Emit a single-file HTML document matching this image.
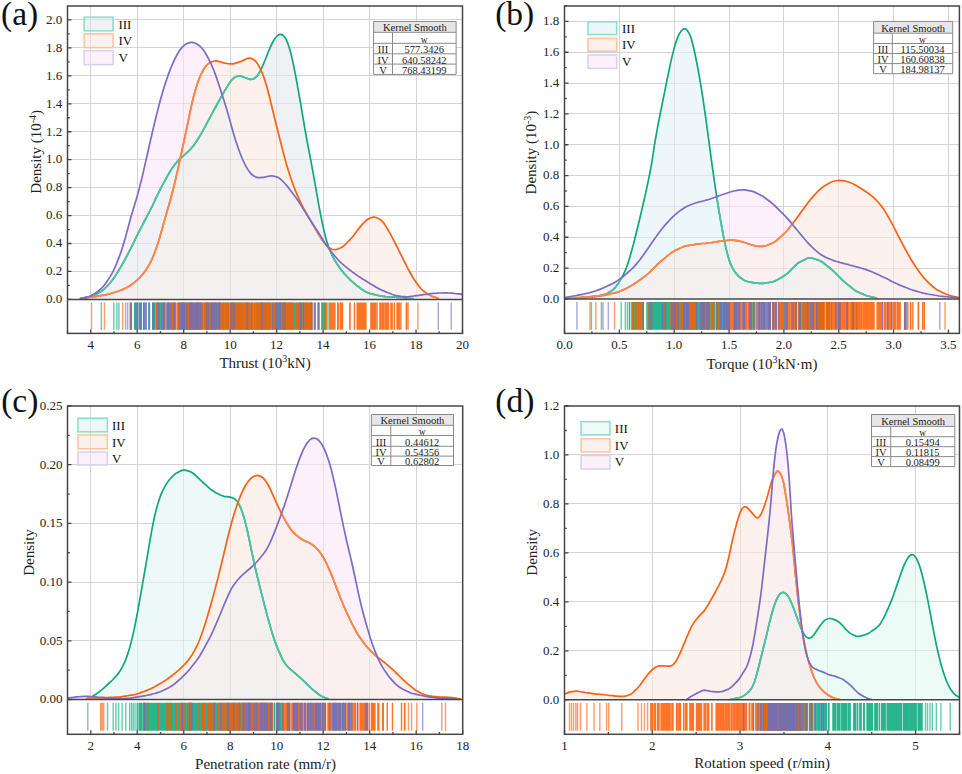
<!DOCTYPE html><html><head><meta charset="utf-8"><title>Kernel density plots</title>
<style>html,body{margin:0;padding:0;background:#fff;}svg{display:block;}</style></head><body>
<svg width="962" height="774" viewBox="0 0 962 774">
<rect width="962" height="774" fill="#fff"/>
<defs><clipPath id="clipa"><rect x="67.5" y="6" width="395" height="293.4"/></clipPath>
<path id="caIII" d="M79.8,298.6C80.3,298.5 81.8,298.1 82.8,298C83.8,297.8 84.8,297.6 85.8,297.4C86.8,297.3 87.8,297.1 88.8,296.8C89.8,296.5 90.8,296.3 91.8,295.9C92.8,295.6 93.8,295.2 94.8,294.8C95.8,294.4 96.8,294 97.8,293.5C98.8,292.9 99.8,292.3 100.8,291.6C101.8,290.9 102.8,290.1 103.8,289.3C104.8,288.4 105.8,287.5 106.8,286.5C107.8,285.5 108.8,284.4 109.8,283.3C110.8,282.1 111.8,280.8 112.8,279.5C113.8,278.1 114.8,276.7 115.8,275.1C116.8,273.6 117.8,272 118.8,270.3C119.8,268.7 120.8,266.9 121.8,265.2C122.8,263.4 123.8,261.6 124.8,259.8C125.8,257.9 126.8,256.1 127.8,254.1C128.8,252.2 129.8,250.2 130.8,248.3C131.8,246.3 132.8,244.3 133.8,242.3C134.8,240.3 135.8,238.3 136.8,236.2C137.8,234.2 138.8,232.2 139.8,230.2C140.8,228.2 141.8,226.2 142.8,224.3C143.8,222.3 144.8,220.4 145.8,218.5C146.8,216.6 147.8,214.8 148.8,212.9C149.8,211 150.8,209.1 151.8,207C152.8,205 153.8,202.8 154.8,200.6C155.8,198.5 156.8,196.3 157.8,194.3C158.8,192.2 159.8,190.2 160.8,188.3C161.8,186.3 162.8,184.4 163.8,182.6C164.8,180.7 165.8,178.9 166.8,177.2C167.8,175.4 168.8,173.6 169.8,172C170.8,170.3 171.8,168.7 172.8,167.3C173.8,165.8 174.8,164.5 175.8,163.3C176.8,162 177.8,160.9 178.8,159.9C179.8,158.9 180.8,158 181.8,157.1C182.8,156.2 183.8,155.4 184.8,154.6C185.8,153.7 186.8,152.9 187.8,151.9C188.8,151 189.8,150 190.8,148.9C191.8,147.7 192.8,146.5 193.8,145.2C194.8,143.8 195.8,142.4 196.8,140.8C197.8,139.3 198.8,137.7 199.8,136C200.8,134.3 201.8,132.6 202.8,130.8C203.8,129 204.8,127.2 205.8,125.3C206.8,123.5 207.8,121.6 208.8,119.7C209.8,117.9 210.8,116 211.8,114.1C212.8,112.2 213.8,110.3 214.8,108.5C215.8,106.6 216.8,104.8 217.8,103C218.8,101.2 219.8,99.4 220.8,97.6C221.8,95.9 222.8,94.1 223.8,92.3C224.8,90.6 225.8,88.8 226.8,87.2C227.8,85.5 228.8,83.8 229.8,82.4C230.8,81 231.8,79.8 232.8,78.8C233.8,77.9 234.8,77.2 235.8,76.7C236.8,76.3 237.8,76 238.8,76C239.8,75.9 240.8,76.2 241.8,76.4C242.8,76.7 243.8,77.1 244.8,77.5C245.8,77.8 246.8,78.3 247.8,78.7C248.8,79 249.8,79.4 250.8,79.4C251.8,79.4 252.8,79.2 253.8,78.7C254.8,78.2 255.8,77.4 256.8,76.2C257.8,75.1 258.8,73.6 259.8,71.8C260.8,70.1 261.8,67.9 262.8,65.6C263.8,63.3 264.8,60.8 265.8,58.3C266.8,55.8 267.8,53.1 268.8,50.7C269.8,48.4 270.8,46 271.8,44C272.8,42 273.8,40.2 274.8,38.8C275.8,37.3 276.8,36.1 277.8,35.4C278.8,34.6 279.8,34.2 280.8,34.3C281.8,34.4 282.8,34.9 283.8,36C284.8,37 285.8,38.6 286.8,40.8C287.8,43.1 288.8,46 289.8,49.4C290.8,52.9 291.8,57.1 292.8,61.6C293.8,66.2 294.8,71.4 295.8,76.6C296.8,81.9 297.8,87.4 298.8,93.1C299.8,98.7 300.8,104.6 301.8,110.4C302.8,116.3 303.8,122.6 304.8,128.3C305.8,134.1 306.8,139.6 307.8,145C308.8,150.3 309.8,155.1 310.8,160.4C311.8,165.6 312.8,171.1 313.8,176.7C314.8,182.2 315.8,188.2 316.8,193.8C317.8,199.4 318.8,205.1 319.8,210.3C320.8,215.6 321.8,220.7 322.8,225.3C323.8,229.9 324.8,234.3 325.8,238C326.8,241.7 327.8,244.8 328.8,247.5C329.8,250.3 330.8,252.6 331.8,254.7C332.8,256.8 333.8,258.6 334.8,260.3C335.8,262 336.8,263.5 337.8,265C338.8,266.5 339.8,268 340.8,269.3C341.8,270.7 342.8,271.9 343.8,273.1C344.8,274.2 345.8,275.2 346.8,276.3C347.8,277.3 348.8,278.3 349.8,279.3C350.8,280.3 351.8,281.3 352.8,282.2C353.8,283.1 354.8,284 355.8,284.8C356.8,285.6 357.8,286.3 358.8,287C359.8,287.8 360.8,288.5 361.8,289.2C362.8,289.9 363.8,290.6 364.8,291.2C365.8,291.7 366.8,292.3 367.8,292.7C368.8,293.1 369.8,293.4 370.8,293.7C371.8,294 372.8,294.2 373.8,294.4C374.8,294.7 375.8,294.9 376.8,295.2C377.8,295.4 378.8,295.6 379.8,295.8C380.8,296 381.8,296.2 382.8,296.3C383.8,296.4 384.8,296.5 385.8,296.6C386.8,296.6 387.8,296.7 388.8,296.8C389.8,296.8 390.8,296.9 391.8,296.9C392.8,297 393.8,297.1 394.8,297.1C395.8,297.2 396.8,297.2 397.8,297.3C398.8,297.4 399.8,297.4 400.8,297.5C401.8,297.6 402.8,297.7 403.8,297.8C404.8,297.9 405.8,298 406.8,298.1C407.8,298.2 408.8,298.3 409.8,298.4C410.8,298.5 412.3,298.6 412.8,298.6C413.3,298.7 413,298.8 413,298.8"/>
<path id="aaIII" d="M79.8,298.6C80.3,298.5 81.8,298.1 82.8,298C83.8,297.8 84.8,297.6 85.8,297.4C86.8,297.3 87.8,297.1 88.8,296.8C89.8,296.5 90.8,296.3 91.8,295.9C92.8,295.6 93.8,295.2 94.8,294.8C95.8,294.4 96.8,294 97.8,293.5C98.8,292.9 99.8,292.3 100.8,291.6C101.8,290.9 102.8,290.1 103.8,289.3C104.8,288.4 105.8,287.5 106.8,286.5C107.8,285.5 108.8,284.4 109.8,283.3C110.8,282.1 111.8,280.8 112.8,279.5C113.8,278.1 114.8,276.7 115.8,275.1C116.8,273.6 117.8,272 118.8,270.3C119.8,268.7 120.8,266.9 121.8,265.2C122.8,263.4 123.8,261.6 124.8,259.8C125.8,257.9 126.8,256.1 127.8,254.1C128.8,252.2 129.8,250.2 130.8,248.3C131.8,246.3 132.8,244.3 133.8,242.3C134.8,240.3 135.8,238.3 136.8,236.2C137.8,234.2 138.8,232.2 139.8,230.2C140.8,228.2 141.8,226.2 142.8,224.3C143.8,222.3 144.8,220.4 145.8,218.5C146.8,216.6 147.8,214.8 148.8,212.9C149.8,211 150.8,209.1 151.8,207C152.8,205 153.8,202.8 154.8,200.6C155.8,198.5 156.8,196.3 157.8,194.3C158.8,192.2 159.8,190.2 160.8,188.3C161.8,186.3 162.8,184.4 163.8,182.6C164.8,180.7 165.8,178.9 166.8,177.2C167.8,175.4 168.8,173.6 169.8,172C170.8,170.3 171.8,168.7 172.8,167.3C173.8,165.8 174.8,164.5 175.8,163.3C176.8,162 177.8,160.9 178.8,159.9C179.8,158.9 180.8,158 181.8,157.1C182.8,156.2 183.8,155.4 184.8,154.6C185.8,153.7 186.8,152.9 187.8,151.9C188.8,151 189.8,150 190.8,148.9C191.8,147.7 192.8,146.5 193.8,145.2C194.8,143.8 195.8,142.4 196.8,140.8C197.8,139.3 198.8,137.7 199.8,136C200.8,134.3 201.8,132.6 202.8,130.8C203.8,129 204.8,127.2 205.8,125.3C206.8,123.5 207.8,121.6 208.8,119.7C209.8,117.9 210.8,116 211.8,114.1C212.8,112.2 213.8,110.3 214.8,108.5C215.8,106.6 216.8,104.8 217.8,103C218.8,101.2 219.8,99.4 220.8,97.6C221.8,95.9 222.8,94.1 223.8,92.3C224.8,90.6 225.8,88.8 226.8,87.2C227.8,85.5 228.8,83.8 229.8,82.4C230.8,81 231.8,79.8 232.8,78.8C233.8,77.9 234.8,77.2 235.8,76.7C236.8,76.3 237.8,76 238.8,76C239.8,75.9 240.8,76.2 241.8,76.4C242.8,76.7 243.8,77.1 244.8,77.5C245.8,77.8 246.8,78.3 247.8,78.7C248.8,79 249.8,79.4 250.8,79.4C251.8,79.4 252.8,79.2 253.8,78.7C254.8,78.2 255.8,77.4 256.8,76.2C257.8,75.1 258.8,73.6 259.8,71.8C260.8,70.1 261.8,67.9 262.8,65.6C263.8,63.3 264.8,60.8 265.8,58.3C266.8,55.8 267.8,53.1 268.8,50.7C269.8,48.4 270.8,46 271.8,44C272.8,42 273.8,40.2 274.8,38.8C275.8,37.3 276.8,36.1 277.8,35.4C278.8,34.6 279.8,34.2 280.8,34.3C281.8,34.4 282.8,34.9 283.8,36C284.8,37 285.8,38.6 286.8,40.8C287.8,43.1 288.8,46 289.8,49.4C290.8,52.9 291.8,57.1 292.8,61.6C293.8,66.2 294.8,71.4 295.8,76.6C296.8,81.9 297.8,87.4 298.8,93.1C299.8,98.7 300.8,104.6 301.8,110.4C302.8,116.3 303.8,122.6 304.8,128.3C305.8,134.1 306.8,139.6 307.8,145C308.8,150.3 309.8,155.1 310.8,160.4C311.8,165.6 312.8,171.1 313.8,176.7C314.8,182.2 315.8,188.2 316.8,193.8C317.8,199.4 318.8,205.1 319.8,210.3C320.8,215.6 321.8,220.7 322.8,225.3C323.8,229.9 324.8,234.3 325.8,238C326.8,241.7 327.8,244.8 328.8,247.5C329.8,250.3 330.8,252.6 331.8,254.7C332.8,256.8 333.8,258.6 334.8,260.3C335.8,262 336.8,263.5 337.8,265C338.8,266.5 339.8,268 340.8,269.3C341.8,270.7 342.8,271.9 343.8,273.1C344.8,274.2 345.8,275.2 346.8,276.3C347.8,277.3 348.8,278.3 349.8,279.3C350.8,280.3 351.8,281.3 352.8,282.2C353.8,283.1 354.8,284 355.8,284.8C356.8,285.6 357.8,286.3 358.8,287C359.8,287.8 360.8,288.5 361.8,289.2C362.8,289.9 363.8,290.6 364.8,291.2C365.8,291.7 366.8,292.3 367.8,292.7C368.8,293.1 369.8,293.4 370.8,293.7C371.8,294 372.8,294.2 373.8,294.4C374.8,294.7 375.8,294.9 376.8,295.2C377.8,295.4 378.8,295.6 379.8,295.8C380.8,296 381.8,296.2 382.8,296.3C383.8,296.4 384.8,296.5 385.8,296.6C386.8,296.6 387.8,296.7 388.8,296.8C389.8,296.8 390.8,296.9 391.8,296.9C392.8,297 393.8,297.1 394.8,297.1C395.8,297.2 396.8,297.2 397.8,297.3C398.8,297.4 399.8,297.4 400.8,297.5C401.8,297.6 402.8,297.7 403.8,297.8C404.8,297.9 405.8,298 406.8,298.1C407.8,298.2 408.8,298.3 409.8,298.4C410.8,298.5 412.3,298.6 412.8,298.6C413.3,298.7 413,298.8 413,298.8L413,299.4L79.8,299.4Z"/>
<clipPath id="faIII"><use href="#aaIII"/></clipPath>
<path id="caIV" d="M79.8,298.5C80.3,298.4 81.8,298.2 82.8,298.1C83.8,298 84.8,297.9 85.8,297.8C86.8,297.6 87.8,297.5 88.8,297.4C89.8,297.2 90.8,297.1 91.8,297C92.8,296.8 93.8,296.7 94.8,296.6C95.8,296.4 96.8,296.3 97.8,296.1C98.8,296 99.8,295.9 100.8,295.7C101.8,295.6 102.8,295.4 103.8,295.2C104.8,295.1 105.8,294.9 106.8,294.6C107.8,294.4 108.8,294.1 109.8,293.8C110.8,293.5 111.8,293.2 112.8,292.9C113.8,292.6 114.8,292.3 115.8,292C116.8,291.7 117.8,291.3 118.8,291C119.8,290.6 120.8,290.2 121.8,289.8C122.8,289.4 123.8,288.9 124.8,288.5C125.8,288 126.8,287.6 127.8,287C128.8,286.5 129.8,285.9 130.8,285.2C131.8,284.5 132.8,283.7 133.8,282.9C134.8,282.2 135.8,281.3 136.8,280.4C137.8,279.5 138.8,278.5 139.8,277.5C140.8,276.4 141.8,275.3 142.8,274.1C143.8,272.9 144.8,271.6 145.8,270.2C146.8,268.7 147.8,267.2 148.8,265.4C149.8,263.7 150.8,261.8 151.8,259.6C152.8,257.4 153.8,255 154.8,252.3C155.8,249.7 156.8,246.9 157.8,243.8C158.8,240.7 159.8,237.3 160.8,233.8C161.8,230.3 162.8,226.5 163.8,222.9C164.8,219.3 165.8,215.7 166.8,212.2C167.8,208.7 168.8,205.4 169.8,201.9C170.8,198.3 171.8,194.7 172.8,190.8C173.8,186.9 174.8,182.7 175.8,178.5C176.8,174.2 177.8,169.6 178.8,165.1C179.8,160.5 180.8,155.9 181.8,151.2C182.8,146.6 183.8,141.9 184.8,137.2C185.8,132.5 186.8,127.8 187.8,123C188.8,118.2 189.8,113.1 190.8,108.6C191.8,104.1 192.8,99.6 193.8,95.8C194.8,91.9 195.8,88.5 196.8,85.4C197.8,82.3 198.8,79.6 199.8,77.2C200.8,74.8 201.8,72.7 202.8,70.9C203.8,69 204.8,67.5 205.8,66.3C206.8,65 207.8,64.1 208.8,63.4C209.8,62.6 210.8,62.1 211.8,61.7C212.8,61.3 213.8,61 214.8,61C215.8,60.9 216.8,61 217.8,61.2C218.8,61.4 219.8,61.8 220.8,62C221.8,62.3 222.8,62.6 223.8,62.9C224.8,63.1 225.8,63.3 226.8,63.5C227.8,63.7 228.8,63.9 229.8,63.9C230.8,64 231.8,63.9 232.8,63.8C233.8,63.7 234.8,63.4 235.8,63.1C236.8,62.8 237.8,62.5 238.8,62.1C239.8,61.8 240.8,61.4 241.8,60.9C242.8,60.5 243.8,60 244.8,59.6C245.8,59.1 246.8,58.6 247.8,58.4C248.8,58.2 249.8,58.1 250.8,58.3C251.8,58.5 252.8,59 253.8,59.8C254.8,60.5 255.8,61.5 256.8,62.8C257.8,64.1 258.8,65.8 259.8,67.7C260.8,69.6 261.8,71.8 262.8,74.4C263.8,77 264.8,80 265.8,83.3C266.8,86.6 267.8,90.3 268.8,94.2C269.8,98 270.8,102.3 271.8,106.5C272.8,110.6 273.8,114.9 274.8,118.9C275.8,123 276.8,127 277.8,131C278.8,135 279.8,138.9 280.8,142.8C281.8,146.8 282.8,150.8 283.8,154.6C284.8,158.4 285.8,162.1 286.8,165.5C287.8,168.9 288.8,172.1 289.8,175.1C290.8,178.2 291.8,181.1 292.8,183.8C293.8,186.6 294.8,189.1 295.8,191.6C296.8,194.1 297.8,196.4 298.8,198.6C299.8,200.8 300.8,202.9 301.8,204.9C302.8,206.9 303.8,208.6 304.8,210.4C305.8,212.2 306.8,214 307.8,215.7C308.8,217.5 309.8,219.2 310.8,220.9C311.8,222.7 312.8,224.4 313.8,226.2C314.8,227.9 315.8,229.7 316.8,231.4C317.8,233.1 318.8,234.8 319.8,236.4C320.8,237.9 321.8,239.4 322.8,240.8C323.8,242.2 324.8,243.5 325.8,244.7C326.8,245.8 327.8,246.8 328.8,247.5C329.8,248.3 330.8,248.8 331.8,249.2C332.8,249.5 333.8,249.6 334.8,249.6C335.8,249.6 336.8,249.3 337.8,249C338.8,248.7 339.8,248.3 340.8,247.8C341.8,247.2 342.8,246.6 343.8,245.8C344.8,245 345.8,244 346.8,243C347.8,242 348.8,241 349.8,239.9C350.8,238.8 351.8,237.7 352.8,236.5C353.8,235.3 354.8,233.9 355.8,232.6C356.8,231.3 357.8,229.9 358.8,228.6C359.8,227.3 360.8,226 361.8,224.9C362.8,223.7 363.8,222.7 364.8,221.8C365.8,220.8 366.8,220 367.8,219.3C368.8,218.6 369.8,218.1 370.8,217.7C371.8,217.3 372.8,217.1 373.8,217.1C374.8,217.1 375.8,217.3 376.8,217.7C377.8,218 378.8,218.5 379.8,219.2C380.8,219.9 381.8,220.7 382.8,221.9C383.8,223 384.8,224.6 385.8,226.1C386.8,227.7 387.8,229.5 388.8,231.2C389.8,233 390.8,234.8 391.8,236.7C392.8,238.6 393.8,240.5 394.8,242.5C395.8,244.4 396.8,246.4 397.8,248.4C398.8,250.4 399.8,252.4 400.8,254.4C401.8,256.4 402.8,258.4 403.8,260.4C404.8,262.4 405.8,264.4 406.8,266.3C407.8,268.3 408.8,270.2 409.8,272C410.8,273.9 411.8,275.6 412.8,277.2C413.8,278.8 414.8,280.4 415.8,281.8C416.8,283.3 417.8,284.8 418.8,286.1C419.8,287.4 420.8,288.5 421.8,289.5C422.8,290.5 423.8,291.2 424.8,291.9C425.8,292.7 426.8,293.4 427.8,294C428.8,294.6 429.8,295.2 430.8,295.7C431.8,296.2 432.8,296.6 433.8,296.9C434.8,297.2 436,297.4 436.8,297.7C437.6,298 438.5,298.5 438.8,298.6"/>
<path id="aaIV" d="M79.8,298.5C80.3,298.4 81.8,298.2 82.8,298.1C83.8,298 84.8,297.9 85.8,297.8C86.8,297.6 87.8,297.5 88.8,297.4C89.8,297.2 90.8,297.1 91.8,297C92.8,296.8 93.8,296.7 94.8,296.6C95.8,296.4 96.8,296.3 97.8,296.1C98.8,296 99.8,295.9 100.8,295.7C101.8,295.6 102.8,295.4 103.8,295.2C104.8,295.1 105.8,294.9 106.8,294.6C107.8,294.4 108.8,294.1 109.8,293.8C110.8,293.5 111.8,293.2 112.8,292.9C113.8,292.6 114.8,292.3 115.8,292C116.8,291.7 117.8,291.3 118.8,291C119.8,290.6 120.8,290.2 121.8,289.8C122.8,289.4 123.8,288.9 124.8,288.5C125.8,288 126.8,287.6 127.8,287C128.8,286.5 129.8,285.9 130.8,285.2C131.8,284.5 132.8,283.7 133.8,282.9C134.8,282.2 135.8,281.3 136.8,280.4C137.8,279.5 138.8,278.5 139.8,277.5C140.8,276.4 141.8,275.3 142.8,274.1C143.8,272.9 144.8,271.6 145.8,270.2C146.8,268.7 147.8,267.2 148.8,265.4C149.8,263.7 150.8,261.8 151.8,259.6C152.8,257.4 153.8,255 154.8,252.3C155.8,249.7 156.8,246.9 157.8,243.8C158.8,240.7 159.8,237.3 160.8,233.8C161.8,230.3 162.8,226.5 163.8,222.9C164.8,219.3 165.8,215.7 166.8,212.2C167.8,208.7 168.8,205.4 169.8,201.9C170.8,198.3 171.8,194.7 172.8,190.8C173.8,186.9 174.8,182.7 175.8,178.5C176.8,174.2 177.8,169.6 178.8,165.1C179.8,160.5 180.8,155.9 181.8,151.2C182.8,146.6 183.8,141.9 184.8,137.2C185.8,132.5 186.8,127.8 187.8,123C188.8,118.2 189.8,113.1 190.8,108.6C191.8,104.1 192.8,99.6 193.8,95.8C194.8,91.9 195.8,88.5 196.8,85.4C197.8,82.3 198.8,79.6 199.8,77.2C200.8,74.8 201.8,72.7 202.8,70.9C203.8,69 204.8,67.5 205.8,66.3C206.8,65 207.8,64.1 208.8,63.4C209.8,62.6 210.8,62.1 211.8,61.7C212.8,61.3 213.8,61 214.8,61C215.8,60.9 216.8,61 217.8,61.2C218.8,61.4 219.8,61.8 220.8,62C221.8,62.3 222.8,62.6 223.8,62.9C224.8,63.1 225.8,63.3 226.8,63.5C227.8,63.7 228.8,63.9 229.8,63.9C230.8,64 231.8,63.9 232.8,63.8C233.8,63.7 234.8,63.4 235.8,63.1C236.8,62.8 237.8,62.5 238.8,62.1C239.8,61.8 240.8,61.4 241.8,60.9C242.8,60.5 243.8,60 244.8,59.6C245.8,59.1 246.8,58.6 247.8,58.4C248.8,58.2 249.8,58.1 250.8,58.3C251.8,58.5 252.8,59 253.8,59.8C254.8,60.5 255.8,61.5 256.8,62.8C257.8,64.1 258.8,65.8 259.8,67.7C260.8,69.6 261.8,71.8 262.8,74.4C263.8,77 264.8,80 265.8,83.3C266.8,86.6 267.8,90.3 268.8,94.2C269.8,98 270.8,102.3 271.8,106.5C272.8,110.6 273.8,114.9 274.8,118.9C275.8,123 276.8,127 277.8,131C278.8,135 279.8,138.9 280.8,142.8C281.8,146.8 282.8,150.8 283.8,154.6C284.8,158.4 285.8,162.1 286.8,165.5C287.8,168.9 288.8,172.1 289.8,175.1C290.8,178.2 291.8,181.1 292.8,183.8C293.8,186.6 294.8,189.1 295.8,191.6C296.8,194.1 297.8,196.4 298.8,198.6C299.8,200.8 300.8,202.9 301.8,204.9C302.8,206.9 303.8,208.6 304.8,210.4C305.8,212.2 306.8,214 307.8,215.7C308.8,217.5 309.8,219.2 310.8,220.9C311.8,222.7 312.8,224.4 313.8,226.2C314.8,227.9 315.8,229.7 316.8,231.4C317.8,233.1 318.8,234.8 319.8,236.4C320.8,237.9 321.8,239.4 322.8,240.8C323.8,242.2 324.8,243.5 325.8,244.7C326.8,245.8 327.8,246.8 328.8,247.5C329.8,248.3 330.8,248.8 331.8,249.2C332.8,249.5 333.8,249.6 334.8,249.6C335.8,249.6 336.8,249.3 337.8,249C338.8,248.7 339.8,248.3 340.8,247.8C341.8,247.2 342.8,246.6 343.8,245.8C344.8,245 345.8,244 346.8,243C347.8,242 348.8,241 349.8,239.9C350.8,238.8 351.8,237.7 352.8,236.5C353.8,235.3 354.8,233.9 355.8,232.6C356.8,231.3 357.8,229.9 358.8,228.6C359.8,227.3 360.8,226 361.8,224.9C362.8,223.7 363.8,222.7 364.8,221.8C365.8,220.8 366.8,220 367.8,219.3C368.8,218.6 369.8,218.1 370.8,217.7C371.8,217.3 372.8,217.1 373.8,217.1C374.8,217.1 375.8,217.3 376.8,217.7C377.8,218 378.8,218.5 379.8,219.2C380.8,219.9 381.8,220.7 382.8,221.9C383.8,223 384.8,224.6 385.8,226.1C386.8,227.7 387.8,229.5 388.8,231.2C389.8,233 390.8,234.8 391.8,236.7C392.8,238.6 393.8,240.5 394.8,242.5C395.8,244.4 396.8,246.4 397.8,248.4C398.8,250.4 399.8,252.4 400.8,254.4C401.8,256.4 402.8,258.4 403.8,260.4C404.8,262.4 405.8,264.4 406.8,266.3C407.8,268.3 408.8,270.2 409.8,272C410.8,273.9 411.8,275.6 412.8,277.2C413.8,278.8 414.8,280.4 415.8,281.8C416.8,283.3 417.8,284.8 418.8,286.1C419.8,287.4 420.8,288.5 421.8,289.5C422.8,290.5 423.8,291.2 424.8,291.9C425.8,292.7 426.8,293.4 427.8,294C428.8,294.6 429.8,295.2 430.8,295.7C431.8,296.2 432.8,296.6 433.8,296.9C434.8,297.2 436,297.4 436.8,297.7C437.6,298 438.5,298.5 438.8,298.6L438.8,299.4L79.8,299.4Z"/>
<clipPath id="faIV"><use href="#aaIV"/></clipPath>
<path id="caV" d="M79.8,298.8C80.3,298.7 81.8,298.2 82.8,298C83.8,297.7 84.8,297.6 85.8,297.4C86.8,297.1 87.8,296.9 88.8,296.5C89.8,296.2 90.8,295.8 91.8,295.3C92.8,294.8 93.8,294.2 94.8,293.6C95.8,293 96.8,292.3 97.8,291.5C98.8,290.7 99.8,289.9 100.8,288.9C101.8,287.9 102.8,286.8 103.8,285.7C104.8,284.5 105.8,283.1 106.8,281.7C107.8,280.3 108.8,278.7 109.8,277.1C110.8,275.4 111.8,273.8 112.8,271.9C113.8,269.9 114.8,267.8 115.8,265.5C116.8,263.2 117.8,260.6 118.8,257.9C119.8,255.3 120.8,252.5 121.8,249.4C122.8,246.4 123.8,243.1 124.8,239.6C125.8,236.1 126.8,232.3 127.8,228.6C128.8,224.9 129.8,221 130.8,217.5C131.8,214 132.8,210.7 133.8,207.3C134.8,204 135.8,200.9 136.8,197.4C137.8,193.9 138.8,190.3 139.8,186.4C140.8,182.6 141.8,178.4 142.8,174.1C143.8,169.9 144.8,165.5 145.8,161.1C146.8,156.7 147.8,152.2 148.8,147.8C149.8,143.3 150.8,138.8 151.8,134.5C152.8,130.2 153.8,126.1 154.8,122C155.8,117.9 156.8,113.8 157.8,109.9C158.8,106 159.8,102.2 160.8,98.6C161.8,95 162.8,91.6 163.8,88.3C164.8,85 165.8,81.9 166.8,79C167.8,76 168.8,73.2 169.8,70.6C170.8,68 171.8,65.7 172.8,63.4C173.8,61.1 174.8,58.9 175.8,57C176.8,55 177.8,53.3 178.8,51.7C179.8,50.2 180.8,48.8 181.8,47.6C182.8,46.5 183.8,45.6 184.8,44.9C185.8,44.1 186.8,43.6 187.8,43.2C188.8,42.8 189.8,42.5 190.8,42.4C191.8,42.3 192.8,42.5 193.8,42.7C194.8,43 195.8,43.4 196.8,43.9C197.8,44.5 198.8,45.2 199.8,46.1C200.8,47 201.8,48.1 202.8,49.3C203.8,50.6 204.8,52.1 205.8,53.7C206.8,55.3 207.8,57.2 208.8,59.1C209.8,61.1 210.8,63.2 211.8,65.5C212.8,67.8 213.8,70.2 214.8,72.9C215.8,75.6 216.8,78.5 217.8,81.5C218.8,84.4 219.8,87.6 220.8,90.7C221.8,93.8 222.8,96.9 223.8,100C224.8,103.2 225.8,106.3 226.8,109.6C227.8,113 228.8,116.6 229.8,120.1C230.8,123.7 231.8,127.5 232.8,130.9C233.8,134.4 234.8,137.7 235.8,140.9C236.8,144 237.8,146.9 238.8,149.7C239.8,152.5 240.8,155.1 241.8,157.5C242.8,159.9 243.8,162.1 244.8,164.1C245.8,166.1 246.8,167.9 247.8,169.4C248.8,171 249.8,172.3 250.8,173.4C251.8,174.5 252.8,175.3 253.8,175.9C254.8,176.6 255.8,177.1 256.8,177.4C257.8,177.7 258.8,177.7 259.8,177.7C260.8,177.7 261.8,177.5 262.8,177.3C263.8,177.2 264.8,176.9 265.8,176.8C266.8,176.6 267.8,176.4 268.8,176.2C269.8,176.1 270.8,175.9 271.8,175.9C272.8,175.9 273.8,176 274.8,176.3C275.8,176.5 276.8,176.8 277.8,177.3C278.8,177.8 279.8,178.4 280.8,179.3C281.8,180.1 282.8,181.1 283.8,182.2C284.8,183.3 285.8,184.4 286.8,185.6C287.8,186.8 288.8,188.1 289.8,189.4C290.8,190.7 291.8,192 292.8,193.4C293.8,194.8 294.8,196.1 295.8,197.6C296.8,199 297.8,200.4 298.8,201.9C299.8,203.4 300.8,205 301.8,206.6C302.8,208.2 303.8,209.8 304.8,211.4C305.8,213 306.8,214.6 307.8,216.2C308.8,217.7 309.8,219.3 310.8,220.8C311.8,222.4 312.8,223.9 313.8,225.4C314.8,226.9 315.8,228.4 316.8,230C317.8,231.5 318.8,233.1 319.8,234.7C320.8,236.3 321.8,237.9 322.8,239.5C323.8,241.1 324.8,242.8 325.8,244.3C326.8,245.8 327.8,247.2 328.8,248.6C329.8,249.9 330.8,251.2 331.8,252.4C332.8,253.6 333.8,254.8 334.8,256C335.8,257.2 336.8,258.4 337.8,259.5C338.8,260.6 339.8,261.6 340.8,262.6C341.8,263.5 342.8,264.4 343.8,265.2C344.8,266.1 345.8,266.8 346.8,267.6C347.8,268.4 348.8,269.2 349.8,270C350.8,270.8 351.8,271.5 352.8,272.3C353.8,273 354.8,273.7 355.8,274.4C356.8,275 357.8,275.7 358.8,276.4C359.8,277 360.8,277.7 361.8,278.4C362.8,279 363.8,279.7 364.8,280.3C365.8,281 366.8,281.6 367.8,282.2C368.8,282.8 369.8,283.4 370.8,284C371.8,284.6 372.8,285.2 373.8,285.8C374.8,286.4 375.8,286.9 376.8,287.5C377.8,288.1 378.8,288.7 379.8,289.2C380.8,289.7 381.8,290.2 382.8,290.6C383.8,291.1 384.8,291.5 385.8,291.9C386.8,292.3 387.8,292.6 388.8,293C389.8,293.4 390.8,293.8 391.8,294.2C392.8,294.5 393.8,294.9 394.8,295.2C395.8,295.5 396.8,295.7 397.8,295.9C398.8,296.1 399.8,296.3 400.8,296.4C401.8,296.5 402.8,296.7 403.8,296.7C404.8,296.8 405.8,296.8 406.8,296.8C407.8,296.8 408.8,296.7 409.8,296.5C410.8,296.4 411.8,296.3 412.8,296.2C413.8,296 414.8,295.9 415.8,295.7C416.8,295.6 417.8,295.5 418.8,295.3C419.8,295.2 420.8,295.1 421.8,294.9C422.8,294.8 423.8,294.6 424.8,294.5C425.8,294.4 426.8,294.2 427.8,294.1C428.8,293.9 429.8,293.8 430.8,293.7C431.8,293.6 432.8,293.5 433.8,293.4C434.8,293.3 435.8,293.2 436.8,293.2C437.8,293.1 438.8,293 439.8,293C440.8,292.9 441.8,292.9 442.8,292.9C443.8,292.8 444.8,292.8 445.8,292.8C446.8,292.9 447.8,292.9 448.8,293C449.8,293 450.8,293.1 451.8,293.2C452.8,293.3 453.8,293.4 454.8,293.5C455.8,293.6 456.8,293.7 457.8,293.8C458.8,293.9 460,294 460.8,294.1C461.6,294.2 462.2,294.3 462.5,294.4"/>
<path id="aaV" d="M79.8,298.8C80.3,298.7 81.8,298.2 82.8,298C83.8,297.7 84.8,297.6 85.8,297.4C86.8,297.1 87.8,296.9 88.8,296.5C89.8,296.2 90.8,295.8 91.8,295.3C92.8,294.8 93.8,294.2 94.8,293.6C95.8,293 96.8,292.3 97.8,291.5C98.8,290.7 99.8,289.9 100.8,288.9C101.8,287.9 102.8,286.8 103.8,285.7C104.8,284.5 105.8,283.1 106.8,281.7C107.8,280.3 108.8,278.7 109.8,277.1C110.8,275.4 111.8,273.8 112.8,271.9C113.8,269.9 114.8,267.8 115.8,265.5C116.8,263.2 117.8,260.6 118.8,257.9C119.8,255.3 120.8,252.5 121.8,249.4C122.8,246.4 123.8,243.1 124.8,239.6C125.8,236.1 126.8,232.3 127.8,228.6C128.8,224.9 129.8,221 130.8,217.5C131.8,214 132.8,210.7 133.8,207.3C134.8,204 135.8,200.9 136.8,197.4C137.8,193.9 138.8,190.3 139.8,186.4C140.8,182.6 141.8,178.4 142.8,174.1C143.8,169.9 144.8,165.5 145.8,161.1C146.8,156.7 147.8,152.2 148.8,147.8C149.8,143.3 150.8,138.8 151.8,134.5C152.8,130.2 153.8,126.1 154.8,122C155.8,117.9 156.8,113.8 157.8,109.9C158.8,106 159.8,102.2 160.8,98.6C161.8,95 162.8,91.6 163.8,88.3C164.8,85 165.8,81.9 166.8,79C167.8,76 168.8,73.2 169.8,70.6C170.8,68 171.8,65.7 172.8,63.4C173.8,61.1 174.8,58.9 175.8,57C176.8,55 177.8,53.3 178.8,51.7C179.8,50.2 180.8,48.8 181.8,47.6C182.8,46.5 183.8,45.6 184.8,44.9C185.8,44.1 186.8,43.6 187.8,43.2C188.8,42.8 189.8,42.5 190.8,42.4C191.8,42.3 192.8,42.5 193.8,42.7C194.8,43 195.8,43.4 196.8,43.9C197.8,44.5 198.8,45.2 199.8,46.1C200.8,47 201.8,48.1 202.8,49.3C203.8,50.6 204.8,52.1 205.8,53.7C206.8,55.3 207.8,57.2 208.8,59.1C209.8,61.1 210.8,63.2 211.8,65.5C212.8,67.8 213.8,70.2 214.8,72.9C215.8,75.6 216.8,78.5 217.8,81.5C218.8,84.4 219.8,87.6 220.8,90.7C221.8,93.8 222.8,96.9 223.8,100C224.8,103.2 225.8,106.3 226.8,109.6C227.8,113 228.8,116.6 229.8,120.1C230.8,123.7 231.8,127.5 232.8,130.9C233.8,134.4 234.8,137.7 235.8,140.9C236.8,144 237.8,146.9 238.8,149.7C239.8,152.5 240.8,155.1 241.8,157.5C242.8,159.9 243.8,162.1 244.8,164.1C245.8,166.1 246.8,167.9 247.8,169.4C248.8,171 249.8,172.3 250.8,173.4C251.8,174.5 252.8,175.3 253.8,175.9C254.8,176.6 255.8,177.1 256.8,177.4C257.8,177.7 258.8,177.7 259.8,177.7C260.8,177.7 261.8,177.5 262.8,177.3C263.8,177.2 264.8,176.9 265.8,176.8C266.8,176.6 267.8,176.4 268.8,176.2C269.8,176.1 270.8,175.9 271.8,175.9C272.8,175.9 273.8,176 274.8,176.3C275.8,176.5 276.8,176.8 277.8,177.3C278.8,177.8 279.8,178.4 280.8,179.3C281.8,180.1 282.8,181.1 283.8,182.2C284.8,183.3 285.8,184.4 286.8,185.6C287.8,186.8 288.8,188.1 289.8,189.4C290.8,190.7 291.8,192 292.8,193.4C293.8,194.8 294.8,196.1 295.8,197.6C296.8,199 297.8,200.4 298.8,201.9C299.8,203.4 300.8,205 301.8,206.6C302.8,208.2 303.8,209.8 304.8,211.4C305.8,213 306.8,214.6 307.8,216.2C308.8,217.7 309.8,219.3 310.8,220.8C311.8,222.4 312.8,223.9 313.8,225.4C314.8,226.9 315.8,228.4 316.8,230C317.8,231.5 318.8,233.1 319.8,234.7C320.8,236.3 321.8,237.9 322.8,239.5C323.8,241.1 324.8,242.8 325.8,244.3C326.8,245.8 327.8,247.2 328.8,248.6C329.8,249.9 330.8,251.2 331.8,252.4C332.8,253.6 333.8,254.8 334.8,256C335.8,257.2 336.8,258.4 337.8,259.5C338.8,260.6 339.8,261.6 340.8,262.6C341.8,263.5 342.8,264.4 343.8,265.2C344.8,266.1 345.8,266.8 346.8,267.6C347.8,268.4 348.8,269.2 349.8,270C350.8,270.8 351.8,271.5 352.8,272.3C353.8,273 354.8,273.7 355.8,274.4C356.8,275 357.8,275.7 358.8,276.4C359.8,277 360.8,277.7 361.8,278.4C362.8,279 363.8,279.7 364.8,280.3C365.8,281 366.8,281.6 367.8,282.2C368.8,282.8 369.8,283.4 370.8,284C371.8,284.6 372.8,285.2 373.8,285.8C374.8,286.4 375.8,286.9 376.8,287.5C377.8,288.1 378.8,288.7 379.8,289.2C380.8,289.7 381.8,290.2 382.8,290.6C383.8,291.1 384.8,291.5 385.8,291.9C386.8,292.3 387.8,292.6 388.8,293C389.8,293.4 390.8,293.8 391.8,294.2C392.8,294.5 393.8,294.9 394.8,295.2C395.8,295.5 396.8,295.7 397.8,295.9C398.8,296.1 399.8,296.3 400.8,296.4C401.8,296.5 402.8,296.7 403.8,296.7C404.8,296.8 405.8,296.8 406.8,296.8C407.8,296.8 408.8,296.7 409.8,296.5C410.8,296.4 411.8,296.3 412.8,296.2C413.8,296 414.8,295.9 415.8,295.7C416.8,295.6 417.8,295.5 418.8,295.3C419.8,295.2 420.8,295.1 421.8,294.9C422.8,294.8 423.8,294.6 424.8,294.5C425.8,294.4 426.8,294.2 427.8,294.1C428.8,293.9 429.8,293.8 430.8,293.7C431.8,293.6 432.8,293.5 433.8,293.4C434.8,293.3 435.8,293.2 436.8,293.2C437.8,293.1 438.8,293 439.8,293C440.8,292.9 441.8,292.9 442.8,292.9C443.8,292.8 444.8,292.8 445.8,292.8C446.8,292.9 447.8,292.9 448.8,293C449.8,293 450.8,293.1 451.8,293.2C452.8,293.3 453.8,293.4 454.8,293.5C455.8,293.6 456.8,293.7 457.8,293.8C458.8,293.9 460,294 460.8,294.1C461.6,294.2 462.2,294.3 462.5,294.4L462.5,299.4L79.8,299.4Z"/>
<clipPath id="faV"><use href="#aaV"/></clipPath>
<clipPath id="faU"><use href="#aaIV"/><use href="#aaV"/></clipPath>
</defs>
<path d="M90.5,6V299.4M137.5,6V299.4M183.5,6V299.4M230.5,6V299.4M276.5,6V299.4M323.5,6V299.4M369.5,6V299.4M416.5,6V299.4M67.5,271.5H462.5M67.5,243.5H462.5M67.5,215.5H462.5M67.5,187.5H462.5M67.5,159.5H462.5M67.5,131.5H462.5M67.5,103.5H462.5M67.5,75.5H462.5M67.5,47.5H462.5M67.5,19.5H462.5" stroke="#d4d4d4" stroke-width="1" fill="none"/>
<g clip-path="url(#clipa)">
<use href="#aaV" fill="rgb(252,240,250)"/>
<use href="#aaIV" fill="rgb(252,241,236)"/>
<use href="#aaIII" fill="rgb(240,241,244)"/>
<use href="#aaIV" fill="rgb(251,240,239)" clip-path="url(#faV)"/>
<use href="#aaIII" fill="rgb(252,242,235)" clip-path="url(#faIV)"/>
<use href="#aaIII" fill="rgb(239,241,244)" clip-path="url(#faV)"/>
<g clip-path="url(#faV)"><use href="#aaIII" fill="rgb(244,240,239)" clip-path="url(#faIV)"/></g>
<path d="M90.5,6V299.4M137.5,6V299.4M183.5,6V299.4M230.5,6V299.4M276.5,6V299.4M323.5,6V299.4M369.5,6V299.4M416.5,6V299.4M67.5,271.5H462.5M67.5,243.5H462.5M67.5,215.5H462.5M67.5,187.5H462.5M67.5,159.5H462.5M67.5,131.5H462.5M67.5,103.5H462.5M67.5,75.5H462.5M67.5,47.5H462.5M67.5,19.5H462.5" stroke="#d4d4d4" stroke-width="1" fill="none" stroke-opacity="0.55"/>
<use href="#caIII" fill="none" stroke="#0ca87e" stroke-width="1.7" stroke-linejoin="round"/>
<use href="#caIII" fill="none" stroke="#4cc4a2" stroke-width="1.7" stroke-linejoin="round" clip-path="url(#faU)"/>
<use href="#caIV" fill="none" stroke="#ff6010" stroke-width="1.7" stroke-linejoin="round"/>
<use href="#caIV" fill="none" stroke="#ff864c" stroke-width="1.7" stroke-linejoin="round" clip-path="url(#faV)"/>
<use href="#caV" fill="none" stroke="#7b6cc8" stroke-width="1.7" stroke-linejoin="round"/>
</g>
<path d="M101.3,302.6V329.8M113.8,302.6V329.8M116.9,302.6V329.8M118.9,302.6V329.8" stroke="#00a878" stroke-width="1.4" stroke-opacity="0.6" fill="none"/>
<path d="M237.2,302.6V329.8M254.41,302.6V329.8M310.76,302.6V329.8M239.3,302.6V329.8M246.03,302.6V329.8M258.82,302.6V329.8M185.78,302.6V329.8M246.68,302.6V329.8M265.32,302.6V329.8M287.71,302.6V329.8M161.39,302.6V329.8M211.68,302.6V329.8M160.29,302.6V329.8M290.04,302.6V329.8M274.31,302.6V329.8M141.18,302.6V329.8M325.21,302.6V329.8M268.81,302.6V329.8M263.17,302.6V329.8M179.03,302.6V329.8M249.33,302.6V329.8M149.06,302.6V329.8M187.13,302.6V329.8M199.09,302.6V329.8M134.79,302.6V329.8M239.03,302.6V329.8M235.32,302.6V329.8M294.89,302.6V329.8M247.84,302.6V329.8M266.85,302.6V329.8M244.74,302.6V329.8M270.02,302.6V329.8M237.98,302.6V329.8M206.71,302.6V329.8M294.55,302.6V329.8M276.26,302.6V329.8M213.93,302.6V329.8M196.37,302.6V329.8M208.89,302.6V329.8M153.24,302.6V329.8M284.09,302.6V329.8M228.84,302.6V329.8M295.54,302.6V329.8M226.53,302.6V329.8M321.81,302.6V329.8M295.66,302.6V329.8M191.78,302.6V329.8M307.41,302.6V329.8M239.99,302.6V329.8M228.35,302.6V329.8M154.27,302.6V329.8M265.26,302.6V329.8M285.74,302.6V329.8M205,302.6V329.8M159.14,302.6V329.8M217.13,302.6V329.8M324.83,302.6V329.8M282.98,302.6V329.8M168.51,302.6V329.8M200.06,302.6V329.8M163.53,302.6V329.8M149.2,302.6V329.8M288.27,302.6V329.8M184.07,302.6V329.8M254.33,302.6V329.8M236.41,302.6V329.8M187.24,302.6V329.8M279.49,302.6V329.8M172.1,302.6V329.8M267.35,302.6V329.8M168.09,302.6V329.8M232.15,302.6V329.8M192.52,302.6V329.8M205.01,302.6V329.8M329.15,302.6V329.8M289.16,302.6V329.8M211.82,302.6V329.8M302.13,302.6V329.8M192.01,302.6V329.8M227.83,302.6V329.8M296.79,302.6V329.8M267.07,302.6V329.8M163.32,302.6V329.8M192.6,302.6V329.8M202.61,302.6V329.8M284.95,302.6V329.8M216.47,302.6V329.8M210.31,302.6V329.8M154.4,302.6V329.8M160.11,302.6V329.8M258.08,302.6V329.8M199.33,302.6V329.8M260.99,302.6V329.8M224.03,302.6V329.8M237.33,302.6V329.8M322.32,302.6V329.8M242.18,302.6V329.8M256.78,302.6V329.8M298.83,302.6V329.8M185.33,302.6V329.8M178.17,302.6V329.8M306.99,302.6V329.8M291.21,302.6V329.8M200.73,302.6V329.8M187.03,302.6V329.8M280.49,302.6V329.8M315.27,302.6V329.8M188.67,302.6V329.8M318.57,302.6V329.8M301.63,302.6V329.8M261.34,302.6V329.8M232.26,302.6V329.8M164.38,302.6V329.8M139.57,302.6V329.8M324.08,302.6V329.8M198.32,302.6V329.8M275.82,302.6V329.8M202.33,302.6V329.8M292.07,302.6V329.8M260.24,302.6V329.8M209.75,302.6V329.8M183.52,302.6V329.8M277.95,302.6V329.8M152.69,302.6V329.8M196.08,302.6V329.8M254.34,302.6V329.8M296.47,302.6V329.8M262.98,302.6V329.8M207.13,302.6V329.8M309.07,302.6V329.8M190.43,302.6V329.8M204.88,302.6V329.8M236.14,302.6V329.8M149.43,302.6V329.8M183.72,302.6V329.8M223.53,302.6V329.8M256.4,302.6V329.8M172.26,302.6V329.8M222.38,302.6V329.8M303.3,302.6V329.8M269.24,302.6V329.8M274.01,302.6V329.8M258.35,302.6V329.8M174.6,302.6V329.8M137.65,302.6V329.8M307.4,302.6V329.8M275.33,302.6V329.8M324.12,302.6V329.8M266.25,302.6V329.8M241.94,302.6V329.8M279.3,302.6V329.8M214.61,302.6V329.8M155.07,302.6V329.8M252.2,302.6V329.8M280.17,302.6V329.8M305.19,302.6V329.8M280.18,302.6V329.8M275.7,302.6V329.8M287.75,302.6V329.8M308.51,302.6V329.8M220.57,302.6V329.8M273.18,302.6V329.8M305.33,302.6V329.8M299.62,302.6V329.8M231.57,302.6V329.8M287.37,302.6V329.8M298.3,302.6V329.8M256.5,302.6V329.8M264.59,302.6V329.8M225.83,302.6V329.8M258.07,302.6V329.8M262.15,302.6V329.8M156.8,302.6V329.8M266.72,302.6V329.8M301.18,302.6V329.8M279,302.6V329.8M226.85,302.6V329.8M279.91,302.6V329.8M257.8,302.6V329.8M235.31,302.6V329.8M294.26,302.6V329.8M158.02,302.6V329.8M281.93,302.6V329.8M134.61,302.6V329.8M260.99,302.6V329.8M241.73,302.6V329.8M196.49,302.6V329.8M274.98,302.6V329.8M244.33,302.6V329.8M263.01,302.6V329.8M309.82,302.6V329.8M202.09,302.6V329.8M211.23,302.6V329.8M272.21,302.6V329.8M190.09,302.6V329.8M182.07,302.6V329.8M306.39,302.6V329.8M269.67,302.6V329.8M235.54,302.6V329.8M303.46,302.6V329.8M216.1,302.6V329.8M270.51,302.6V329.8M189.12,302.6V329.8M233.78,302.6V329.8M289.52,302.6V329.8M308.32,302.6V329.8M301.27,302.6V329.8M226.18,302.6V329.8M258.14,302.6V329.8M214.16,302.6V329.8M173.5,302.6V329.8M244.21,302.6V329.8M294.07,302.6V329.8M295.88,302.6V329.8M276.72,302.6V329.8M318.52,302.6V329.8M206.44,302.6V329.8M181.95,302.6V329.8M236.93,302.6V329.8M206.1,302.6V329.8M192.8,302.6V329.8M231.06,302.6V329.8M264.7,302.6V329.8M243.79,302.6V329.8M213.95,302.6V329.8M294.38,302.6V329.8M237.22,302.6V329.8M154.86,302.6V329.8M135.62,302.6V329.8M299.93,302.6V329.8M140.99,302.6V329.8M276.37,302.6V329.8M256.14,302.6V329.8M212.75,302.6V329.8M287.51,302.6V329.8M173.42,302.6V329.8M237.59,302.6V329.8M131.37,302.6V329.8M292.94,302.6V329.8M198.09,302.6V329.8M174.74,302.6V329.8M143.6,302.6V329.8M265.22,302.6V329.8M236.26,302.6V329.8M265.33,302.6V329.8M268.97,302.6V329.8M289.72,302.6V329.8M322,302.6V329.8M273.09,302.6V329.8M189.32,302.6V329.8M240.81,302.6V329.8M184.32,302.6V329.8M240.34,302.6V329.8M277.11,302.6V329.8M184.42,302.6V329.8M205.53,302.6V329.8M219.49,302.6V329.8M274.84,302.6V329.8M248.05,302.6V329.8M263,302.6V329.8M282.74,302.6V329.8M227.7,302.6V329.8M287.57,302.6V329.8" stroke="#00a878" stroke-width="1.4" stroke-opacity="0.85" fill="none"/>
<path d="M91.5,302.6V329.8M104.4,302.6V329.8M122.7,302.6V329.8M417.9,302.6V329.8" stroke="#ff5a00" stroke-width="1.4" stroke-opacity="0.6" fill="none"/>
<path d="M363.63,302.6V329.8M179.02,302.6V329.8M375.06,302.6V329.8M281.27,302.6V329.8M188.52,302.6V329.8M238.12,302.6V329.8M263.47,302.6V329.8M365.32,302.6V329.8M226.72,302.6V329.8M254.94,302.6V329.8M349.78,302.6V329.8M303.16,302.6V329.8M380.06,302.6V329.8M239.62,302.6V329.8M267.62,302.6V329.8M201.22,302.6V329.8M281.17,302.6V329.8M312.16,302.6V329.8M266.02,302.6V329.8M280.21,302.6V329.8M202.52,302.6V329.8M360.72,302.6V329.8M399.23,302.6V329.8M397.05,302.6V329.8M250.31,302.6V329.8M300.93,302.6V329.8M218.39,302.6V329.8M365.33,302.6V329.8M334.22,302.6V329.8M222.53,302.6V329.8M177.84,302.6V329.8M236.25,302.6V329.8M252.24,302.6V329.8M293.37,302.6V329.8M243.11,302.6V329.8M308.11,302.6V329.8M172.27,302.6V329.8M304.35,302.6V329.8M196.13,302.6V329.8M220.54,302.6V329.8M299.89,302.6V329.8M190.53,302.6V329.8M192,302.6V329.8M247.35,302.6V329.8M281.54,302.6V329.8M323.58,302.6V329.8M274.4,302.6V329.8M380.71,302.6V329.8M243.86,302.6V329.8M382.21,302.6V329.8M178.71,302.6V329.8M203.76,302.6V329.8M248.82,302.6V329.8M213.96,302.6V329.8M282.76,302.6V329.8M265.58,302.6V329.8M248.26,302.6V329.8M325.87,302.6V329.8M253.65,302.6V329.8M217.11,302.6V329.8M227.38,302.6V329.8M326.93,302.6V329.8M360.98,302.6V329.8M201.74,302.6V329.8M330.68,302.6V329.8M391.65,302.6V329.8M248.47,302.6V329.8M255.55,302.6V329.8M200.61,302.6V329.8M250.15,302.6V329.8M245.41,302.6V329.8M260.35,302.6V329.8M392.19,302.6V329.8M247.27,302.6V329.8M230.26,302.6V329.8M304.83,302.6V329.8M254.07,302.6V329.8M243.63,302.6V329.8M274.71,302.6V329.8M172.87,302.6V329.8M250.56,302.6V329.8M232.22,302.6V329.8M385.73,302.6V329.8M371.16,302.6V329.8M210.88,302.6V329.8M241.01,302.6V329.8M187.94,302.6V329.8M235.18,302.6V329.8M310.97,302.6V329.8M360.99,302.6V329.8M241.51,302.6V329.8M217.92,302.6V329.8M199.12,302.6V329.8M262.28,302.6V329.8M371.95,302.6V329.8M188.43,302.6V329.8M296.91,302.6V329.8M199.54,302.6V329.8M204.64,302.6V329.8M273.95,302.6V329.8M218.64,302.6V329.8M223.54,302.6V329.8M262.57,302.6V329.8M183.28,302.6V329.8M283.24,302.6V329.8M187.1,302.6V329.8M246.47,302.6V329.8M208.12,302.6V329.8M200.11,302.6V329.8M249.35,302.6V329.8M235.64,302.6V329.8M226.57,302.6V329.8M232.17,302.6V329.8M249.21,302.6V329.8M193.92,302.6V329.8M201.13,302.6V329.8M264.37,302.6V329.8M265.51,302.6V329.8M249.25,302.6V329.8M331.02,302.6V329.8M261.33,302.6V329.8M334.91,302.6V329.8M205.45,302.6V329.8M285.68,302.6V329.8M308.69,302.6V329.8M361.99,302.6V329.8M217.72,302.6V329.8M217.59,302.6V329.8M370.88,302.6V329.8M203.26,302.6V329.8M354.43,302.6V329.8M189.29,302.6V329.8M206.45,302.6V329.8M282.23,302.6V329.8M209.44,302.6V329.8M181.45,302.6V329.8M319.07,302.6V329.8M233.39,302.6V329.8M300.62,302.6V329.8M187.74,302.6V329.8M230.59,302.6V329.8M273.61,302.6V329.8M200.61,302.6V329.8M273.07,302.6V329.8M365.94,302.6V329.8M391.62,302.6V329.8M185.57,302.6V329.8M245.77,302.6V329.8M290.38,302.6V329.8M245.35,302.6V329.8M273.69,302.6V329.8M198.73,302.6V329.8M174.33,302.6V329.8M183.57,302.6V329.8M161.63,302.6V329.8M252.44,302.6V329.8M247.1,302.6V329.8M254.93,302.6V329.8M191.62,302.6V329.8M198.02,302.6V329.8M201.07,302.6V329.8M323.73,302.6V329.8M407.93,302.6V329.8M372.64,302.6V329.8M181.03,302.6V329.8M171.56,302.6V329.8M383.25,302.6V329.8M239.38,302.6V329.8M292.3,302.6V329.8M219.33,302.6V329.8M240.1,302.6V329.8M247.17,302.6V329.8M234.65,302.6V329.8M259.7,302.6V329.8M276.7,302.6V329.8M326.28,302.6V329.8M197.49,302.6V329.8M238.18,302.6V329.8M285.31,302.6V329.8M230.96,302.6V329.8M199.7,302.6V329.8M194.83,302.6V329.8M246.77,302.6V329.8M357.38,302.6V329.8M305.08,302.6V329.8M277.45,302.6V329.8M337.7,302.6V329.8M264.07,302.6V329.8M230.84,302.6V329.8M259.5,302.6V329.8M245.57,302.6V329.8M400.88,302.6V329.8M306.33,302.6V329.8M209.26,302.6V329.8M365.91,302.6V329.8M286.63,302.6V329.8M296.48,302.6V329.8M310.49,302.6V329.8M231.01,302.6V329.8M359.06,302.6V329.8M350.09,302.6V329.8M275.46,302.6V329.8M293.07,302.6V329.8M292.45,302.6V329.8M231.03,302.6V329.8M281.32,302.6V329.8M174.33,302.6V329.8M221.53,302.6V329.8M240.38,302.6V329.8M223.59,302.6V329.8M265.55,302.6V329.8M263.23,302.6V329.8M205.37,302.6V329.8M380.24,302.6V329.8M270.13,302.6V329.8M220.95,302.6V329.8M269.04,302.6V329.8M255.05,302.6V329.8M249.75,302.6V329.8M228.62,302.6V329.8M266.13,302.6V329.8M276.75,302.6V329.8M291.41,302.6V329.8M398.94,302.6V329.8M261.9,302.6V329.8M285.18,302.6V329.8M209.02,302.6V329.8M230.4,302.6V329.8M167.38,302.6V329.8M199.75,302.6V329.8M226.56,302.6V329.8M181.79,302.6V329.8M208.17,302.6V329.8M363.36,302.6V329.8M252.21,302.6V329.8M246.08,302.6V329.8M390.94,302.6V329.8M254.82,302.6V329.8M265.44,302.6V329.8M308.28,302.6V329.8M176.01,302.6V329.8M259.19,302.6V329.8M290.69,302.6V329.8M165.2,302.6V329.8M374.02,302.6V329.8M193.95,302.6V329.8M240.81,302.6V329.8M195.5,302.6V329.8M244.29,302.6V329.8M261.25,302.6V329.8M170.39,302.6V329.8M380.5,302.6V329.8M233.25,302.6V329.8M248.83,302.6V329.8M259.23,302.6V329.8M225.06,302.6V329.8M213.31,302.6V329.8M268.25,302.6V329.8M253.75,302.6V329.8M212.98,302.6V329.8M279.98,302.6V329.8M214.82,302.6V329.8M207.3,302.6V329.8M164.18,302.6V329.8M193.38,302.6V329.8M289.38,302.6V329.8M228.68,302.6V329.8M359.55,302.6V329.8M287.67,302.6V329.8M167.26,302.6V329.8M406.28,302.6V329.8M380.14,302.6V329.8M175.22,302.6V329.8M363.32,302.6V329.8M234.56,302.6V329.8M241.67,302.6V329.8M394.39,302.6V329.8M207.1,302.6V329.8M248.34,302.6V329.8M377.04,302.6V329.8M281.35,302.6V329.8M240.3,302.6V329.8M398.05,302.6V329.8M311.41,302.6V329.8M260.1,302.6V329.8M185.51,302.6V329.8M263.26,302.6V329.8M238.44,302.6V329.8M201.03,302.6V329.8M168,302.6V329.8M249.03,302.6V329.8M187.41,302.6V329.8M236.54,302.6V329.8M270.45,302.6V329.8M238.42,302.6V329.8M209.83,302.6V329.8M256.91,302.6V329.8M233.08,302.6V329.8M296.48,302.6V329.8M249.41,302.6V329.8M383.76,302.6V329.8M284.06,302.6V329.8M206.31,302.6V329.8M185.25,302.6V329.8M357.13,302.6V329.8M298.62,302.6V329.8M263.38,302.6V329.8M224.11,302.6V329.8M211.21,302.6V329.8M273.57,302.6V329.8M254.37,302.6V329.8M258.31,302.6V329.8M264.66,302.6V329.8M289.02,302.6V329.8M198.86,302.6V329.8M207.88,302.6V329.8M398.68,302.6V329.8M157.39,302.6V329.8M156.24,302.6V329.8M130.22,302.6V329.8M130.88,302.6V329.8M137.4,302.6V329.8M338.23,302.6V329.8M341.6,302.6V329.8M332.74,302.6V329.8M340.21,302.6V329.8M332.23,302.6V329.8M332.47,302.6V329.8M342.5,302.6V329.8M340.36,302.6V329.8M363.57,302.6V329.8M360.48,302.6V329.8M361.74,302.6V329.8M358.53,302.6V329.8M360.12,302.6V329.8M364.94,302.6V329.8M388.61,302.6V329.8M372.56,302.6V329.8M373.52,302.6V329.8M387.99,302.6V329.8M384.1,302.6V329.8M387.14,302.6V329.8M375.48,302.6V329.8M379.91,302.6V329.8M250.9,302.6V329.8M261.39,302.6V329.8M253.01,302.6V329.8M258.42,302.6V329.8M264.79,302.6V329.8M252.18,302.6V329.8M256.42,302.6V329.8M260.18,302.6V329.8M263.5,302.6V329.8M254.13,302.6V329.8" stroke="#ff5a00" stroke-width="1.4" stroke-opacity="0.85" fill="none"/>
<path d="M125.6,302.6V329.8M127.7,302.6V329.8M438.3,302.6V329.8M451.2,302.6V329.8" stroke="#6670c6" stroke-width="1.4" stroke-opacity="0.6" fill="none"/>
<path d="M191.3,302.6V329.8M149.12,302.6V329.8M144.67,302.6V329.8M145.82,302.6V329.8M218.81,302.6V329.8M207,302.6V329.8M181.84,302.6V329.8M144.04,302.6V329.8M169.68,302.6V329.8M145.49,302.6V329.8M182.51,302.6V329.8M179.65,302.6V329.8M158.25,302.6V329.8M189.77,302.6V329.8M190.92,302.6V329.8M153.42,302.6V329.8M219.62,302.6V329.8M200.53,302.6V329.8M182.64,302.6V329.8M184.38,302.6V329.8M195.36,302.6V329.8M174.81,302.6V329.8M190.29,302.6V329.8M190.81,302.6V329.8M190.51,302.6V329.8M194.82,302.6V329.8M193.75,302.6V329.8M166.89,302.6V329.8M218.74,302.6V329.8M215.13,302.6V329.8M218.58,302.6V329.8M163.97,302.6V329.8M179.45,302.6V329.8M211.41,302.6V329.8M215.67,302.6V329.8M219.33,302.6V329.8M140.69,302.6V329.8M216.08,302.6V329.8M146.07,302.6V329.8M145.48,302.6V329.8M146.23,302.6V329.8M231.09,302.6V329.8M158.42,302.6V329.8M174.4,302.6V329.8M170.75,302.6V329.8M212.28,302.6V329.8M194.66,302.6V329.8M187.1,302.6V329.8M208.25,302.6V329.8M214.64,302.6V329.8M196.83,302.6V329.8M212.62,302.6V329.8M198.31,302.6V329.8M198.16,302.6V329.8M158.83,302.6V329.8M192.14,302.6V329.8M162.51,302.6V329.8M168.34,302.6V329.8M198.76,302.6V329.8M180.91,302.6V329.8M183.14,302.6V329.8M152.9,302.6V329.8M136.13,302.6V329.8M137.54,302.6V329.8M130.97,302.6V329.8M234.06,302.6V329.8M247.14,302.6V329.8M251.27,302.6V329.8M262.01,302.6V329.8M233.2,302.6V329.8M272.06,302.6V329.8M277,302.6V329.8M279.13,302.6V329.8M280.3,302.6V329.8M311.62,302.6V329.8M303.66,302.6V329.8M279.56,302.6V329.8M277.02,302.6V329.8M283.27,302.6V329.8M276.21,302.6V329.8M314.24,302.6V329.8M285.26,302.6V329.8M300.64,302.6V329.8M318.11,302.6V329.8" stroke="#6670c6" stroke-width="1.4" stroke-opacity="0.85" fill="none"/>
<path d="M67.5,299.4H462.5" stroke="#464646" stroke-width="1.5"/>
<rect x="67.5" y="6" width="395" height="327.4" fill="none" stroke="#464646" stroke-width="1.5"/>
<path d="M90.74,333.4v-4M137.21,333.4v-4M183.68,333.4v-4M230.15,333.4v-4M276.62,333.4v-4M323.09,333.4v-4M369.56,333.4v-4M416.03,333.4v-4M462.5,333.4v-4M67.5,333.4v-2.2M113.97,333.4v-2.2M160.44,333.4v-2.2M206.91,333.4v-2.2M253.38,333.4v-2.2M299.85,333.4v-2.2M346.32,333.4v-2.2M392.79,333.4v-2.2M439.26,333.4v-2.2M67.5,299.4h4M67.5,271.46h4M67.5,243.51h4M67.5,215.57h4M67.5,187.63h4M67.5,159.69h4M67.5,131.74h4M67.5,103.8h4M67.5,75.86h4M67.5,47.91h4M67.5,19.97h4M67.5,285.43h2.2M67.5,257.49h2.2M67.5,229.54h2.2M67.5,201.6h2.2M67.5,173.66h2.2M67.5,145.71h2.2M67.5,117.77h2.2M67.5,89.83h2.2M67.5,61.89h2.2M67.5,33.94h2.2" stroke="#464646" stroke-width="1.3" fill="none"/>
<g font-family='"Liberation Serif", serif' font-size="13" fill="#222">
<text x="62.2" y="303.2" text-anchor="end">0.0</text>
<text x="62.2" y="275.26" text-anchor="end">0.2</text>
<text x="62.2" y="247.31" text-anchor="end">0.4</text>
<text x="62.2" y="219.37" text-anchor="end">0.6</text>
<text x="62.2" y="191.43" text-anchor="end">0.8</text>
<text x="62.2" y="163.49" text-anchor="end">1.0</text>
<text x="62.2" y="135.54" text-anchor="end">1.2</text>
<text x="62.2" y="107.6" text-anchor="end">1.4</text>
<text x="62.2" y="79.66" text-anchor="end">1.6</text>
<text x="62.2" y="51.71" text-anchor="end">1.8</text>
<text x="62.2" y="23.77" text-anchor="end">2.0</text>
<text x="90.74" y="349" text-anchor="middle">4</text>
<text x="137.21" y="349" text-anchor="middle">6</text>
<text x="183.68" y="349" text-anchor="middle">8</text>
<text x="230.15" y="349" text-anchor="middle">10</text>
<text x="276.62" y="349" text-anchor="middle">12</text>
<text x="323.09" y="349" text-anchor="middle">14</text>
<text x="369.56" y="349" text-anchor="middle">16</text>
<text x="416.03" y="349" text-anchor="middle">18</text>
<text x="462.5" y="349" text-anchor="middle">20</text>
</g>
<text x="265" y="367.8" text-anchor="middle" font-family='"Liberation Serif", serif' font-size="15" fill="#222">Thrust (10<tspan dy="-5.5" font-size="10">3</tspan><tspan dy="5.5">kN)</tspan></text>
<text transform="translate(41.2,151.8) rotate(-90)" text-anchor="middle" font-family='"Liberation Serif", serif' font-size="15" fill="#222">Density (10<tspan dy="-5.5" font-size="10">-4</tspan><tspan dy="5.5">)</tspan></text>
<text x="1" y="24.8" font-family='"Liberation Serif", serif' font-size="33.5" fill="#111">(a)</text>
<rect x="84.15" y="17.15" width="28.9" height="13.7" fill="rgb(225,227,233)" fill-opacity="0.5" stroke="#84e0c8" stroke-width="1.5"/>
<text x="118.4" y="28.6" font-family='"Liberation Serif", serif' font-size="13" fill="#111">III</text>
<rect x="84.15" y="33.85" width="28.9" height="13.8" fill="rgb(249,227,217)" fill-opacity="0.5" stroke="#ffc29c" stroke-width="1.5"/>
<text x="118.4" y="45.3" font-family='"Liberation Serif", serif' font-size="13" fill="#111">IV</text>
<rect x="84.15" y="50.65" width="28.9" height="14" fill="rgb(249,225,245)" fill-opacity="0.5" stroke="#d4d2f2" stroke-width="1.5"/>
<text x="118.4" y="61.6" font-family='"Liberation Serif", serif' font-size="13" fill="#111">V</text>
<rect x="373.6" y="21.5" width="82.5" height="52.9" fill="#fff"/>
<rect x="373.6" y="21.5" width="82.5" height="10.8" fill="#e6e6e6"/>
<path d="M373.6,21.5H456.1M373.6,32.3H456.1M373.6,43.3H456.1M373.6,53.8H456.1M373.6,64.1H456.1M373.6,74.4H456.1M373.6,21.5V74.4M456.1,21.5V74.4M392.5,32.3V74.4" stroke="#8a8a8a" stroke-width="1" fill="none"/>
<g font-family='"Liberation Serif", serif' font-size="10.5" fill="#1a1a1a" text-anchor="middle">
<text x="414.85" y="30.7">Kernel Smooth</text>
<text x="424.3" y="42.5" font-size="9.5">w</text>
<text x="383.05" y="53.3">III</text>
<text x="424.3" y="53.3">577.3426</text>
<text x="383.05" y="63.6">IV</text>
<text x="424.3" y="63.6">640.58242</text>
<text x="383.05" y="73.9">V</text>
<text x="424.3" y="73.9">768.43199</text>
</g>
<defs><clipPath id="clipb"><rect x="564.5" y="6" width="394.9" height="292.9"/></clipPath>
<path id="cbIII" d="M564.5,298.5C565,298.5 566.5,298.4 567.5,298.4C568.5,298.3 569.5,298.3 570.5,298.2C571.5,298.2 572.5,298.1 573.5,298.1C574.5,298 575.5,298 576.5,298C577.5,297.9 578.5,297.9 579.5,297.8C580.5,297.8 581.5,297.7 582.5,297.6C583.5,297.5 584.5,297.4 585.5,297.4C586.5,297.3 587.5,297.2 588.5,297.1C589.5,297 590.5,297 591.5,296.9C592.5,296.8 593.5,296.8 594.5,296.6C595.5,296.5 596.5,296.3 597.5,296.1C598.5,296 599.5,295.7 600.5,295.5C601.5,295.3 602.5,295.2 603.5,294.9C604.5,294.6 605.5,294.3 606.5,293.9C607.5,293.4 608.5,292.7 609.5,292.1C610.5,291.4 611.5,290.9 612.5,290.1C613.5,289.3 614.5,288.3 615.5,287.1C616.5,285.9 617.5,284.6 618.5,283.1C619.5,281.6 620.5,280 621.5,278.2C622.5,276.4 623.5,274.5 624.5,272.2C625.5,270 626.5,267.6 627.5,264.7C628.5,261.7 629.5,258.2 630.5,254.7C631.5,251.3 632.5,247.8 633.5,244C634.5,240.2 635.5,236.1 636.5,232C637.5,228 638.5,223.9 639.5,219.7C640.5,215.5 641.5,211.2 642.5,206.9C643.5,202.5 644.5,198.2 645.5,193.7C646.5,189.2 647.5,184.6 648.5,179.7C649.5,174.9 650.5,170.2 651.5,164.4C652.5,158.6 653.5,151 654.5,144.9C655.5,138.8 656.5,133 657.5,127.6C658.5,122.2 659.5,117.6 660.5,112.5C661.5,107.5 662.5,102.4 663.5,97.4C664.5,92.4 665.5,87.3 666.5,82.4C667.5,77.5 668.5,72.6 669.5,68C670.5,63.3 671.5,58.7 672.5,54.6C673.5,50.6 674.5,46.9 675.5,43.6C676.5,40.4 677.5,37.4 678.5,35.3C679.5,33.1 680.5,31.8 681.5,30.7C682.5,29.6 683.5,28.6 684.5,28.7C685.5,28.7 686.5,29.5 687.5,30.8C688.5,32.1 689.5,33.7 690.5,36.4C691.5,39.1 692.5,43 693.5,47.2C694.5,51.3 695.5,56.2 696.5,61.3C697.5,66.3 698.5,71.9 699.5,77.6C700.5,83.3 701.5,89.3 702.5,95.7C703.5,102.2 704.5,109 705.5,116.1C706.5,123.2 707.5,130.8 708.5,138.3C709.5,145.8 710.5,153.6 711.5,160.9C712.5,168.2 713.5,175.3 714.5,182.2C715.5,189 716.5,195.6 717.5,201.9C718.5,208.2 719.5,214.3 720.5,220C721.5,225.8 722.5,231.3 723.5,236.4C724.5,241.4 725.5,246.2 726.5,250.4C727.5,254.5 728.5,258.2 729.5,261.1C730.5,264 731.5,266 732.5,267.9C733.5,269.8 734.5,271.4 735.5,272.8C736.5,274.2 737.5,275.2 738.5,276.1C739.5,277.1 740.5,277.7 741.5,278.4C742.5,279.2 743.5,280 744.5,280.5C745.5,281 746.5,281.3 747.5,281.5C748.5,281.8 749.5,281.9 750.5,282.1C751.5,282.3 752.5,282.6 753.5,282.7C754.5,282.9 755.5,283 756.5,283.1C757.5,283.2 758.5,283.2 759.5,283.3C760.5,283.3 761.5,283.4 762.5,283.3C763.5,283.3 764.5,283.1 765.5,283C766.5,282.9 767.5,282.7 768.5,282.5C769.5,282.3 770.5,282.2 771.5,282C772.5,281.8 773.5,281.7 774.5,281.3C775.5,281 776.5,280.3 777.5,279.8C778.5,279.2 779.5,278.6 780.5,278C781.5,277.4 782.5,276.8 783.5,276.2C784.5,275.6 785.5,275 786.5,274.2C787.5,273.3 788.5,272.3 789.5,271.3C790.5,270.3 791.5,269.3 792.5,268.3C793.5,267.3 794.5,266.2 795.5,265.3C796.5,264.4 797.5,263.5 798.5,262.8C799.5,262.1 800.5,261.7 801.5,261.2C802.5,260.7 803.5,260.2 804.5,259.7C805.5,259.2 806.5,258.5 807.5,258.2C808.5,257.9 809.5,257.7 810.5,257.8C811.5,257.8 812.5,258.3 813.5,258.6C814.5,258.9 815.5,259.2 816.5,259.5C817.5,259.8 818.5,260 819.5,260.5C820.5,260.9 821.5,261.5 822.5,262.2C823.5,262.9 824.5,263.8 825.5,264.6C826.5,265.4 827.5,266.2 828.5,267C829.5,267.8 830.5,268.5 831.5,269.4C832.5,270.3 833.5,271.2 834.5,272.2C835.5,273.1 836.5,274.2 837.5,275.2C838.5,276.1 839.5,277.1 840.5,278.1C841.5,279.1 842.5,280.1 843.5,281C844.5,282 845.5,282.8 846.5,283.6C847.5,284.4 848.5,285.2 849.5,286C850.5,286.8 851.5,287.7 852.5,288.5C853.5,289.2 854.5,290.1 855.5,290.7C856.5,291.3 857.5,291.7 858.5,292.2C859.5,292.6 860.5,293.1 861.5,293.5C862.5,293.9 863.5,294.4 864.5,294.8C865.5,295.2 866.5,295.7 867.5,296C868.5,296.3 869.5,296.5 870.5,296.7C871.5,297 872.5,297.2 873.5,297.4C874.5,297.6 875.9,297.9 876.5,298C877.1,298.2 877.2,298.3 877.3,298.3"/>
<path id="abIII" d="M564.5,298.5C565,298.5 566.5,298.4 567.5,298.4C568.5,298.3 569.5,298.3 570.5,298.2C571.5,298.2 572.5,298.1 573.5,298.1C574.5,298 575.5,298 576.5,298C577.5,297.9 578.5,297.9 579.5,297.8C580.5,297.8 581.5,297.7 582.5,297.6C583.5,297.5 584.5,297.4 585.5,297.4C586.5,297.3 587.5,297.2 588.5,297.1C589.5,297 590.5,297 591.5,296.9C592.5,296.8 593.5,296.8 594.5,296.6C595.5,296.5 596.5,296.3 597.5,296.1C598.5,296 599.5,295.7 600.5,295.5C601.5,295.3 602.5,295.2 603.5,294.9C604.5,294.6 605.5,294.3 606.5,293.9C607.5,293.4 608.5,292.7 609.5,292.1C610.5,291.4 611.5,290.9 612.5,290.1C613.5,289.3 614.5,288.3 615.5,287.1C616.5,285.9 617.5,284.6 618.5,283.1C619.5,281.6 620.5,280 621.5,278.2C622.5,276.4 623.5,274.5 624.5,272.2C625.5,270 626.5,267.6 627.5,264.7C628.5,261.7 629.5,258.2 630.5,254.7C631.5,251.3 632.5,247.8 633.5,244C634.5,240.2 635.5,236.1 636.5,232C637.5,228 638.5,223.9 639.5,219.7C640.5,215.5 641.5,211.2 642.5,206.9C643.5,202.5 644.5,198.2 645.5,193.7C646.5,189.2 647.5,184.6 648.5,179.7C649.5,174.9 650.5,170.2 651.5,164.4C652.5,158.6 653.5,151 654.5,144.9C655.5,138.8 656.5,133 657.5,127.6C658.5,122.2 659.5,117.6 660.5,112.5C661.5,107.5 662.5,102.4 663.5,97.4C664.5,92.4 665.5,87.3 666.5,82.4C667.5,77.5 668.5,72.6 669.5,68C670.5,63.3 671.5,58.7 672.5,54.6C673.5,50.6 674.5,46.9 675.5,43.6C676.5,40.4 677.5,37.4 678.5,35.3C679.5,33.1 680.5,31.8 681.5,30.7C682.5,29.6 683.5,28.6 684.5,28.7C685.5,28.7 686.5,29.5 687.5,30.8C688.5,32.1 689.5,33.7 690.5,36.4C691.5,39.1 692.5,43 693.5,47.2C694.5,51.3 695.5,56.2 696.5,61.3C697.5,66.3 698.5,71.9 699.5,77.6C700.5,83.3 701.5,89.3 702.5,95.7C703.5,102.2 704.5,109 705.5,116.1C706.5,123.2 707.5,130.8 708.5,138.3C709.5,145.8 710.5,153.6 711.5,160.9C712.5,168.2 713.5,175.3 714.5,182.2C715.5,189 716.5,195.6 717.5,201.9C718.5,208.2 719.5,214.3 720.5,220C721.5,225.8 722.5,231.3 723.5,236.4C724.5,241.4 725.5,246.2 726.5,250.4C727.5,254.5 728.5,258.2 729.5,261.1C730.5,264 731.5,266 732.5,267.9C733.5,269.8 734.5,271.4 735.5,272.8C736.5,274.2 737.5,275.2 738.5,276.1C739.5,277.1 740.5,277.7 741.5,278.4C742.5,279.2 743.5,280 744.5,280.5C745.5,281 746.5,281.3 747.5,281.5C748.5,281.8 749.5,281.9 750.5,282.1C751.5,282.3 752.5,282.6 753.5,282.7C754.5,282.9 755.5,283 756.5,283.1C757.5,283.2 758.5,283.2 759.5,283.3C760.5,283.3 761.5,283.4 762.5,283.3C763.5,283.3 764.5,283.1 765.5,283C766.5,282.9 767.5,282.7 768.5,282.5C769.5,282.3 770.5,282.2 771.5,282C772.5,281.8 773.5,281.7 774.5,281.3C775.5,281 776.5,280.3 777.5,279.8C778.5,279.2 779.5,278.6 780.5,278C781.5,277.4 782.5,276.8 783.5,276.2C784.5,275.6 785.5,275 786.5,274.2C787.5,273.3 788.5,272.3 789.5,271.3C790.5,270.3 791.5,269.3 792.5,268.3C793.5,267.3 794.5,266.2 795.5,265.3C796.5,264.4 797.5,263.5 798.5,262.8C799.5,262.1 800.5,261.7 801.5,261.2C802.5,260.7 803.5,260.2 804.5,259.7C805.5,259.2 806.5,258.5 807.5,258.2C808.5,257.9 809.5,257.7 810.5,257.8C811.5,257.8 812.5,258.3 813.5,258.6C814.5,258.9 815.5,259.2 816.5,259.5C817.5,259.8 818.5,260 819.5,260.5C820.5,260.9 821.5,261.5 822.5,262.2C823.5,262.9 824.5,263.8 825.5,264.6C826.5,265.4 827.5,266.2 828.5,267C829.5,267.8 830.5,268.5 831.5,269.4C832.5,270.3 833.5,271.2 834.5,272.2C835.5,273.1 836.5,274.2 837.5,275.2C838.5,276.1 839.5,277.1 840.5,278.1C841.5,279.1 842.5,280.1 843.5,281C844.5,282 845.5,282.8 846.5,283.6C847.5,284.4 848.5,285.2 849.5,286C850.5,286.8 851.5,287.7 852.5,288.5C853.5,289.2 854.5,290.1 855.5,290.7C856.5,291.3 857.5,291.7 858.5,292.2C859.5,292.6 860.5,293.1 861.5,293.5C862.5,293.9 863.5,294.4 864.5,294.8C865.5,295.2 866.5,295.7 867.5,296C868.5,296.3 869.5,296.5 870.5,296.7C871.5,297 872.5,297.2 873.5,297.4C874.5,297.6 875.9,297.9 876.5,298C877.1,298.2 877.2,298.3 877.3,298.3L877.3,298.9L564.5,298.9Z"/>
<clipPath id="fbIII"><use href="#abIII"/></clipPath>
<path id="cbIV" d="M564.5,298.2C565,298.2 566.5,298.1 567.5,298C568.5,298 569.5,297.9 570.5,297.9C571.5,297.9 572.5,297.8 573.5,297.8C574.5,297.7 575.5,297.7 576.5,297.6C577.5,297.6 578.5,297.5 579.5,297.5C580.5,297.4 581.5,297.4 582.5,297.3C583.5,297.2 584.5,297.2 585.5,297.1C586.5,297 587.5,296.9 588.5,296.8C589.5,296.7 590.5,296.6 591.5,296.5C592.5,296.4 593.5,296.3 594.5,296.2C595.5,296.1 596.5,296 597.5,295.9C598.5,295.8 599.5,295.7 600.5,295.6C601.5,295.5 602.5,295.4 603.5,295.3C604.5,295.1 605.5,295 606.5,294.8C607.5,294.6 608.5,294.3 609.5,294.1C610.5,293.9 611.5,293.6 612.5,293.3C613.5,293.1 614.5,292.8 615.5,292.6C616.5,292.3 617.5,292 618.5,291.7C619.5,291.4 620.5,291 621.5,290.6C622.5,290.2 623.5,289.7 624.5,289.2C625.5,288.7 626.5,288.2 627.5,287.7C628.5,287.2 629.5,286.7 630.5,286.1C631.5,285.5 632.5,285 633.5,284.3C634.5,283.7 635.5,283 636.5,282.3C637.5,281.6 638.5,280.9 639.5,280.2C640.5,279.5 641.5,278.8 642.5,278C643.5,277.3 644.5,276.6 645.5,275.8C646.5,275 647.5,274.2 648.5,273.3C649.5,272.4 650.5,271.4 651.5,270.4C652.5,269.4 653.5,268.4 654.5,267.4C655.5,266.4 656.5,265.4 657.5,264.4C658.5,263.5 659.5,262.5 660.5,261.7C661.5,260.8 662.5,259.9 663.5,259.1C664.5,258.2 665.5,257.4 666.5,256.6C667.5,255.7 668.5,254.9 669.5,254.1C670.5,253.4 671.5,252.6 672.5,252C673.5,251.4 674.5,250.9 675.5,250.3C676.5,249.8 677.5,249.4 678.5,248.9C679.5,248.4 680.5,247.9 681.5,247.5C682.5,247.1 683.5,246.7 684.5,246.3C685.5,246 686.5,245.8 687.5,245.6C688.5,245.4 689.5,245.2 690.5,245.1C691.5,244.9 692.5,244.7 693.5,244.6C694.5,244.4 695.5,244.3 696.5,244.1C697.5,244 698.5,243.9 699.5,243.8C700.5,243.7 701.5,243.6 702.5,243.5C703.5,243.4 704.5,243.3 705.5,243.3C706.5,243.2 707.5,243.1 708.5,242.9C709.5,242.8 710.5,242.7 711.5,242.6C712.5,242.4 713.5,242.3 714.5,242.1C715.5,241.9 716.5,241.8 717.5,241.6C718.5,241.5 719.5,241.3 720.5,241.2C721.5,241 722.5,240.9 723.5,240.8C724.5,240.7 725.5,240.6 726.5,240.5C727.5,240.4 728.5,240.3 729.5,240.2C730.5,240.2 731.5,240.1 732.5,240.1C733.5,240.1 734.5,240.1 735.5,240.3C736.5,240.4 737.5,240.6 738.5,240.9C739.5,241.1 740.5,241.4 741.5,241.6C742.5,241.9 743.5,242.2 744.5,242.5C745.5,242.8 746.5,243.1 747.5,243.5C748.5,243.8 749.5,244.2 750.5,244.5C751.5,244.9 752.5,245.2 753.5,245.4C754.5,245.7 755.5,245.8 756.5,246C757.5,246.2 758.5,246.3 759.5,246.4C760.5,246.4 761.5,246.5 762.5,246.4C763.5,246.3 764.5,246.1 765.5,245.8C766.5,245.5 767.5,245.1 768.5,244.7C769.5,244.3 770.5,244 771.5,243.5C772.5,243 773.5,242.5 774.5,241.9C775.5,241.2 776.5,240.4 777.5,239.6C778.5,238.8 779.5,237.9 780.5,237C781.5,236.1 782.5,235.2 783.5,234.2C784.5,233.3 785.5,232.3 786.5,231.2C787.5,230 788.5,228.8 789.5,227.6C790.5,226.3 791.5,225 792.5,223.7C793.5,222.4 794.5,221.1 795.5,219.7C796.5,218.4 797.5,217.1 798.5,215.7C799.5,214.4 800.5,213 801.5,211.6C802.5,210.2 803.5,208.8 804.5,207.4C805.5,206 806.5,204.6 807.5,203.3C808.5,202 809.5,200.7 810.5,199.5C811.5,198.3 812.5,197.2 813.5,196.1C814.5,195 815.5,193.9 816.5,192.8C817.5,191.8 818.5,190.7 819.5,189.8C820.5,188.8 821.5,188 822.5,187.3C823.5,186.5 824.5,185.9 825.5,185.3C826.5,184.7 827.5,184.1 828.5,183.5C829.5,183 830.5,182.4 831.5,182C832.5,181.6 833.5,181.2 834.5,181C835.5,180.7 836.5,180.6 837.5,180.5C838.5,180.4 839.5,180.3 840.5,180.4C841.5,180.4 842.5,180.6 843.5,180.7C844.5,180.9 845.5,181.1 846.5,181.4C847.5,181.6 848.5,181.8 849.5,182.2C850.5,182.5 851.5,183 852.5,183.5C853.5,183.9 854.5,184.6 855.5,185.1C856.5,185.7 857.5,186.3 858.5,186.9C859.5,187.5 860.5,188.1 861.5,188.8C862.5,189.4 863.5,190.1 864.5,190.8C865.5,191.4 866.5,192.1 867.5,192.8C868.5,193.5 869.5,194.2 870.5,195C871.5,195.7 872.5,196.5 873.5,197.4C874.5,198.3 875.5,199.3 876.5,200.3C877.5,201.4 878.5,202.5 879.5,203.7C880.5,204.9 881.5,206.1 882.5,207.5C883.5,208.9 884.5,210.4 885.5,212.1C886.5,213.7 887.5,215.5 888.5,217.2C889.5,219 890.5,220.8 891.5,222.6C892.5,224.5 893.5,226.4 894.5,228.4C895.5,230.3 896.5,232.3 897.5,234.3C898.5,236.3 899.5,238.3 900.5,240.2C901.5,242.1 902.5,244 903.5,245.8C904.5,247.7 905.5,249.5 906.5,251.3C907.5,253.1 908.5,254.9 909.5,256.6C910.5,258.4 911.5,260.1 912.5,261.7C913.5,263.4 914.5,264.9 915.5,266.4C916.5,267.9 917.5,269.2 918.5,270.7C919.5,272.1 920.5,273.5 921.5,274.8C922.5,276.1 923.5,277.4 924.5,278.6C925.5,279.7 926.5,280.7 927.5,281.7C928.5,282.7 929.5,283.6 930.5,284.5C931.5,285.4 932.5,286.3 933.5,287.1C934.5,287.9 935.5,288.7 936.5,289.4C937.5,290 938.5,290.6 939.5,291.1C940.5,291.6 941.5,292 942.5,292.5C943.5,293 944.5,293.4 945.5,293.8C946.5,294.2 947.5,294.6 948.5,295C949.5,295.3 950.5,295.6 951.5,295.9C952.5,296.1 953.5,296.4 954.5,296.6C955.5,296.8 956.7,297 957.5,297.2C958.3,297.4 959.1,297.8 959.4,297.9"/>
<path id="abIV" d="M564.5,298.2C565,298.2 566.5,298.1 567.5,298C568.5,298 569.5,297.9 570.5,297.9C571.5,297.9 572.5,297.8 573.5,297.8C574.5,297.7 575.5,297.7 576.5,297.6C577.5,297.6 578.5,297.5 579.5,297.5C580.5,297.4 581.5,297.4 582.5,297.3C583.5,297.2 584.5,297.2 585.5,297.1C586.5,297 587.5,296.9 588.5,296.8C589.5,296.7 590.5,296.6 591.5,296.5C592.5,296.4 593.5,296.3 594.5,296.2C595.5,296.1 596.5,296 597.5,295.9C598.5,295.8 599.5,295.7 600.5,295.6C601.5,295.5 602.5,295.4 603.5,295.3C604.5,295.1 605.5,295 606.5,294.8C607.5,294.6 608.5,294.3 609.5,294.1C610.5,293.9 611.5,293.6 612.5,293.3C613.5,293.1 614.5,292.8 615.5,292.6C616.5,292.3 617.5,292 618.5,291.7C619.5,291.4 620.5,291 621.5,290.6C622.5,290.2 623.5,289.7 624.5,289.2C625.5,288.7 626.5,288.2 627.5,287.7C628.5,287.2 629.5,286.7 630.5,286.1C631.5,285.5 632.5,285 633.5,284.3C634.5,283.7 635.5,283 636.5,282.3C637.5,281.6 638.5,280.9 639.5,280.2C640.5,279.5 641.5,278.8 642.5,278C643.5,277.3 644.5,276.6 645.5,275.8C646.5,275 647.5,274.2 648.5,273.3C649.5,272.4 650.5,271.4 651.5,270.4C652.5,269.4 653.5,268.4 654.5,267.4C655.5,266.4 656.5,265.4 657.5,264.4C658.5,263.5 659.5,262.5 660.5,261.7C661.5,260.8 662.5,259.9 663.5,259.1C664.5,258.2 665.5,257.4 666.5,256.6C667.5,255.7 668.5,254.9 669.5,254.1C670.5,253.4 671.5,252.6 672.5,252C673.5,251.4 674.5,250.9 675.5,250.3C676.5,249.8 677.5,249.4 678.5,248.9C679.5,248.4 680.5,247.9 681.5,247.5C682.5,247.1 683.5,246.7 684.5,246.3C685.5,246 686.5,245.8 687.5,245.6C688.5,245.4 689.5,245.2 690.5,245.1C691.5,244.9 692.5,244.7 693.5,244.6C694.5,244.4 695.5,244.3 696.5,244.1C697.5,244 698.5,243.9 699.5,243.8C700.5,243.7 701.5,243.6 702.5,243.5C703.5,243.4 704.5,243.3 705.5,243.3C706.5,243.2 707.5,243.1 708.5,242.9C709.5,242.8 710.5,242.7 711.5,242.6C712.5,242.4 713.5,242.3 714.5,242.1C715.5,241.9 716.5,241.8 717.5,241.6C718.5,241.5 719.5,241.3 720.5,241.2C721.5,241 722.5,240.9 723.5,240.8C724.5,240.7 725.5,240.6 726.5,240.5C727.5,240.4 728.5,240.3 729.5,240.2C730.5,240.2 731.5,240.1 732.5,240.1C733.5,240.1 734.5,240.1 735.5,240.3C736.5,240.4 737.5,240.6 738.5,240.9C739.5,241.1 740.5,241.4 741.5,241.6C742.5,241.9 743.5,242.2 744.5,242.5C745.5,242.8 746.5,243.1 747.5,243.5C748.5,243.8 749.5,244.2 750.5,244.5C751.5,244.9 752.5,245.2 753.5,245.4C754.5,245.7 755.5,245.8 756.5,246C757.5,246.2 758.5,246.3 759.5,246.4C760.5,246.4 761.5,246.5 762.5,246.4C763.5,246.3 764.5,246.1 765.5,245.8C766.5,245.5 767.5,245.1 768.5,244.7C769.5,244.3 770.5,244 771.5,243.5C772.5,243 773.5,242.5 774.5,241.9C775.5,241.2 776.5,240.4 777.5,239.6C778.5,238.8 779.5,237.9 780.5,237C781.5,236.1 782.5,235.2 783.5,234.2C784.5,233.3 785.5,232.3 786.5,231.2C787.5,230 788.5,228.8 789.5,227.6C790.5,226.3 791.5,225 792.5,223.7C793.5,222.4 794.5,221.1 795.5,219.7C796.5,218.4 797.5,217.1 798.5,215.7C799.5,214.4 800.5,213 801.5,211.6C802.5,210.2 803.5,208.8 804.5,207.4C805.5,206 806.5,204.6 807.5,203.3C808.5,202 809.5,200.7 810.5,199.5C811.5,198.3 812.5,197.2 813.5,196.1C814.5,195 815.5,193.9 816.5,192.8C817.5,191.8 818.5,190.7 819.5,189.8C820.5,188.8 821.5,188 822.5,187.3C823.5,186.5 824.5,185.9 825.5,185.3C826.5,184.7 827.5,184.1 828.5,183.5C829.5,183 830.5,182.4 831.5,182C832.5,181.6 833.5,181.2 834.5,181C835.5,180.7 836.5,180.6 837.5,180.5C838.5,180.4 839.5,180.3 840.5,180.4C841.5,180.4 842.5,180.6 843.5,180.7C844.5,180.9 845.5,181.1 846.5,181.4C847.5,181.6 848.5,181.8 849.5,182.2C850.5,182.5 851.5,183 852.5,183.5C853.5,183.9 854.5,184.6 855.5,185.1C856.5,185.7 857.5,186.3 858.5,186.9C859.5,187.5 860.5,188.1 861.5,188.8C862.5,189.4 863.5,190.1 864.5,190.8C865.5,191.4 866.5,192.1 867.5,192.8C868.5,193.5 869.5,194.2 870.5,195C871.5,195.7 872.5,196.5 873.5,197.4C874.5,198.3 875.5,199.3 876.5,200.3C877.5,201.4 878.5,202.5 879.5,203.7C880.5,204.9 881.5,206.1 882.5,207.5C883.5,208.9 884.5,210.4 885.5,212.1C886.5,213.7 887.5,215.5 888.5,217.2C889.5,219 890.5,220.8 891.5,222.6C892.5,224.5 893.5,226.4 894.5,228.4C895.5,230.3 896.5,232.3 897.5,234.3C898.5,236.3 899.5,238.3 900.5,240.2C901.5,242.1 902.5,244 903.5,245.8C904.5,247.7 905.5,249.5 906.5,251.3C907.5,253.1 908.5,254.9 909.5,256.6C910.5,258.4 911.5,260.1 912.5,261.7C913.5,263.4 914.5,264.9 915.5,266.4C916.5,267.9 917.5,269.2 918.5,270.7C919.5,272.1 920.5,273.5 921.5,274.8C922.5,276.1 923.5,277.4 924.5,278.6C925.5,279.7 926.5,280.7 927.5,281.7C928.5,282.7 929.5,283.6 930.5,284.5C931.5,285.4 932.5,286.3 933.5,287.1C934.5,287.9 935.5,288.7 936.5,289.4C937.5,290 938.5,290.6 939.5,291.1C940.5,291.6 941.5,292 942.5,292.5C943.5,293 944.5,293.4 945.5,293.8C946.5,294.2 947.5,294.6 948.5,295C949.5,295.3 950.5,295.6 951.5,295.9C952.5,296.1 953.5,296.4 954.5,296.6C955.5,296.8 956.7,297 957.5,297.2C958.3,297.4 959.1,297.8 959.4,297.9L959.4,298.9L564.5,298.9Z"/>
<clipPath id="fbIV"><use href="#abIV"/></clipPath>
<path id="cbV" d="M564.5,297.6C565,297.5 566.5,297.2 567.5,297C568.5,296.8 569.5,296.7 570.5,296.5C571.5,296.4 572.5,296.2 573.5,296C574.5,295.8 575.5,295.7 576.5,295.5C577.5,295.3 578.5,295.1 579.5,294.9C580.5,294.7 581.5,294.5 582.5,294.3C583.5,294.1 584.5,293.9 585.5,293.7C586.5,293.5 587.5,293.3 588.5,293C589.5,292.7 590.5,292.4 591.5,292.1C592.5,291.8 593.5,291.5 594.5,291.2C595.5,290.9 596.5,290.5 597.5,290.2C598.5,289.8 599.5,289.5 600.5,289.1C601.5,288.7 602.5,288.3 603.5,287.9C604.5,287.5 605.5,287 606.5,286.5C607.5,286.1 608.5,285.6 609.5,285.1C610.5,284.7 611.5,284.2 612.5,283.6C613.5,283.1 614.5,282.5 615.5,281.9C616.5,281.3 617.5,280.6 618.5,279.9C619.5,279.2 620.5,278.5 621.5,277.7C622.5,277 623.5,276.2 624.5,275.4C625.5,274.6 626.5,273.8 627.5,272.9C628.5,272 629.5,271.1 630.5,270.2C631.5,269.2 632.5,268.3 633.5,267.3C634.5,266.2 635.5,265.1 636.5,263.9C637.5,262.7 638.5,261.4 639.5,260.2C640.5,258.9 641.5,257.6 642.5,256.2C643.5,254.9 644.5,253.5 645.5,252.1C646.5,250.7 647.5,249.3 648.5,247.8C649.5,246.3 650.5,244.8 651.5,243.3C652.5,241.8 653.5,240.3 654.5,238.9C655.5,237.5 656.5,236.1 657.5,234.8C658.5,233.4 659.5,232.1 660.5,230.8C661.5,229.5 662.5,228.2 663.5,227C664.5,225.7 665.5,224.5 666.5,223.4C667.5,222.3 668.5,221.3 669.5,220.2C670.5,219.2 671.5,218.2 672.5,217.2C673.5,216.2 674.5,215.3 675.5,214.4C676.5,213.5 677.5,212.7 678.5,211.9C679.5,211.2 680.5,210.5 681.5,209.8C682.5,209.1 683.5,208.4 684.5,207.7C685.5,207.1 686.5,206.5 687.5,206C688.5,205.5 689.5,205.2 690.5,204.8C691.5,204.4 692.5,204 693.5,203.7C694.5,203.3 695.5,203 696.5,202.7C697.5,202.4 698.5,202.1 699.5,201.8C700.5,201.6 701.5,201.3 702.5,201.1C703.5,200.8 704.5,200.6 705.5,200.3C706.5,200 707.5,199.8 708.5,199.5C709.5,199.2 710.5,198.9 711.5,198.5C712.5,198.2 713.5,197.8 714.5,197.5C715.5,197.1 716.5,196.7 717.5,196.4C718.5,196 719.5,195.6 720.5,195.3C721.5,194.9 722.5,194.6 723.5,194.2C724.5,193.9 725.5,193.5 726.5,193.2C727.5,192.9 728.5,192.5 729.5,192.2C730.5,191.9 731.5,191.6 732.5,191.3C733.5,191.1 734.5,190.9 735.5,190.7C736.5,190.5 737.5,190.4 738.5,190.2C739.5,190.1 740.5,189.9 741.5,189.9C742.5,189.8 743.5,189.8 744.5,189.9C745.5,190 746.5,190.1 747.5,190.3C748.5,190.4 749.5,190.6 750.5,190.8C751.5,191 752.5,191.3 753.5,191.6C754.5,192 755.5,192.4 756.5,192.9C757.5,193.4 758.5,193.9 759.5,194.4C760.5,194.9 761.5,195.5 762.5,196.1C763.5,196.7 764.5,197.5 765.5,198.2C766.5,198.9 767.5,199.7 768.5,200.5C769.5,201.3 770.5,202.1 771.5,202.9C772.5,203.8 773.5,204.6 774.5,205.5C775.5,206.4 776.5,207.3 777.5,208.3C778.5,209.3 779.5,210.3 780.5,211.3C781.5,212.2 782.5,213.2 783.5,214.3C784.5,215.3 785.5,216.3 786.5,217.4C787.5,218.6 788.5,219.7 789.5,220.9C790.5,222.1 791.5,223.3 792.5,224.5C793.5,225.7 794.5,226.9 795.5,228.1C796.5,229.3 797.5,230.6 798.5,231.8C799.5,233 800.5,234.2 801.5,235.4C802.5,236.6 803.5,237.8 804.5,239C805.5,240.1 806.5,241.3 807.5,242.4C808.5,243.6 809.5,244.6 810.5,245.6C811.5,246.6 812.5,247.5 813.5,248.4C814.5,249.4 815.5,250.3 816.5,251.1C817.5,252 818.5,252.9 819.5,253.6C820.5,254.4 821.5,255 822.5,255.6C823.5,256.2 824.5,256.7 825.5,257.2C826.5,257.6 827.5,258.1 828.5,258.5C829.5,259 830.5,259.4 831.5,259.8C832.5,260.2 833.5,260.5 834.5,260.9C835.5,261.2 836.5,261.4 837.5,261.7C838.5,262 839.5,262.3 840.5,262.6C841.5,262.8 842.5,263.1 843.5,263.4C844.5,263.6 845.5,263.9 846.5,264.2C847.5,264.4 848.5,264.7 849.5,265C850.5,265.2 851.5,265.5 852.5,265.7C853.5,266 854.5,266.3 855.5,266.6C856.5,266.8 857.5,267.1 858.5,267.4C859.5,267.7 860.5,268 861.5,268.3C862.5,268.6 863.5,268.8 864.5,269.1C865.5,269.4 866.5,269.7 867.5,270.1C868.5,270.4 869.5,270.8 870.5,271.2C871.5,271.6 872.5,272 873.5,272.5C874.5,272.9 875.5,273.4 876.5,273.9C877.5,274.3 878.5,274.8 879.5,275.2C880.5,275.7 881.5,276.2 882.5,276.7C883.5,277.1 884.5,277.6 885.5,278.1C886.5,278.6 887.5,279.1 888.5,279.6C889.5,280.1 890.5,280.7 891.5,281.2C892.5,281.7 893.5,282.2 894.5,282.7C895.5,283.1 896.5,283.6 897.5,284.1C898.5,284.5 899.5,284.9 900.5,285.4C901.5,285.8 902.5,286.2 903.5,286.6C904.5,287 905.5,287.4 906.5,287.8C907.5,288.2 908.5,288.6 909.5,289C910.5,289.4 911.5,289.7 912.5,290C913.5,290.4 914.5,290.6 915.5,290.9C916.5,291.2 917.5,291.5 918.5,291.8C919.5,292.1 920.5,292.3 921.5,292.6C922.5,292.9 923.5,293.1 924.5,293.4C925.5,293.6 926.5,293.8 927.5,294C928.5,294.2 929.5,294.3 930.5,294.5C931.5,294.7 932.5,294.9 933.5,295C934.5,295.2 935.5,295.4 936.5,295.5C937.5,295.7 938.5,295.8 939.5,296C940.5,296.1 941.5,296.2 942.5,296.3C943.5,296.4 944.5,296.5 945.5,296.6C946.5,296.7 947.5,296.8 948.5,296.9C949.5,297 950.5,297 951.5,297.1C952.5,297.2 953.5,297.3 954.5,297.4C955.5,297.5 956.7,297.6 957.5,297.6C958.3,297.7 959.1,297.9 959.4,297.9"/>
<path id="abV" d="M564.5,297.6C565,297.5 566.5,297.2 567.5,297C568.5,296.8 569.5,296.7 570.5,296.5C571.5,296.4 572.5,296.2 573.5,296C574.5,295.8 575.5,295.7 576.5,295.5C577.5,295.3 578.5,295.1 579.5,294.9C580.5,294.7 581.5,294.5 582.5,294.3C583.5,294.1 584.5,293.9 585.5,293.7C586.5,293.5 587.5,293.3 588.5,293C589.5,292.7 590.5,292.4 591.5,292.1C592.5,291.8 593.5,291.5 594.5,291.2C595.5,290.9 596.5,290.5 597.5,290.2C598.5,289.8 599.5,289.5 600.5,289.1C601.5,288.7 602.5,288.3 603.5,287.9C604.5,287.5 605.5,287 606.5,286.5C607.5,286.1 608.5,285.6 609.5,285.1C610.5,284.7 611.5,284.2 612.5,283.6C613.5,283.1 614.5,282.5 615.5,281.9C616.5,281.3 617.5,280.6 618.5,279.9C619.5,279.2 620.5,278.5 621.5,277.7C622.5,277 623.5,276.2 624.5,275.4C625.5,274.6 626.5,273.8 627.5,272.9C628.5,272 629.5,271.1 630.5,270.2C631.5,269.2 632.5,268.3 633.5,267.3C634.5,266.2 635.5,265.1 636.5,263.9C637.5,262.7 638.5,261.4 639.5,260.2C640.5,258.9 641.5,257.6 642.5,256.2C643.5,254.9 644.5,253.5 645.5,252.1C646.5,250.7 647.5,249.3 648.5,247.8C649.5,246.3 650.5,244.8 651.5,243.3C652.5,241.8 653.5,240.3 654.5,238.9C655.5,237.5 656.5,236.1 657.5,234.8C658.5,233.4 659.5,232.1 660.5,230.8C661.5,229.5 662.5,228.2 663.5,227C664.5,225.7 665.5,224.5 666.5,223.4C667.5,222.3 668.5,221.3 669.5,220.2C670.5,219.2 671.5,218.2 672.5,217.2C673.5,216.2 674.5,215.3 675.5,214.4C676.5,213.5 677.5,212.7 678.5,211.9C679.5,211.2 680.5,210.5 681.5,209.8C682.5,209.1 683.5,208.4 684.5,207.7C685.5,207.1 686.5,206.5 687.5,206C688.5,205.5 689.5,205.2 690.5,204.8C691.5,204.4 692.5,204 693.5,203.7C694.5,203.3 695.5,203 696.5,202.7C697.5,202.4 698.5,202.1 699.5,201.8C700.5,201.6 701.5,201.3 702.5,201.1C703.5,200.8 704.5,200.6 705.5,200.3C706.5,200 707.5,199.8 708.5,199.5C709.5,199.2 710.5,198.9 711.5,198.5C712.5,198.2 713.5,197.8 714.5,197.5C715.5,197.1 716.5,196.7 717.5,196.4C718.5,196 719.5,195.6 720.5,195.3C721.5,194.9 722.5,194.6 723.5,194.2C724.5,193.9 725.5,193.5 726.5,193.2C727.5,192.9 728.5,192.5 729.5,192.2C730.5,191.9 731.5,191.6 732.5,191.3C733.5,191.1 734.5,190.9 735.5,190.7C736.5,190.5 737.5,190.4 738.5,190.2C739.5,190.1 740.5,189.9 741.5,189.9C742.5,189.8 743.5,189.8 744.5,189.9C745.5,190 746.5,190.1 747.5,190.3C748.5,190.4 749.5,190.6 750.5,190.8C751.5,191 752.5,191.3 753.5,191.6C754.5,192 755.5,192.4 756.5,192.9C757.5,193.4 758.5,193.9 759.5,194.4C760.5,194.9 761.5,195.5 762.5,196.1C763.5,196.7 764.5,197.5 765.5,198.2C766.5,198.9 767.5,199.7 768.5,200.5C769.5,201.3 770.5,202.1 771.5,202.9C772.5,203.8 773.5,204.6 774.5,205.5C775.5,206.4 776.5,207.3 777.5,208.3C778.5,209.3 779.5,210.3 780.5,211.3C781.5,212.2 782.5,213.2 783.5,214.3C784.5,215.3 785.5,216.3 786.5,217.4C787.5,218.6 788.5,219.7 789.5,220.9C790.5,222.1 791.5,223.3 792.5,224.5C793.5,225.7 794.5,226.9 795.5,228.1C796.5,229.3 797.5,230.6 798.5,231.8C799.5,233 800.5,234.2 801.5,235.4C802.5,236.6 803.5,237.8 804.5,239C805.5,240.1 806.5,241.3 807.5,242.4C808.5,243.6 809.5,244.6 810.5,245.6C811.5,246.6 812.5,247.5 813.5,248.4C814.5,249.4 815.5,250.3 816.5,251.1C817.5,252 818.5,252.9 819.5,253.6C820.5,254.4 821.5,255 822.5,255.6C823.5,256.2 824.5,256.7 825.5,257.2C826.5,257.6 827.5,258.1 828.5,258.5C829.5,259 830.5,259.4 831.5,259.8C832.5,260.2 833.5,260.5 834.5,260.9C835.5,261.2 836.5,261.4 837.5,261.7C838.5,262 839.5,262.3 840.5,262.6C841.5,262.8 842.5,263.1 843.5,263.4C844.5,263.6 845.5,263.9 846.5,264.2C847.5,264.4 848.5,264.7 849.5,265C850.5,265.2 851.5,265.5 852.5,265.7C853.5,266 854.5,266.3 855.5,266.6C856.5,266.8 857.5,267.1 858.5,267.4C859.5,267.7 860.5,268 861.5,268.3C862.5,268.6 863.5,268.8 864.5,269.1C865.5,269.4 866.5,269.7 867.5,270.1C868.5,270.4 869.5,270.8 870.5,271.2C871.5,271.6 872.5,272 873.5,272.5C874.5,272.9 875.5,273.4 876.5,273.9C877.5,274.3 878.5,274.8 879.5,275.2C880.5,275.7 881.5,276.2 882.5,276.7C883.5,277.1 884.5,277.6 885.5,278.1C886.5,278.6 887.5,279.1 888.5,279.6C889.5,280.1 890.5,280.7 891.5,281.2C892.5,281.7 893.5,282.2 894.5,282.7C895.5,283.1 896.5,283.6 897.5,284.1C898.5,284.5 899.5,284.9 900.5,285.4C901.5,285.8 902.5,286.2 903.5,286.6C904.5,287 905.5,287.4 906.5,287.8C907.5,288.2 908.5,288.6 909.5,289C910.5,289.4 911.5,289.7 912.5,290C913.5,290.4 914.5,290.6 915.5,290.9C916.5,291.2 917.5,291.5 918.5,291.8C919.5,292.1 920.5,292.3 921.5,292.6C922.5,292.9 923.5,293.1 924.5,293.4C925.5,293.6 926.5,293.8 927.5,294C928.5,294.2 929.5,294.3 930.5,294.5C931.5,294.7 932.5,294.9 933.5,295C934.5,295.2 935.5,295.4 936.5,295.5C937.5,295.7 938.5,295.8 939.5,296C940.5,296.1 941.5,296.2 942.5,296.3C943.5,296.4 944.5,296.5 945.5,296.6C946.5,296.7 947.5,296.8 948.5,296.9C949.5,297 950.5,297 951.5,297.1C952.5,297.2 953.5,297.3 954.5,297.4C955.5,297.5 956.7,297.6 957.5,297.6C958.3,297.7 959.1,297.9 959.4,297.9L959.4,298.9L564.5,298.9Z"/>
<clipPath id="fbV"><use href="#abV"/></clipPath>
<clipPath id="fbU"><use href="#abIV"/><use href="#abV"/></clipPath>
</defs>
<path d="M619.5,6V298.9M674.5,6V298.9M729.5,6V298.9M783.5,6V298.9M838.5,6V298.9M893.5,6V298.9M948.5,6V298.9M564.5,268.5H959.4M564.5,237.5H959.4M564.5,206.5H959.4M564.5,175.5H959.4M564.5,144.5H959.4M564.5,113.5H959.4M564.5,83.5H959.4M564.5,52.5H959.4M564.5,21.5H959.4" stroke="#d4d4d4" stroke-width="1" fill="none"/>
<g clip-path="url(#clipb)">
<use href="#abV" fill="rgb(252,240,250)"/>
<use href="#abIV" fill="rgb(252,241,236)"/>
<use href="#abIII" fill="rgb(237,247,250)"/>
<use href="#abIV" fill="rgb(251,240,239)" clip-path="url(#fbV)"/>
<use href="#abIII" fill="rgb(252,242,235)" clip-path="url(#fbIV)"/>
<use href="#abIII" fill="rgb(236,247,250)" clip-path="url(#fbV)"/>
<g clip-path="url(#fbV)"><use href="#abIII" fill="rgb(244,240,239)" clip-path="url(#fbIV)"/></g>
<path d="M619.5,6V298.9M674.5,6V298.9M729.5,6V298.9M783.5,6V298.9M838.5,6V298.9M893.5,6V298.9M948.5,6V298.9M564.5,268.5H959.4M564.5,237.5H959.4M564.5,206.5H959.4M564.5,175.5H959.4M564.5,144.5H959.4M564.5,113.5H959.4M564.5,83.5H959.4M564.5,52.5H959.4M564.5,21.5H959.4" stroke="#d4d4d4" stroke-width="1" fill="none" stroke-opacity="0.55"/>
<use href="#cbIII" fill="none" stroke="#0ca87e" stroke-width="1.7" stroke-linejoin="round"/>
<use href="#cbIII" fill="none" stroke="#4cc4a2" stroke-width="1.7" stroke-linejoin="round" clip-path="url(#fbU)"/>
<use href="#cbIV" fill="none" stroke="#ff6010" stroke-width="1.7" stroke-linejoin="round"/>
<use href="#cbIV" fill="none" stroke="#ff864c" stroke-width="1.7" stroke-linejoin="round" clip-path="url(#fbV)"/>
<use href="#cbV" fill="none" stroke="#7b6cc8" stroke-width="1.7" stroke-linejoin="round"/>
</g>
<path d="M591.4,302.1V329.8M601.4,302.1V329.8M621.2,302.1V329.8M625.3,302.1V329.8M627.4,302.1V329.8" stroke="#00a878" stroke-width="1.4" stroke-opacity="0.6" fill="none"/>
<path d="M821.79,302.1V329.8M654.96,302.1V329.8M629.49,302.1V329.8M660.14,302.1V329.8M652.26,302.1V329.8M698.82,302.1V329.8M674.93,302.1V329.8M781.89,302.1V329.8M665.02,302.1V329.8M822.48,302.1V329.8M672.81,302.1V329.8M694.52,302.1V329.8M808.5,302.1V329.8M701.99,302.1V329.8M804.35,302.1V329.8M704.31,302.1V329.8M638.33,302.1V329.8M773.27,302.1V329.8M693.58,302.1V329.8M672.08,302.1V329.8M660.78,302.1V329.8M736.58,302.1V329.8M693.05,302.1V329.8M811.39,302.1V329.8M712.6,302.1V329.8M823.43,302.1V329.8M691.74,302.1V329.8M703.3,302.1V329.8M695.45,302.1V329.8M667.53,302.1V329.8M820.98,302.1V329.8M672.23,302.1V329.8M713.75,302.1V329.8M819.88,302.1V329.8M698.77,302.1V329.8M655.2,302.1V329.8M723.65,302.1V329.8M700.29,302.1V329.8M660.22,302.1V329.8M638.52,302.1V329.8M689.09,302.1V329.8M633.21,302.1V329.8M804.98,302.1V329.8M687.16,302.1V329.8M687.99,302.1V329.8M679.88,302.1V329.8M699.69,302.1V329.8M800.43,302.1V329.8M671.8,302.1V329.8M677.14,302.1V329.8M693.03,302.1V329.8M670.95,302.1V329.8M694.08,302.1V329.8M689.95,302.1V329.8M681.7,302.1V329.8M700.83,302.1V329.8M688.82,302.1V329.8M646.98,302.1V329.8M856.86,302.1V329.8M675.73,302.1V329.8M681.57,302.1V329.8M679.37,302.1V329.8M807.22,302.1V329.8M818.58,302.1V329.8M687.59,302.1V329.8M679.21,302.1V329.8M648.47,302.1V329.8M787.05,302.1V329.8M658.7,302.1V329.8M690.22,302.1V329.8M675.21,302.1V329.8M673.53,302.1V329.8M675.85,302.1V329.8M660.9,302.1V329.8M634.89,302.1V329.8M689.36,302.1V329.8M716.41,302.1V329.8M698.43,302.1V329.8M661.99,302.1V329.8M702.82,302.1V329.8M639.3,302.1V329.8M679.98,302.1V329.8M724.63,302.1V329.8M802.87,302.1V329.8M683.73,302.1V329.8M734.06,302.1V329.8M686.57,302.1V329.8M688.49,302.1V329.8M693.18,302.1V329.8M847.18,302.1V329.8M708.39,302.1V329.8M684.66,302.1V329.8M706.42,302.1V329.8M698.1,302.1V329.8M675.58,302.1V329.8M714.27,302.1V329.8M721.98,302.1V329.8M695.12,302.1V329.8M813.75,302.1V329.8M686.68,302.1V329.8M697.34,302.1V329.8M674.52,302.1V329.8M658.7,302.1V329.8M702.66,302.1V329.8M681.77,302.1V329.8M668.48,302.1V329.8M636.44,302.1V329.8M826.91,302.1V329.8M675.46,302.1V329.8M651.89,302.1V329.8M663.5,302.1V329.8M667.21,302.1V329.8M754.12,302.1V329.8M659.74,302.1V329.8M669.14,302.1V329.8M648.6,302.1V329.8M684.43,302.1V329.8M662.63,302.1V329.8M674.81,302.1V329.8M707.32,302.1V329.8M804.97,302.1V329.8M727.03,302.1V329.8M635.32,302.1V329.8M677.45,302.1V329.8M735.87,302.1V329.8M633.48,302.1V329.8M662.16,302.1V329.8M685.93,302.1V329.8M677.81,302.1V329.8M709.23,302.1V329.8M705.4,302.1V329.8M684.02,302.1V329.8M666.66,302.1V329.8M664.92,302.1V329.8M668.24,302.1V329.8M642.43,302.1V329.8M700.13,302.1V329.8M657.11,302.1V329.8M781.75,302.1V329.8M698.33,302.1V329.8M640.48,302.1V329.8M686.59,302.1V329.8M694.73,302.1V329.8M636.56,302.1V329.8M685.69,302.1V329.8M632.27,302.1V329.8M711.44,302.1V329.8M697.11,302.1V329.8M840.57,302.1V329.8M733.95,302.1V329.8M665.17,302.1V329.8M689.3,302.1V329.8M654.89,302.1V329.8M674.66,302.1V329.8M751.23,302.1V329.8M721.4,302.1V329.8M677.62,302.1V329.8M697.83,302.1V329.8M659.16,302.1V329.8M717.77,302.1V329.8M785.03,302.1V329.8M690.58,302.1V329.8M676.23,302.1V329.8M735.53,302.1V329.8M687.65,302.1V329.8M660.59,302.1V329.8M669.26,302.1V329.8M657.27,302.1V329.8M729.21,302.1V329.8M687.43,302.1V329.8M703.13,302.1V329.8M721.3,302.1V329.8M831.18,302.1V329.8M660.82,302.1V329.8M679.6,302.1V329.8M764.45,302.1V329.8M710.78,302.1V329.8M678.14,302.1V329.8M699.21,302.1V329.8M661.3,302.1V329.8M657.58,302.1V329.8M638.91,302.1V329.8M677.6,302.1V329.8M665.43,302.1V329.8M688.02,302.1V329.8M828.38,302.1V329.8M656.52,302.1V329.8M691.07,302.1V329.8M752.2,302.1V329.8M694.3,302.1V329.8M688.74,302.1V329.8M711.66,302.1V329.8M816.72,302.1V329.8M702.11,302.1V329.8M718.65,302.1V329.8M723.65,302.1V329.8M648.81,302.1V329.8M642.73,302.1V329.8M659.49,302.1V329.8M687.04,302.1V329.8M811.56,302.1V329.8M796.42,302.1V329.8M680.07,302.1V329.8M696.29,302.1V329.8M707.91,302.1V329.8M673.86,302.1V329.8M829.01,302.1V329.8M813.28,302.1V329.8M706.39,302.1V329.8M791.44,302.1V329.8M717.39,302.1V329.8M698.89,302.1V329.8M672.96,302.1V329.8M669.58,302.1V329.8M665.67,302.1V329.8M640.62,302.1V329.8M805.38,302.1V329.8M671.04,302.1V329.8M629.62,302.1V329.8M672.53,302.1V329.8M649.57,302.1V329.8M682.57,302.1V329.8M673.85,302.1V329.8M659.16,302.1V329.8M684.94,302.1V329.8M680.29,302.1V329.8M675.6,302.1V329.8M720.23,302.1V329.8M671.75,302.1V329.8M689.8,302.1V329.8M769.15,302.1V329.8M822.25,302.1V329.8M677.22,302.1V329.8M636.02,302.1V329.8M817.7,302.1V329.8M687.75,302.1V329.8M663.63,302.1V329.8M653.34,302.1V329.8M665.72,302.1V329.8M672.06,302.1V329.8M654.75,302.1V329.8M638.49,302.1V329.8M852.15,302.1V329.8M722.12,302.1V329.8M651.17,302.1V329.8M685.24,302.1V329.8M717.51,302.1V329.8M687.02,302.1V329.8M643.29,302.1V329.8M674.45,302.1V329.8M677.68,302.1V329.8M799.36,302.1V329.8M693.05,302.1V329.8M683.61,302.1V329.8M697,302.1V329.8" stroke="#00a878" stroke-width="1.4" stroke-opacity="0.85" fill="none"/>
<path d="M590,302.1V329.8M595.8,302.1V329.8M614.5,302.1V329.8M945,302.1V329.8" stroke="#ff5a00" stroke-width="1.4" stroke-opacity="0.6" fill="none"/>
<path d="M846.79,302.1V329.8M868.88,302.1V329.8M844.12,302.1V329.8M778.59,302.1V329.8M750.52,302.1V329.8M676.16,302.1V329.8M703.83,302.1V329.8M803.93,302.1V329.8M863.24,302.1V329.8M726.19,302.1V329.8M808.08,302.1V329.8M838.15,302.1V329.8M837.05,302.1V329.8M893.92,302.1V329.8M829.4,302.1V329.8M757.1,302.1V329.8M733.87,302.1V329.8M847.27,302.1V329.8M897.57,302.1V329.8M770.19,302.1V329.8M790.12,302.1V329.8M824.4,302.1V329.8M711.25,302.1V329.8M792.28,302.1V329.8M893.09,302.1V329.8M824.27,302.1V329.8M871.82,302.1V329.8M741.75,302.1V329.8M881.24,302.1V329.8M864.05,302.1V329.8M729.08,302.1V329.8M819.45,302.1V329.8M846.05,302.1V329.8M827.22,302.1V329.8M832.31,302.1V329.8M734.13,302.1V329.8M823.82,302.1V329.8M776.42,302.1V329.8M866.95,302.1V329.8M782.48,302.1V329.8M918.59,302.1V329.8M828.57,302.1V329.8M729.88,302.1V329.8M794.89,302.1V329.8M694.04,302.1V329.8M855.59,302.1V329.8M832.82,302.1V329.8M758.94,302.1V329.8M863.01,302.1V329.8M693.57,302.1V329.8M845.8,302.1V329.8M851.63,302.1V329.8M731.74,302.1V329.8M694.85,302.1V329.8M782.42,302.1V329.8M840.39,302.1V329.8M741.41,302.1V329.8M801.22,302.1V329.8M869.02,302.1V329.8M705.02,302.1V329.8M900.18,302.1V329.8M815.32,302.1V329.8M706.02,302.1V329.8M683.4,302.1V329.8M781.87,302.1V329.8M808.93,302.1V329.8M711.52,302.1V329.8M677.02,302.1V329.8M813.95,302.1V329.8M738.98,302.1V329.8M801.9,302.1V329.8M803.37,302.1V329.8M848.72,302.1V329.8M828.05,302.1V329.8M730.07,302.1V329.8M712.96,302.1V329.8M879.09,302.1V329.8M692.2,302.1V329.8M670.98,302.1V329.8M872.46,302.1V329.8M821.47,302.1V329.8M894.83,302.1V329.8M836.5,302.1V329.8M769.48,302.1V329.8M798.61,302.1V329.8M854.87,302.1V329.8M731.08,302.1V329.8M867.92,302.1V329.8M792.72,302.1V329.8M772.52,302.1V329.8M824.97,302.1V329.8M700.9,302.1V329.8M889.85,302.1V329.8M895.54,302.1V329.8M815.92,302.1V329.8M889.64,302.1V329.8M847.44,302.1V329.8M820.94,302.1V329.8M705.13,302.1V329.8M904.65,302.1V329.8M893.65,302.1V329.8M803.65,302.1V329.8M786.26,302.1V329.8M672.61,302.1V329.8M835.28,302.1V329.8M878.29,302.1V329.8M787.46,302.1V329.8M751.57,302.1V329.8M834.2,302.1V329.8M866.07,302.1V329.8M709.36,302.1V329.8M749.17,302.1V329.8M839.25,302.1V329.8M870.59,302.1V329.8M761.87,302.1V329.8M873.62,302.1V329.8M804.29,302.1V329.8M707.85,302.1V329.8M688.47,302.1V329.8M741.2,302.1V329.8M859.42,302.1V329.8M866.2,302.1V329.8M837.35,302.1V329.8M758.61,302.1V329.8M842.97,302.1V329.8M854.9,302.1V329.8M780.75,302.1V329.8M675.96,302.1V329.8M807.35,302.1V329.8M727.88,302.1V329.8M716.17,302.1V329.8M787.96,302.1V329.8M673.07,302.1V329.8M887.97,302.1V329.8M748.58,302.1V329.8M888.09,302.1V329.8M855.77,302.1V329.8M888.3,302.1V329.8M869.16,302.1V329.8M818.59,302.1V329.8M884.72,302.1V329.8M809.33,302.1V329.8M702.13,302.1V329.8M759.93,302.1V329.8M878.95,302.1V329.8M873.09,302.1V329.8M690.24,302.1V329.8M774.77,302.1V329.8M687.81,302.1V329.8M730.11,302.1V329.8M775.57,302.1V329.8M794.56,302.1V329.8M702.12,302.1V329.8M841.87,302.1V329.8M734.84,302.1V329.8M886.07,302.1V329.8M809.97,302.1V329.8M798.4,302.1V329.8M860.93,302.1V329.8M772.99,302.1V329.8M739.96,302.1V329.8M691.98,302.1V329.8M753.84,302.1V329.8M732.24,302.1V329.8M855.38,302.1V329.8M776.56,302.1V329.8M850.38,302.1V329.8M746.67,302.1V329.8M670.96,302.1V329.8M757.73,302.1V329.8M788.57,302.1V329.8M891.07,302.1V329.8M719.95,302.1V329.8M724.28,302.1V329.8M704.35,302.1V329.8M738.7,302.1V329.8M907.83,302.1V329.8M897.28,302.1V329.8M729.82,302.1V329.8M811,302.1V329.8M829.29,302.1V329.8M687.84,302.1V329.8M795.51,302.1V329.8M861.45,302.1V329.8M852.44,302.1V329.8M846.57,302.1V329.8M864.77,302.1V329.8M811.07,302.1V329.8M806.29,302.1V329.8M817.3,302.1V329.8M697.1,302.1V329.8M816.41,302.1V329.8M733.93,302.1V329.8M763.99,302.1V329.8M705.27,302.1V329.8M664.09,302.1V329.8M821.48,302.1V329.8M732.84,302.1V329.8M824.13,302.1V329.8M814.41,302.1V329.8M731.7,302.1V329.8M693.68,302.1V329.8M831.28,302.1V329.8M845.13,302.1V329.8M847.51,302.1V329.8M815.21,302.1V329.8M828.48,302.1V329.8M758.31,302.1V329.8M867.46,302.1V329.8M783.9,302.1V329.8M684.93,302.1V329.8M796.22,302.1V329.8M874,302.1V329.8M682.64,302.1V329.8M687.91,302.1V329.8M813.37,302.1V329.8M882.07,302.1V329.8M787.92,302.1V329.8M736.88,302.1V329.8M861.32,302.1V329.8M681.14,302.1V329.8M754.09,302.1V329.8M831.69,302.1V329.8M877.14,302.1V329.8M879.6,302.1V329.8M765.83,302.1V329.8M743.32,302.1V329.8M779.43,302.1V329.8M691.59,302.1V329.8M745.61,302.1V329.8M861.07,302.1V329.8M918.22,302.1V329.8M744.73,302.1V329.8M672.08,302.1V329.8M856.14,302.1V329.8M910.59,302.1V329.8M866.23,302.1V329.8M794.09,302.1V329.8M856.97,302.1V329.8M859.96,302.1V329.8M856.96,302.1V329.8M812.28,302.1V329.8M863.7,302.1V329.8M732.41,302.1V329.8M798.67,302.1V329.8M679.08,302.1V329.8M783.1,302.1V329.8M870.69,302.1V329.8M810.95,302.1V329.8M818.37,302.1V329.8M863.37,302.1V329.8M678.3,302.1V329.8M776.12,302.1V329.8M810.37,302.1V329.8M812.49,302.1V329.8M846.55,302.1V329.8M898.91,302.1V329.8M867.63,302.1V329.8M822.3,302.1V329.8M846.4,302.1V329.8M821.02,302.1V329.8M924.3,302.1V329.8M831.37,302.1V329.8M830.94,302.1V329.8M789.51,302.1V329.8M795.81,302.1V329.8M860.6,302.1V329.8M782.54,302.1V329.8M889.43,302.1V329.8M854.06,302.1V329.8M905.59,302.1V329.8M850.35,302.1V329.8M826.71,302.1V329.8M780.58,302.1V329.8M842.54,302.1V329.8M858.29,302.1V329.8M853.24,302.1V329.8M859.7,302.1V329.8M846.43,302.1V329.8M748.23,302.1V329.8M787.37,302.1V329.8M881.21,302.1V329.8M792.03,302.1V329.8M806.92,302.1V329.8M713.6,302.1V329.8M723.77,302.1V329.8M725.49,302.1V329.8M818.06,302.1V329.8M679.04,302.1V329.8M677.88,302.1V329.8M855.08,302.1V329.8M912.87,302.1V329.8M858.05,302.1V329.8M816.6,302.1V329.8M694.96,302.1V329.8M864.3,302.1V329.8M694.58,302.1V329.8M673.95,302.1V329.8M815.94,302.1V329.8M879.88,302.1V329.8M759.97,302.1V329.8M880.09,302.1V329.8M768.26,302.1V329.8M910.73,302.1V329.8M856,302.1V329.8M880.42,302.1V329.8M922.65,302.1V329.8M870.61,302.1V329.8M718.86,302.1V329.8M816.8,302.1V329.8M637.72,302.1V329.8M640.56,302.1V329.8M632.67,302.1V329.8M638.23,302.1V329.8M633.55,302.1V329.8M631.95,302.1V329.8M636.19,302.1V329.8M641.86,302.1V329.8M637.86,302.1V329.8M651.38,302.1V329.8M649.06,302.1V329.8M651.46,302.1V329.8" stroke="#ff5a00" stroke-width="1.4" stroke-opacity="0.85" fill="none"/>
<path d="M576.9,302.1V329.8M603,302.1V329.8M608.3,302.1V329.8M939.8,302.1V329.8" stroke="#6670c6" stroke-width="1.4" stroke-opacity="0.6" fill="none"/>
<path d="M720.83,302.1V329.8M696.41,302.1V329.8M704.14,302.1V329.8M687.42,302.1V329.8M700.83,302.1V329.8M770.35,302.1V329.8M761.19,302.1V329.8M761.45,302.1V329.8M853.56,302.1V329.8M768.89,302.1V329.8M665.52,302.1V329.8M721.69,302.1V329.8M743.19,302.1V329.8M785.89,302.1V329.8M744.24,302.1V329.8M734.71,302.1V329.8M766.81,302.1V329.8M795.61,302.1V329.8M729.36,302.1V329.8M684.65,302.1V329.8M739.49,302.1V329.8M786.72,302.1V329.8M742.97,302.1V329.8M756.03,302.1V329.8M749.47,302.1V329.8M688.32,302.1V329.8M703.02,302.1V329.8M838.68,302.1V329.8M724.55,302.1V329.8M906.05,302.1V329.8M807.42,302.1V329.8M753.71,302.1V329.8M728.28,302.1V329.8M749.89,302.1V329.8M812.92,302.1V329.8M708.65,302.1V329.8M671.92,302.1V329.8M839.67,302.1V329.8M762.27,302.1V329.8M716.9,302.1V329.8M720.99,302.1V329.8M750.76,302.1V329.8M795.84,302.1V329.8M738.7,302.1V329.8M775.19,302.1V329.8M784.09,302.1V329.8M708,302.1V329.8M763.54,302.1V329.8M887.57,302.1V329.8M779.01,302.1V329.8M678.03,302.1V329.8M768.25,302.1V329.8M764.82,302.1V329.8M793.05,302.1V329.8M776.15,302.1V329.8M847.11,302.1V329.8M891.71,302.1V329.8M683.74,302.1V329.8M735.34,302.1V329.8M904.85,302.1V329.8M725.83,302.1V329.8M759.57,302.1V329.8M726.34,302.1V329.8M675.47,302.1V329.8M739.36,302.1V329.8M686.63,302.1V329.8M737.18,302.1V329.8M778.92,302.1V329.8M701.81,302.1V329.8M729.48,302.1V329.8M762.44,302.1V329.8M744.53,302.1V329.8M800.01,302.1V329.8M835.92,302.1V329.8M882.82,302.1V329.8M674.01,302.1V329.8M735.87,302.1V329.8M775.41,302.1V329.8M720.29,302.1V329.8M816.66,302.1V329.8M736.02,302.1V329.8M799.24,302.1V329.8M758.96,302.1V329.8M723.48,302.1V329.8M810.32,302.1V329.8M773.22,302.1V329.8M707.1,302.1V329.8M727.38,302.1V329.8M643.34,302.1V329.8M662.52,302.1V329.8M650.59,302.1V329.8" stroke="#6670c6" stroke-width="1.4" stroke-opacity="0.85" fill="none"/>
<path d="M564.5,298.9H959.4" stroke="#464646" stroke-width="1.5"/>
<rect x="564.5" y="6" width="394.9" height="327.4" fill="none" stroke="#464646" stroke-width="1.5"/>
<path d="M564.5,333.4v-4M619.35,333.4v-4M674.19,333.4v-4M729.04,333.4v-4M783.89,333.4v-4M838.74,333.4v-4M893.58,333.4v-4M948.43,333.4v-4M591.92,333.4v-2.2M646.77,333.4v-2.2M701.62,333.4v-2.2M756.47,333.4v-2.2M811.31,333.4v-2.2M866.16,333.4v-2.2M921.01,333.4v-2.2M564.5,298.9h4M564.5,268.07h4M564.5,237.24h4M564.5,206.41h4M564.5,175.57h4M564.5,144.74h4M564.5,113.91h4M564.5,83.08h4M564.5,52.25h4M564.5,21.42h4M564.5,283.48h2.2M564.5,252.65h2.2M564.5,221.82h2.2M564.5,190.99h2.2M564.5,160.16h2.2M564.5,129.33h2.2M564.5,98.49h2.2M564.5,67.66h2.2M564.5,36.83h2.2M564.5,6h2.2" stroke="#464646" stroke-width="1.3" fill="none"/>
<g font-family='"Liberation Serif", serif' font-size="13" fill="#222">
<text x="559.2" y="302.7" text-anchor="end">0.0</text>
<text x="559.2" y="271.87" text-anchor="end">0.2</text>
<text x="559.2" y="241.04" text-anchor="end">0.4</text>
<text x="559.2" y="210.21" text-anchor="end">0.6</text>
<text x="559.2" y="179.37" text-anchor="end">0.8</text>
<text x="559.2" y="148.54" text-anchor="end">1.0</text>
<text x="559.2" y="117.71" text-anchor="end">1.2</text>
<text x="559.2" y="86.88" text-anchor="end">1.4</text>
<text x="559.2" y="56.05" text-anchor="end">1.6</text>
<text x="559.2" y="25.22" text-anchor="end">1.8</text>
<text x="564.5" y="349" text-anchor="middle">0.0</text>
<text x="619.35" y="349" text-anchor="middle">0.5</text>
<text x="674.19" y="349" text-anchor="middle">1.0</text>
<text x="729.04" y="349" text-anchor="middle">1.5</text>
<text x="783.89" y="349" text-anchor="middle">2.0</text>
<text x="838.74" y="349" text-anchor="middle">2.5</text>
<text x="893.58" y="349" text-anchor="middle">3.0</text>
<text x="948.43" y="349" text-anchor="middle">3.5</text>
</g>
<text x="762" y="368.8" text-anchor="middle" font-family='"Liberation Serif", serif' font-size="15" fill="#222">Torque (10<tspan dy="-5.5" font-size="10">3</tspan><tspan dy="5.5">kN·m)</tspan></text>
<text transform="translate(536.3,152.5) rotate(-90)" text-anchor="middle" font-family='"Liberation Serif", serif' font-size="15" fill="#222">Density (10<tspan dy="-5.5" font-size="10">-3</tspan><tspan dy="5.5">)</tspan></text>
<text x="495.2" y="24.7" font-family='"Liberation Serif", serif' font-size="33.5" fill="#111">(b)</text>
<rect x="588.05" y="21.85" width="28.6" height="12.7" fill="rgb(219,239,245)" fill-opacity="0.5" stroke="#84e0c8" stroke-width="1.5"/>
<text x="622" y="32.7" font-family='"Liberation Serif", serif' font-size="13" fill="#111">III</text>
<rect x="588.05" y="38.35" width="28.6" height="12.9" fill="rgb(249,227,217)" fill-opacity="0.5" stroke="#ffc29c" stroke-width="1.5"/>
<text x="622" y="49.4" font-family='"Liberation Serif", serif' font-size="13" fill="#111">IV</text>
<rect x="588.05" y="55.05" width="28.6" height="13.3" fill="rgb(249,225,245)" fill-opacity="0.5" stroke="#d4d2f2" stroke-width="1.5"/>
<text x="622" y="66" font-family='"Liberation Serif", serif' font-size="13" fill="#111">V</text>
<rect x="873.6" y="21.4" width="79.1" height="52.3" fill="#fff"/>
<rect x="873.6" y="21.4" width="79.1" height="11.8" fill="#e6e6e6"/>
<path d="M873.6,21.4H952.7M873.6,33.2H952.7M873.6,43.5H952.7M873.6,53.5H952.7M873.6,63.6H952.7M873.6,73.7H952.7M873.6,21.4V73.7M952.7,21.4V73.7M892.3,33.2V73.7" stroke="#8a8a8a" stroke-width="1" fill="none"/>
<g font-family='"Liberation Serif", serif' font-size="10.5" fill="#1a1a1a" text-anchor="middle">
<text x="913.15" y="31.6">Kernel Smooth</text>
<text x="922.5" y="42.7" font-size="9.5">w</text>
<text x="882.95" y="53">III</text>
<text x="922.5" y="53">115.50034</text>
<text x="882.95" y="63.1">IV</text>
<text x="922.5" y="63.1">160.60838</text>
<text x="882.95" y="73.2">V</text>
<text x="922.5" y="73.2">184.98137</text>
</g>
<defs><clipPath id="clipc"><rect x="67.5" y="406" width="395.2" height="293.5"/></clipPath>
<path id="ccIII" d="M86,699.3C86.5,699.1 88,698.4 89,697.9C90,697.5 91,697.2 92,696.7C93,696.1 94,695.5 95,694.8C96,694.1 97,693.4 98,692.6C99,691.9 100,691.1 101,690.3C102,689.5 103,688.6 104,687.8C105,686.9 106,686 107,685.1C108,684.2 109,683.3 110,682.4C111,681.5 112,680.5 113,679.5C114,678.5 115,677.5 116,676.3C117,675.2 118,674 119,672.5C120,671.1 121,669.6 122,667.7C123,665.8 124,663.8 125,661.4C126,659 127,656.2 128,653.2C129,650.1 130,646.8 131,642.9C132,639.1 133,634.8 134,630.1C135,625.5 136,620.3 137,615C138,609.8 139,604.1 140,598.5C141,592.8 142,586.9 143,581.2C144,575.4 145,569.6 146,563.8C147,558 148,552.1 149,546.3C150,540.6 151,534.5 152,529.2C153,524 154,519 155,514.6C156,510.3 157,506.5 158,503.2C159,499.8 160,497.1 161,494.6C162,492.1 163,490.1 164,488.2C165,486.2 166,484.6 167,483.1C168,481.5 169,480.2 170,479C171,477.8 172,476.7 173,475.8C174,474.8 175,474.1 176,473.4C177,472.7 178,472.2 179,471.7C180,471.2 181,470.7 182,470.4C183,470.2 184,470.1 185,470.2C186,470.3 187,470.6 188,470.9C189,471.3 190,471.6 191,472.1C192,472.6 193,473.3 194,474C195,474.8 196,475.8 197,476.7C198,477.7 199,478.7 200,479.7C201,480.6 202,481.6 203,482.5C204,483.4 205,484.3 206,485.2C207,486.1 208,487 209,487.9C210,488.7 211,489.5 212,490.3C213,491 214,491.6 215,492.2C216,492.8 217,493.3 218,493.8C219,494.4 220,494.9 221,495.3C222,495.7 223,496 224,496.3C225,496.5 226,496.6 227,496.7C228,496.8 229,496.9 230,497.1C231,497.3 232,497.5 233,497.9C234,498.4 235,498.9 236,500C237,501 238,502.4 239,504.3C240,506.1 241,508.5 242,511.3C243,514.1 244,517.4 245,521.1C246,524.9 247,529.2 248,533.7C249,538.2 250,543.3 251,548.1C252,552.8 253,557.8 254,562.3C255,566.9 256,571.1 257,575.3C258,579.4 259,583.4 260,587.4C261,591.4 262,595.4 263,599.3C264,603.2 265,607.2 266,611C267,614.8 268,618.6 269,622.1C270,625.7 271,629.1 272,632.4C273,635.6 274,638.7 275,641.6C276,644.4 277,646.9 278,649.3C279,651.7 280,654 281,656.1C282,658.2 283,660.3 284,661.9C285,663.6 286,664.8 287,666C288,667.1 289,667.9 290,668.8C291,669.7 292,670.6 293,671.4C294,672.3 295,673.2 296,674C297,674.9 298,675.8 299,676.7C300,677.6 301,678.5 302,679.4C303,680.3 304,681.3 305,682.2C306,683.2 307,684.2 308,685.2C309,686.2 310,687.2 311,688.1C312,689 313,689.9 314,690.7C315,691.5 316,692.3 317,693C318,693.8 319,694.5 320,695.2C321,695.8 322,696.4 323,696.9C324,697.3 325,697.6 326,698C327,698.4 328.4,699 328.9,699.2"/>
<path id="acIII" d="M86,699.3C86.5,699.1 88,698.4 89,697.9C90,697.5 91,697.2 92,696.7C93,696.1 94,695.5 95,694.8C96,694.1 97,693.4 98,692.6C99,691.9 100,691.1 101,690.3C102,689.5 103,688.6 104,687.8C105,686.9 106,686 107,685.1C108,684.2 109,683.3 110,682.4C111,681.5 112,680.5 113,679.5C114,678.5 115,677.5 116,676.3C117,675.2 118,674 119,672.5C120,671.1 121,669.6 122,667.7C123,665.8 124,663.8 125,661.4C126,659 127,656.2 128,653.2C129,650.1 130,646.8 131,642.9C132,639.1 133,634.8 134,630.1C135,625.5 136,620.3 137,615C138,609.8 139,604.1 140,598.5C141,592.8 142,586.9 143,581.2C144,575.4 145,569.6 146,563.8C147,558 148,552.1 149,546.3C150,540.6 151,534.5 152,529.2C153,524 154,519 155,514.6C156,510.3 157,506.5 158,503.2C159,499.8 160,497.1 161,494.6C162,492.1 163,490.1 164,488.2C165,486.2 166,484.6 167,483.1C168,481.5 169,480.2 170,479C171,477.8 172,476.7 173,475.8C174,474.8 175,474.1 176,473.4C177,472.7 178,472.2 179,471.7C180,471.2 181,470.7 182,470.4C183,470.2 184,470.1 185,470.2C186,470.3 187,470.6 188,470.9C189,471.3 190,471.6 191,472.1C192,472.6 193,473.3 194,474C195,474.8 196,475.8 197,476.7C198,477.7 199,478.7 200,479.7C201,480.6 202,481.6 203,482.5C204,483.4 205,484.3 206,485.2C207,486.1 208,487 209,487.9C210,488.7 211,489.5 212,490.3C213,491 214,491.6 215,492.2C216,492.8 217,493.3 218,493.8C219,494.4 220,494.9 221,495.3C222,495.7 223,496 224,496.3C225,496.5 226,496.6 227,496.7C228,496.8 229,496.9 230,497.1C231,497.3 232,497.5 233,497.9C234,498.4 235,498.9 236,500C237,501 238,502.4 239,504.3C240,506.1 241,508.5 242,511.3C243,514.1 244,517.4 245,521.1C246,524.9 247,529.2 248,533.7C249,538.2 250,543.3 251,548.1C252,552.8 253,557.8 254,562.3C255,566.9 256,571.1 257,575.3C258,579.4 259,583.4 260,587.4C261,591.4 262,595.4 263,599.3C264,603.2 265,607.2 266,611C267,614.8 268,618.6 269,622.1C270,625.7 271,629.1 272,632.4C273,635.6 274,638.7 275,641.6C276,644.4 277,646.9 278,649.3C279,651.7 280,654 281,656.1C282,658.2 283,660.3 284,661.9C285,663.6 286,664.8 287,666C288,667.1 289,667.9 290,668.8C291,669.7 292,670.6 293,671.4C294,672.3 295,673.2 296,674C297,674.9 298,675.8 299,676.7C300,677.6 301,678.5 302,679.4C303,680.3 304,681.3 305,682.2C306,683.2 307,684.2 308,685.2C309,686.2 310,687.2 311,688.1C312,689 313,689.9 314,690.7C315,691.5 316,692.3 317,693C318,693.8 319,694.5 320,695.2C321,695.8 322,696.4 323,696.9C324,697.3 325,697.6 326,698C327,698.4 328.4,699 328.9,699.2L328.9,699.5L86,699.5Z"/>
<clipPath id="fcIII"><use href="#acIII"/></clipPath>
<path id="ccIV" d="M86.2,698.6C86.7,698.6 88.2,698.5 89.2,698.4C90.2,698.3 91.2,698.3 92.2,698.2C93.2,698.2 94.2,698.1 95.2,698C96.2,698 97.2,697.9 98.2,697.9C99.2,697.8 100.2,697.8 101.2,697.7C102.2,697.7 103.2,697.7 104.2,697.6C105.2,697.6 106.2,697.6 107.2,697.5C108.2,697.5 109.2,697.5 110.2,697.4C111.2,697.4 112.2,697.4 113.2,697.3C114.2,697.3 115.2,697.3 116.2,697.2C117.2,697.2 118.2,697.1 119.2,697.1C120.2,697 121.2,696.9 122.2,696.7C123.2,696.6 124.2,696.4 125.2,696.2C126.2,696 127.2,695.8 128.2,695.7C129.2,695.5 130.2,695.3 131.2,695.1C132.2,694.9 133.2,694.8 134.2,694.6C135.2,694.3 136.2,694.1 137.2,693.8C138.2,693.6 139.2,693.2 140.2,692.9C141.2,692.5 142.2,692.1 143.2,691.7C144.2,691.4 145.2,691 146.2,690.6C147.2,690.2 148.2,689.8 149.2,689.4C150.2,689 151.2,688.5 152.2,688.1C153.2,687.6 154.2,687 155.2,686.5C156.2,685.9 157.2,685.3 158.2,684.7C159.2,684.2 160.2,683.6 161.2,683C162.2,682.4 163.2,681.8 164.2,681.1C165.2,680.5 166.2,679.8 167.2,679.1C168.2,678.4 169.2,677.6 170.2,676.9C171.2,676.1 172.2,675.4 173.2,674.6C174.2,673.9 175.2,673.1 176.2,672.3C177.2,671.5 178.2,670.6 179.2,669.7C180.2,668.8 181.2,667.8 182.2,666.8C183.2,665.8 184.2,664.8 185.2,663.7C186.2,662.6 187.2,661.6 188.2,660.3C189.2,659 190.2,657.5 191.2,656C192.2,654.5 193.2,652.9 194.2,651.1C195.2,649.4 196.2,647.5 197.2,645.4C198.2,643.2 199.2,640.8 200.2,638.2C201.2,635.6 202.2,632.8 203.2,629.8C204.2,626.8 205.2,623.7 206.2,620.4C207.2,617.2 208.2,613.8 209.2,610.3C210.2,606.9 211.2,603.3 212.2,599.7C213.2,596.1 214.2,592.4 215.2,588.6C216.2,584.9 217.2,581 218.2,577.1C219.2,573.1 220.2,569.1 221.2,565C222.2,560.8 223.2,556.5 224.2,552.2C225.2,548 226.2,543.6 227.2,539.5C228.2,535.5 229.2,531.6 230.2,527.8C231.2,524.1 232.2,520.6 233.2,517.2C234.2,513.8 235.2,510.5 236.2,507.4C237.2,504.4 238.2,501.6 239.2,499C240.2,496.4 241.2,494.1 242.2,491.9C243.2,489.7 244.2,487.8 245.2,486C246.2,484.3 247.2,482.7 248.2,481.4C249.2,480.1 250.2,479 251.2,478.1C252.2,477.2 253.2,476.6 254.2,476.2C255.2,475.7 256.2,475.4 257.2,475.4C258.2,475.4 259.2,475.7 260.2,476.1C261.2,476.5 262.2,477.2 263.2,478.1C264.2,479 265.2,480.3 266.2,481.8C267.2,483.2 268.2,485.1 269.2,487C270.2,488.9 271.2,491.1 272.2,493.3C273.2,495.4 274.2,497.8 275.2,500C276.2,502.2 277.2,504.5 278.2,506.6C279.2,508.7 280.2,510.8 281.2,512.8C282.2,514.8 283.2,516.7 284.2,518.6C285.2,520.4 286.2,522.2 287.2,523.8C288.2,525.5 289.2,527.1 290.2,528.5C291.2,529.9 292.2,531.1 293.2,532.2C294.2,533.3 295.2,534.2 296.2,535.1C297.2,535.9 298.2,536.8 299.2,537.5C300.2,538.3 301.2,538.9 302.2,539.5C303.2,540 304.2,540.4 305.2,540.9C306.2,541.4 307.2,541.8 308.2,542.3C309.2,542.8 310.2,543.3 311.2,544C312.2,544.7 313.2,545.4 314.2,546.2C315.2,547.1 316.2,548 317.2,549.1C318.2,550.1 319.2,551.3 320.2,552.7C321.2,554 322.2,555.5 323.2,557.2C324.2,558.8 325.2,560.7 326.2,562.7C327.2,564.7 328.2,567 329.2,569.3C330.2,571.6 331.2,574.1 332.2,576.6C333.2,579.1 334.2,581.7 335.2,584.3C336.2,586.9 337.2,589.6 338.2,592.1C339.2,594.7 340.2,597.2 341.2,599.7C342.2,602.1 343.2,604.5 344.2,606.8C345.2,609.1 346.2,611.4 347.2,613.6C348.2,615.8 349.2,617.9 350.2,620C351.2,622 352.2,624.1 353.2,626C354.2,628 355.2,629.9 356.2,631.7C357.2,633.4 358.2,635 359.2,636.5C360.2,638 361.2,639.4 362.2,640.7C363.2,642.1 364.2,643.5 365.2,644.7C366.2,645.9 367.2,647.1 368.2,648.2C369.2,649.3 370.2,650.3 371.2,651.3C372.2,652.3 373.2,653.3 374.2,654.3C375.2,655.2 376.2,656.1 377.2,656.9C378.2,657.7 379.2,658.5 380.2,659.2C381.2,660 382.2,660.7 383.2,661.5C384.2,662.3 385.2,663.1 386.2,663.9C387.2,664.8 388.2,665.6 389.2,666.5C390.2,667.4 391.2,668.3 392.2,669.2C393.2,670.1 394.2,671 395.2,672C396.2,672.9 397.2,673.9 398.2,674.9C399.2,675.8 400.2,676.8 401.2,677.8C402.2,678.8 403.2,679.7 404.2,680.6C405.2,681.6 406.2,682.5 407.2,683.3C408.2,684.2 409.2,685.1 410.2,685.9C411.2,686.8 412.2,687.6 413.2,688.3C414.2,689.1 415.2,689.7 416.2,690.4C417.2,691.1 418.2,691.7 419.2,692.3C420.2,692.8 421.2,693.4 422.2,693.8C423.2,694.2 424.2,694.5 425.2,694.8C426.2,695.1 427.2,695.3 428.2,695.5C429.2,695.7 430.2,695.9 431.2,696.1C432.2,696.3 433.2,696.4 434.2,696.6C435.2,696.7 436.2,696.7 437.2,696.8C438.2,696.9 439.2,696.9 440.2,697C441.2,697 442.2,697 443.2,697.1C444.2,697.1 445.2,697.2 446.2,697.2C447.2,697.3 448.2,697.3 449.2,697.4C450.2,697.5 451.2,697.6 452.2,697.7C453.2,697.8 454.2,698 455.2,698.1C456.2,698.2 457.2,698.4 458.2,698.5C459.2,698.7 460.5,698.9 461,699"/>
<path id="acIV" d="M86.2,698.6C86.7,698.6 88.2,698.5 89.2,698.4C90.2,698.3 91.2,698.3 92.2,698.2C93.2,698.2 94.2,698.1 95.2,698C96.2,698 97.2,697.9 98.2,697.9C99.2,697.8 100.2,697.8 101.2,697.7C102.2,697.7 103.2,697.7 104.2,697.6C105.2,697.6 106.2,697.6 107.2,697.5C108.2,697.5 109.2,697.5 110.2,697.4C111.2,697.4 112.2,697.4 113.2,697.3C114.2,697.3 115.2,697.3 116.2,697.2C117.2,697.2 118.2,697.1 119.2,697.1C120.2,697 121.2,696.9 122.2,696.7C123.2,696.6 124.2,696.4 125.2,696.2C126.2,696 127.2,695.8 128.2,695.7C129.2,695.5 130.2,695.3 131.2,695.1C132.2,694.9 133.2,694.8 134.2,694.6C135.2,694.3 136.2,694.1 137.2,693.8C138.2,693.6 139.2,693.2 140.2,692.9C141.2,692.5 142.2,692.1 143.2,691.7C144.2,691.4 145.2,691 146.2,690.6C147.2,690.2 148.2,689.8 149.2,689.4C150.2,689 151.2,688.5 152.2,688.1C153.2,687.6 154.2,687 155.2,686.5C156.2,685.9 157.2,685.3 158.2,684.7C159.2,684.2 160.2,683.6 161.2,683C162.2,682.4 163.2,681.8 164.2,681.1C165.2,680.5 166.2,679.8 167.2,679.1C168.2,678.4 169.2,677.6 170.2,676.9C171.2,676.1 172.2,675.4 173.2,674.6C174.2,673.9 175.2,673.1 176.2,672.3C177.2,671.5 178.2,670.6 179.2,669.7C180.2,668.8 181.2,667.8 182.2,666.8C183.2,665.8 184.2,664.8 185.2,663.7C186.2,662.6 187.2,661.6 188.2,660.3C189.2,659 190.2,657.5 191.2,656C192.2,654.5 193.2,652.9 194.2,651.1C195.2,649.4 196.2,647.5 197.2,645.4C198.2,643.2 199.2,640.8 200.2,638.2C201.2,635.6 202.2,632.8 203.2,629.8C204.2,626.8 205.2,623.7 206.2,620.4C207.2,617.2 208.2,613.8 209.2,610.3C210.2,606.9 211.2,603.3 212.2,599.7C213.2,596.1 214.2,592.4 215.2,588.6C216.2,584.9 217.2,581 218.2,577.1C219.2,573.1 220.2,569.1 221.2,565C222.2,560.8 223.2,556.5 224.2,552.2C225.2,548 226.2,543.6 227.2,539.5C228.2,535.5 229.2,531.6 230.2,527.8C231.2,524.1 232.2,520.6 233.2,517.2C234.2,513.8 235.2,510.5 236.2,507.4C237.2,504.4 238.2,501.6 239.2,499C240.2,496.4 241.2,494.1 242.2,491.9C243.2,489.7 244.2,487.8 245.2,486C246.2,484.3 247.2,482.7 248.2,481.4C249.2,480.1 250.2,479 251.2,478.1C252.2,477.2 253.2,476.6 254.2,476.2C255.2,475.7 256.2,475.4 257.2,475.4C258.2,475.4 259.2,475.7 260.2,476.1C261.2,476.5 262.2,477.2 263.2,478.1C264.2,479 265.2,480.3 266.2,481.8C267.2,483.2 268.2,485.1 269.2,487C270.2,488.9 271.2,491.1 272.2,493.3C273.2,495.4 274.2,497.8 275.2,500C276.2,502.2 277.2,504.5 278.2,506.6C279.2,508.7 280.2,510.8 281.2,512.8C282.2,514.8 283.2,516.7 284.2,518.6C285.2,520.4 286.2,522.2 287.2,523.8C288.2,525.5 289.2,527.1 290.2,528.5C291.2,529.9 292.2,531.1 293.2,532.2C294.2,533.3 295.2,534.2 296.2,535.1C297.2,535.9 298.2,536.8 299.2,537.5C300.2,538.3 301.2,538.9 302.2,539.5C303.2,540 304.2,540.4 305.2,540.9C306.2,541.4 307.2,541.8 308.2,542.3C309.2,542.8 310.2,543.3 311.2,544C312.2,544.7 313.2,545.4 314.2,546.2C315.2,547.1 316.2,548 317.2,549.1C318.2,550.1 319.2,551.3 320.2,552.7C321.2,554 322.2,555.5 323.2,557.2C324.2,558.8 325.2,560.7 326.2,562.7C327.2,564.7 328.2,567 329.2,569.3C330.2,571.6 331.2,574.1 332.2,576.6C333.2,579.1 334.2,581.7 335.2,584.3C336.2,586.9 337.2,589.6 338.2,592.1C339.2,594.7 340.2,597.2 341.2,599.7C342.2,602.1 343.2,604.5 344.2,606.8C345.2,609.1 346.2,611.4 347.2,613.6C348.2,615.8 349.2,617.9 350.2,620C351.2,622 352.2,624.1 353.2,626C354.2,628 355.2,629.9 356.2,631.7C357.2,633.4 358.2,635 359.2,636.5C360.2,638 361.2,639.4 362.2,640.7C363.2,642.1 364.2,643.5 365.2,644.7C366.2,645.9 367.2,647.1 368.2,648.2C369.2,649.3 370.2,650.3 371.2,651.3C372.2,652.3 373.2,653.3 374.2,654.3C375.2,655.2 376.2,656.1 377.2,656.9C378.2,657.7 379.2,658.5 380.2,659.2C381.2,660 382.2,660.7 383.2,661.5C384.2,662.3 385.2,663.1 386.2,663.9C387.2,664.8 388.2,665.6 389.2,666.5C390.2,667.4 391.2,668.3 392.2,669.2C393.2,670.1 394.2,671 395.2,672C396.2,672.9 397.2,673.9 398.2,674.9C399.2,675.8 400.2,676.8 401.2,677.8C402.2,678.8 403.2,679.7 404.2,680.6C405.2,681.6 406.2,682.5 407.2,683.3C408.2,684.2 409.2,685.1 410.2,685.9C411.2,686.8 412.2,687.6 413.2,688.3C414.2,689.1 415.2,689.7 416.2,690.4C417.2,691.1 418.2,691.7 419.2,692.3C420.2,692.8 421.2,693.4 422.2,693.8C423.2,694.2 424.2,694.5 425.2,694.8C426.2,695.1 427.2,695.3 428.2,695.5C429.2,695.7 430.2,695.9 431.2,696.1C432.2,696.3 433.2,696.4 434.2,696.6C435.2,696.7 436.2,696.7 437.2,696.8C438.2,696.9 439.2,696.9 440.2,697C441.2,697 442.2,697 443.2,697.1C444.2,697.1 445.2,697.2 446.2,697.2C447.2,697.3 448.2,697.3 449.2,697.4C450.2,697.5 451.2,697.6 452.2,697.7C453.2,697.8 454.2,698 455.2,698.1C456.2,698.2 457.2,698.4 458.2,698.5C459.2,698.7 460.5,698.9 461,699L461,699.5L86.2,699.5Z"/>
<clipPath id="fcIV"><use href="#acIV"/></clipPath>
<path id="ccV" d="M67.5,698.2C68,698.1 69.5,697.8 70.5,697.7C71.5,697.6 72.5,697.4 73.5,697.3C74.5,697.2 75.5,697 76.5,696.9C77.5,696.8 78.5,696.7 79.5,696.7C80.5,696.6 81.5,696.6 82.5,696.5C83.5,696.5 84.5,696.4 85.5,696.4C86.5,696.4 87.5,696.4 88.5,696.4C89.5,696.5 90.5,696.5 91.5,696.6C92.5,696.7 93.5,696.8 94.5,696.9C95.5,697 96.5,697.1 97.5,697.2C98.5,697.2 99.5,697.3 100.5,697.4C101.5,697.5 102.5,697.6 103.5,697.7C104.5,697.8 105.5,697.9 106.5,698C107.5,698 108.5,698.1 109.5,698.2C110.5,698.3 111.5,698.4 112.5,698.5C113.5,698.6 114.5,698.6 115.5,698.7C116.5,698.7 117.5,698.7 118.5,698.7C119.5,698.7 120.5,698.6 121.5,698.6C122.5,698.5 123.5,698.5 124.5,698.5C125.5,698.4 126.5,698.4 127.5,698.3C128.5,698.3 129.5,698.2 130.5,698.1C131.5,698 132.5,697.9 133.5,697.7C134.5,697.6 135.5,697.4 136.5,697.2C137.5,697.1 138.5,696.9 139.5,696.7C140.5,696.5 141.5,696.3 142.5,696.2C143.5,696 144.5,695.8 145.5,695.6C146.5,695.4 147.5,695.2 148.5,695C149.5,694.8 150.5,694.5 151.5,694.3C152.5,694 153.5,693.7 154.5,693.5C155.5,693.2 156.5,693 157.5,692.6C158.5,692.3 159.5,692 160.5,691.7C161.5,691.3 162.5,690.8 163.5,690.3C164.5,689.8 165.5,689.3 166.5,688.8C167.5,688.2 168.5,687.7 169.5,687.2C170.5,686.6 171.5,686 172.5,685.4C173.5,684.7 174.5,684 175.5,683.1C176.5,682.3 177.5,681.4 178.5,680.5C179.5,679.6 180.5,678.7 181.5,677.8C182.5,676.8 183.5,675.9 184.5,674.9C185.5,673.9 186.5,672.9 187.5,671.7C188.5,670.6 189.5,669.4 190.5,668.2C191.5,666.9 192.5,665.7 193.5,664.4C194.5,663.2 195.5,661.9 196.5,660.6C197.5,659.2 198.5,657.8 199.5,656.2C200.5,654.7 201.5,652.9 202.5,651.2C203.5,649.4 204.5,647.6 205.5,645.7C206.5,643.9 207.5,642.1 208.5,640.2C209.5,638.3 210.5,636.4 211.5,634.3C212.5,632.2 213.5,630 214.5,627.7C215.5,625.4 216.5,623 217.5,620.6C218.5,618.3 219.5,615.9 220.5,613.5C221.5,611.1 222.5,608.7 223.5,606.3C224.5,603.9 225.5,601.5 226.5,599.2C227.5,596.9 228.5,594.5 229.5,592.5C230.5,590.4 231.5,588.5 232.5,586.9C233.5,585.3 234.5,584 235.5,582.7C236.5,581.3 237.5,580.1 238.5,579C239.5,577.9 240.5,576.8 241.5,575.9C242.5,574.9 243.5,574 244.5,573.1C245.5,572.2 246.5,571.4 247.5,570.5C248.5,569.7 249.5,568.8 250.5,568C251.5,567.1 252.5,566.2 253.5,565.3C254.5,564.3 255.5,563.3 256.5,562.2C257.5,561.1 258.5,560 259.5,558.8C260.5,557.6 261.5,556.4 262.5,555.1C263.5,553.8 264.5,552.6 265.5,551C266.5,549.4 267.5,547.7 268.5,545.8C269.5,543.9 270.5,541.7 271.5,539.4C272.5,537.1 273.5,534.6 274.5,532.1C275.5,529.6 276.5,527 277.5,524.4C278.5,521.7 279.5,519.1 280.5,516.4C281.5,513.6 282.5,510.8 283.5,507.9C284.5,505 285.5,502 286.5,499C287.5,495.9 288.5,492.8 289.5,489.6C290.5,486.4 291.5,483.1 292.5,479.9C293.5,476.6 294.5,473.3 295.5,470.3C296.5,467.2 297.5,464.3 298.5,461.6C299.5,458.8 300.5,456.2 301.5,453.8C302.5,451.5 303.5,449.3 304.5,447.4C305.5,445.6 306.5,444 307.5,442.6C308.5,441.3 309.5,440.2 310.5,439.4C311.5,438.7 312.5,438.3 313.5,438.1C314.5,438 315.5,438.2 316.5,438.7C317.5,439.2 318.5,440 319.5,441.1C320.5,442.2 321.5,443.7 322.5,445.5C323.5,447.3 324.5,449.4 325.5,451.8C326.5,454.2 327.5,457 328.5,460.1C329.5,463.2 330.5,466.6 331.5,470.4C332.5,474.3 333.5,478.6 334.5,483C335.5,487.4 336.5,492.3 337.5,497.1C338.5,501.9 339.5,506.9 340.5,511.9C341.5,516.8 342.5,521.9 343.5,526.6C344.5,531.3 345.5,535.9 346.5,540.3C347.5,544.7 348.5,548.6 349.5,552.9C350.5,557.1 351.5,561.2 352.5,565.7C353.5,570.2 354.5,575 355.5,579.6C356.5,584.3 357.5,589.1 358.5,593.6C359.5,598.1 360.5,602.4 361.5,606.5C362.5,610.6 363.5,614.3 364.5,618C365.5,621.7 366.5,625.1 367.5,628.5C368.5,631.9 369.5,635.3 370.5,638.4C371.5,641.5 372.5,644.5 373.5,647.3C374.5,650 375.5,652.6 376.5,654.9C377.5,657.3 378.5,659.6 379.5,661.6C380.5,663.6 381.5,665.4 382.5,667.1C383.5,668.7 384.5,670.2 385.5,671.7C386.5,673.2 387.5,674.6 388.5,676C389.5,677.3 390.5,678.5 391.5,679.6C392.5,680.8 393.5,681.8 394.5,682.8C395.5,683.8 396.5,684.7 397.5,685.6C398.5,686.4 399.5,687.2 400.5,687.8C401.5,688.5 402.5,689 403.5,689.6C404.5,690.1 405.5,690.6 406.5,691.1C407.5,691.6 408.5,692 409.5,692.4C410.5,692.9 411.5,693.2 412.5,693.5C413.5,693.8 414.5,694 415.5,694.2C416.5,694.4 417.5,694.7 418.5,694.9C419.5,695.1 420.5,695.3 421.5,695.5C422.5,695.7 423.5,695.9 424.5,696.1C425.5,696.3 426.5,696.5 427.5,696.7C428.5,696.8 429.5,697 430.5,697.1C431.5,697.2 432.5,697.3 433.5,697.4C434.5,697.6 435.5,697.7 436.5,697.8C437.5,697.9 438.5,698 439.5,698.1C440.5,698.2 441.5,698.4 442.5,698.4C443.5,698.5 444.5,698.6 445.5,698.7C446.5,698.8 447.5,698.8 448.5,698.9C449.5,698.9 450.5,699 451.5,699C452.5,699 453.9,699.1 454.5,699.1C455.1,699.1 454.9,699.2 455,699.2"/>
<path id="acV" d="M67.5,698.2C68,698.1 69.5,697.8 70.5,697.7C71.5,697.6 72.5,697.4 73.5,697.3C74.5,697.2 75.5,697 76.5,696.9C77.5,696.8 78.5,696.7 79.5,696.7C80.5,696.6 81.5,696.6 82.5,696.5C83.5,696.5 84.5,696.4 85.5,696.4C86.5,696.4 87.5,696.4 88.5,696.4C89.5,696.5 90.5,696.5 91.5,696.6C92.5,696.7 93.5,696.8 94.5,696.9C95.5,697 96.5,697.1 97.5,697.2C98.5,697.2 99.5,697.3 100.5,697.4C101.5,697.5 102.5,697.6 103.5,697.7C104.5,697.8 105.5,697.9 106.5,698C107.5,698 108.5,698.1 109.5,698.2C110.5,698.3 111.5,698.4 112.5,698.5C113.5,698.6 114.5,698.6 115.5,698.7C116.5,698.7 117.5,698.7 118.5,698.7C119.5,698.7 120.5,698.6 121.5,698.6C122.5,698.5 123.5,698.5 124.5,698.5C125.5,698.4 126.5,698.4 127.5,698.3C128.5,698.3 129.5,698.2 130.5,698.1C131.5,698 132.5,697.9 133.5,697.7C134.5,697.6 135.5,697.4 136.5,697.2C137.5,697.1 138.5,696.9 139.5,696.7C140.5,696.5 141.5,696.3 142.5,696.2C143.5,696 144.5,695.8 145.5,695.6C146.5,695.4 147.5,695.2 148.5,695C149.5,694.8 150.5,694.5 151.5,694.3C152.5,694 153.5,693.7 154.5,693.5C155.5,693.2 156.5,693 157.5,692.6C158.5,692.3 159.5,692 160.5,691.7C161.5,691.3 162.5,690.8 163.5,690.3C164.5,689.8 165.5,689.3 166.5,688.8C167.5,688.2 168.5,687.7 169.5,687.2C170.5,686.6 171.5,686 172.5,685.4C173.5,684.7 174.5,684 175.5,683.1C176.5,682.3 177.5,681.4 178.5,680.5C179.5,679.6 180.5,678.7 181.5,677.8C182.5,676.8 183.5,675.9 184.5,674.9C185.5,673.9 186.5,672.9 187.5,671.7C188.5,670.6 189.5,669.4 190.5,668.2C191.5,666.9 192.5,665.7 193.5,664.4C194.5,663.2 195.5,661.9 196.5,660.6C197.5,659.2 198.5,657.8 199.5,656.2C200.5,654.7 201.5,652.9 202.5,651.2C203.5,649.4 204.5,647.6 205.5,645.7C206.5,643.9 207.5,642.1 208.5,640.2C209.5,638.3 210.5,636.4 211.5,634.3C212.5,632.2 213.5,630 214.5,627.7C215.5,625.4 216.5,623 217.5,620.6C218.5,618.3 219.5,615.9 220.5,613.5C221.5,611.1 222.5,608.7 223.5,606.3C224.5,603.9 225.5,601.5 226.5,599.2C227.5,596.9 228.5,594.5 229.5,592.5C230.5,590.4 231.5,588.5 232.5,586.9C233.5,585.3 234.5,584 235.5,582.7C236.5,581.3 237.5,580.1 238.5,579C239.5,577.9 240.5,576.8 241.5,575.9C242.5,574.9 243.5,574 244.5,573.1C245.5,572.2 246.5,571.4 247.5,570.5C248.5,569.7 249.5,568.8 250.5,568C251.5,567.1 252.5,566.2 253.5,565.3C254.5,564.3 255.5,563.3 256.5,562.2C257.5,561.1 258.5,560 259.5,558.8C260.5,557.6 261.5,556.4 262.5,555.1C263.5,553.8 264.5,552.6 265.5,551C266.5,549.4 267.5,547.7 268.5,545.8C269.5,543.9 270.5,541.7 271.5,539.4C272.5,537.1 273.5,534.6 274.5,532.1C275.5,529.6 276.5,527 277.5,524.4C278.5,521.7 279.5,519.1 280.5,516.4C281.5,513.6 282.5,510.8 283.5,507.9C284.5,505 285.5,502 286.5,499C287.5,495.9 288.5,492.8 289.5,489.6C290.5,486.4 291.5,483.1 292.5,479.9C293.5,476.6 294.5,473.3 295.5,470.3C296.5,467.2 297.5,464.3 298.5,461.6C299.5,458.8 300.5,456.2 301.5,453.8C302.5,451.5 303.5,449.3 304.5,447.4C305.5,445.6 306.5,444 307.5,442.6C308.5,441.3 309.5,440.2 310.5,439.4C311.5,438.7 312.5,438.3 313.5,438.1C314.5,438 315.5,438.2 316.5,438.7C317.5,439.2 318.5,440 319.5,441.1C320.5,442.2 321.5,443.7 322.5,445.5C323.5,447.3 324.5,449.4 325.5,451.8C326.5,454.2 327.5,457 328.5,460.1C329.5,463.2 330.5,466.6 331.5,470.4C332.5,474.3 333.5,478.6 334.5,483C335.5,487.4 336.5,492.3 337.5,497.1C338.5,501.9 339.5,506.9 340.5,511.9C341.5,516.8 342.5,521.9 343.5,526.6C344.5,531.3 345.5,535.9 346.5,540.3C347.5,544.7 348.5,548.6 349.5,552.9C350.5,557.1 351.5,561.2 352.5,565.7C353.5,570.2 354.5,575 355.5,579.6C356.5,584.3 357.5,589.1 358.5,593.6C359.5,598.1 360.5,602.4 361.5,606.5C362.5,610.6 363.5,614.3 364.5,618C365.5,621.7 366.5,625.1 367.5,628.5C368.5,631.9 369.5,635.3 370.5,638.4C371.5,641.5 372.5,644.5 373.5,647.3C374.5,650 375.5,652.6 376.5,654.9C377.5,657.3 378.5,659.6 379.5,661.6C380.5,663.6 381.5,665.4 382.5,667.1C383.5,668.7 384.5,670.2 385.5,671.7C386.5,673.2 387.5,674.6 388.5,676C389.5,677.3 390.5,678.5 391.5,679.6C392.5,680.8 393.5,681.8 394.5,682.8C395.5,683.8 396.5,684.7 397.5,685.6C398.5,686.4 399.5,687.2 400.5,687.8C401.5,688.5 402.5,689 403.5,689.6C404.5,690.1 405.5,690.6 406.5,691.1C407.5,691.6 408.5,692 409.5,692.4C410.5,692.9 411.5,693.2 412.5,693.5C413.5,693.8 414.5,694 415.5,694.2C416.5,694.4 417.5,694.7 418.5,694.9C419.5,695.1 420.5,695.3 421.5,695.5C422.5,695.7 423.5,695.9 424.5,696.1C425.5,696.3 426.5,696.5 427.5,696.7C428.5,696.8 429.5,697 430.5,697.1C431.5,697.2 432.5,697.3 433.5,697.4C434.5,697.6 435.5,697.7 436.5,697.8C437.5,697.9 438.5,698 439.5,698.1C440.5,698.2 441.5,698.4 442.5,698.4C443.5,698.5 444.5,698.6 445.5,698.7C446.5,698.8 447.5,698.8 448.5,698.9C449.5,698.9 450.5,699 451.5,699C452.5,699 453.9,699.1 454.5,699.1C455.1,699.1 454.9,699.2 455,699.2L455,699.5L67.5,699.5Z"/>
<clipPath id="fcV"><use href="#acV"/></clipPath>
<clipPath id="fcU"><use href="#acIV"/><use href="#acV"/></clipPath>
</defs>
<path d="M90.5,406V699.5M137.5,406V699.5M183.5,406V699.5M230.5,406V699.5M276.5,406V699.5M323.5,406V699.5M369.5,406V699.5M416.5,406V699.5M67.5,640.5H462.7M67.5,582.5H462.7M67.5,523.5H462.7M67.5,464.5H462.7" stroke="#d4d4d4" stroke-width="1" fill="none"/>
<g clip-path="url(#clipc)">
<use href="#acV" fill="rgb(252,240,250)"/>
<use href="#acIV" fill="rgb(252,241,236)"/>
<use href="#acIII" fill="rgb(237,249,249)"/>
<use href="#acIV" fill="rgb(251,240,239)" clip-path="url(#fcV)"/>
<use href="#acIII" fill="rgb(252,242,235)" clip-path="url(#fcIV)"/>
<use href="#acIII" fill="rgb(236,249,249)" clip-path="url(#fcV)"/>
<g clip-path="url(#fcV)"><use href="#acIII" fill="rgb(244,240,239)" clip-path="url(#fcIV)"/></g>
<path d="M90.5,406V699.5M137.5,406V699.5M183.5,406V699.5M230.5,406V699.5M276.5,406V699.5M323.5,406V699.5M369.5,406V699.5M416.5,406V699.5M67.5,640.5H462.7M67.5,582.5H462.7M67.5,523.5H462.7M67.5,464.5H462.7" stroke="#d4d4d4" stroke-width="1" fill="none" stroke-opacity="0.55"/>
<use href="#ccIII" fill="none" stroke="#0ca87e" stroke-width="1.7" stroke-linejoin="round"/>
<use href="#ccIII" fill="none" stroke="#4cc4a2" stroke-width="1.7" stroke-linejoin="round" clip-path="url(#fcU)"/>
<use href="#ccIV" fill="none" stroke="#ff6010" stroke-width="1.7" stroke-linejoin="round"/>
<use href="#ccIV" fill="none" stroke="#ff864c" stroke-width="1.7" stroke-linejoin="round" clip-path="url(#fcV)"/>
<use href="#ccV" fill="none" stroke="#7b6cc8" stroke-width="1.7" stroke-linejoin="round"/>
</g>
<path d="M107.5,702.7V730.7M113.2,702.7V730.7M115.9,702.7V730.7M118.6,702.7V730.7M122.1,702.7V730.7M125.8,702.7V730.7M129.6,702.7V730.7M131.5,702.7V730.7M133.2,702.7V730.7M135,702.7V730.7" stroke="#00a878" stroke-width="1.4" stroke-opacity="0.6" fill="none"/>
<path d="M209.35,702.7V730.7M217.48,702.7V730.7M242.65,702.7V730.7M173.53,702.7V730.7M220.1,702.7V730.7M255.2,702.7V730.7M259.19,702.7V730.7M162.1,702.7V730.7M220.08,702.7V730.7M215.48,702.7V730.7M200.83,702.7V730.7M279.39,702.7V730.7M203.96,702.7V730.7M193.69,702.7V730.7M269.13,702.7V730.7M217.93,702.7V730.7M176.44,702.7V730.7M177.4,702.7V730.7M199.93,702.7V730.7M139.11,702.7V730.7M214.22,702.7V730.7M231.42,702.7V730.7M191.38,702.7V730.7M247.16,702.7V730.7M264.17,702.7V730.7M207.45,702.7V730.7M224.06,702.7V730.7M152.3,702.7V730.7M140.06,702.7V730.7M289.57,702.7V730.7M174.4,702.7V730.7M165.58,702.7V730.7M256.44,702.7V730.7M233.31,702.7V730.7M153.22,702.7V730.7M178.9,702.7V730.7M169.27,702.7V730.7M172.97,702.7V730.7M203.51,702.7V730.7M176.81,702.7V730.7M187.55,702.7V730.7M161.96,702.7V730.7M151.15,702.7V730.7M251.65,702.7V730.7M232.98,702.7V730.7M207.97,702.7V730.7M153.33,702.7V730.7M157.01,702.7V730.7M152.68,702.7V730.7M178.28,702.7V730.7M140.48,702.7V730.7M173.3,702.7V730.7M164.24,702.7V730.7M162.93,702.7V730.7M220.35,702.7V730.7M195.21,702.7V730.7M197.13,702.7V730.7M183.24,702.7V730.7M205.33,702.7V730.7M238.13,702.7V730.7M177.25,702.7V730.7M143.55,702.7V730.7M198.08,702.7V730.7M185.76,702.7V730.7M237.49,702.7V730.7M151.3,702.7V730.7M251.64,702.7V730.7M205.74,702.7V730.7M193.49,702.7V730.7M178.13,702.7V730.7M254.8,702.7V730.7M226.86,702.7V730.7M158.99,702.7V730.7M199.78,702.7V730.7M214.84,702.7V730.7M147.13,702.7V730.7M213.45,702.7V730.7M230.56,702.7V730.7M195.81,702.7V730.7M190.89,702.7V730.7M201.28,702.7V730.7M171.49,702.7V730.7M252.35,702.7V730.7M276.94,702.7V730.7M198.17,702.7V730.7M187.9,702.7V730.7M240.64,702.7V730.7M179.29,702.7V730.7M150.39,702.7V730.7M161.94,702.7V730.7M228.15,702.7V730.7M216.13,702.7V730.7M174.61,702.7V730.7M216.33,702.7V730.7M234.78,702.7V730.7M279.34,702.7V730.7M244.78,702.7V730.7M192.32,702.7V730.7M241.57,702.7V730.7M263.44,702.7V730.7M250.95,702.7V730.7M233.4,702.7V730.7M211.47,702.7V730.7M201.84,702.7V730.7M247.75,702.7V730.7M216.53,702.7V730.7M229.44,702.7V730.7M167.42,702.7V730.7M148.02,702.7V730.7M172.68,702.7V730.7M211.04,702.7V730.7M209.69,702.7V730.7M163.69,702.7V730.7M162.38,702.7V730.7M271.6,702.7V730.7M143.83,702.7V730.7M263.72,702.7V730.7M236.33,702.7V730.7M209.78,702.7V730.7M223.85,702.7V730.7M267.59,702.7V730.7M189.85,702.7V730.7M261.1,702.7V730.7M242.18,702.7V730.7M155.46,702.7V730.7M237.51,702.7V730.7M239.01,702.7V730.7M167.44,702.7V730.7M151.58,702.7V730.7M184.25,702.7V730.7M240.12,702.7V730.7M232.08,702.7V730.7M250.62,702.7V730.7M280.5,702.7V730.7M233.97,702.7V730.7M245.44,702.7V730.7M249.81,702.7V730.7M215.69,702.7V730.7M179.51,702.7V730.7M153.99,702.7V730.7M180.19,702.7V730.7M180.99,702.7V730.7M199.88,702.7V730.7M194.24,702.7V730.7M164.15,702.7V730.7M146.06,702.7V730.7M164.26,702.7V730.7M153.99,702.7V730.7M149.48,702.7V730.7M189.99,702.7V730.7M154.28,702.7V730.7M240.21,702.7V730.7M206.06,702.7V730.7M195.49,702.7V730.7M218.4,702.7V730.7M168.3,702.7V730.7M145.36,702.7V730.7M180.75,702.7V730.7M183.62,702.7V730.7M170.5,702.7V730.7M177.06,702.7V730.7M245.15,702.7V730.7M194.15,702.7V730.7M186.21,702.7V730.7M174.11,702.7V730.7M229.93,702.7V730.7M166.99,702.7V730.7M158.48,702.7V730.7M288.12,702.7V730.7M181.78,702.7V730.7M152.27,702.7V730.7M282.33,702.7V730.7M219.18,702.7V730.7M274.33,702.7V730.7M180.06,702.7V730.7M241.63,702.7V730.7M168.63,702.7V730.7M239.46,702.7V730.7M202.41,702.7V730.7M238.72,702.7V730.7M186.56,702.7V730.7M252.32,702.7V730.7M145.14,702.7V730.7M216.32,702.7V730.7M162.38,702.7V730.7M163.79,702.7V730.7M253.63,702.7V730.7M191.85,702.7V730.7M242,702.7V730.7M174.34,702.7V730.7M230.66,702.7V730.7M258.87,702.7V730.7M216.77,702.7V730.7M168.26,702.7V730.7M222.3,702.7V730.7M271.91,702.7V730.7M240.38,702.7V730.7M193.53,702.7V730.7M188.18,702.7V730.7M149.19,702.7V730.7M235.85,702.7V730.7M158.31,702.7V730.7M166.23,702.7V730.7M159.09,702.7V730.7M186.3,702.7V730.7M197.52,702.7V730.7M160.61,702.7V730.7M191.18,702.7V730.7M234.43,702.7V730.7M148.89,702.7V730.7M155.06,702.7V730.7M203.22,702.7V730.7M258.05,702.7V730.7M261.38,702.7V730.7M209.2,702.7V730.7M147.92,702.7V730.7M251.83,702.7V730.7M257.02,702.7V730.7M204.3,702.7V730.7M186.17,702.7V730.7M211.51,702.7V730.7M238.87,702.7V730.7M199.61,702.7V730.7M201.24,702.7V730.7M177.56,702.7V730.7M205.47,702.7V730.7M205.92,702.7V730.7M174.24,702.7V730.7M195.27,702.7V730.7M260.83,702.7V730.7M168.43,702.7V730.7M170.65,702.7V730.7M176.84,702.7V730.7M249.12,702.7V730.7M176.68,702.7V730.7M244.13,702.7V730.7M264.42,702.7V730.7M252.2,702.7V730.7M240.82,702.7V730.7M163.18,702.7V730.7M194.31,702.7V730.7M243.56,702.7V730.7M169.66,702.7V730.7M213.45,702.7V730.7M251.32,702.7V730.7M265.82,702.7V730.7M182.36,702.7V730.7M152.62,702.7V730.7M178.29,702.7V730.7M206.37,702.7V730.7M173.91,702.7V730.7M243.66,702.7V730.7M219.86,702.7V730.7M216.01,702.7V730.7M244.11,702.7V730.7M179.7,702.7V730.7M219.84,702.7V730.7M182.38,702.7V730.7M174.98,702.7V730.7M151.89,702.7V730.7M238.61,702.7V730.7M257.25,702.7V730.7M228.81,702.7V730.7M141.72,702.7V730.7M190.36,702.7V730.7M178.28,702.7V730.7M257.8,702.7V730.7M192.21,702.7V730.7M201.76,702.7V730.7M182.99,702.7V730.7M170.76,702.7V730.7M169.35,702.7V730.7M141.68,702.7V730.7M206.75,702.7V730.7M231.76,702.7V730.7M222.6,702.7V730.7M171.32,702.7V730.7M297.85,702.7V730.7M145.4,702.7V730.7M192.05,702.7V730.7M180.34,702.7V730.7M161.16,702.7V730.7M276.58,702.7V730.7M228.62,702.7V730.7M154.47,702.7V730.7M160.85,702.7V730.7M241.62,702.7V730.7M184.96,702.7V730.7M176.47,702.7V730.7M175.88,702.7V730.7M179.34,702.7V730.7M211.76,702.7V730.7M177.69,702.7V730.7M212.16,702.7V730.7M141.95,702.7V730.7M204.85,702.7V730.7M211.09,702.7V730.7M178.67,702.7V730.7M250.7,702.7V730.7M264.23,702.7V730.7M220.8,702.7V730.7M189.64,702.7V730.7M159.36,702.7V730.7M216.6,702.7V730.7M174.96,702.7V730.7M159.23,702.7V730.7M204.48,702.7V730.7M163.89,702.7V730.7M218.42,702.7V730.7M234.65,702.7V730.7M217.53,702.7V730.7M162.76,702.7V730.7M180.73,702.7V730.7M229.71,702.7V730.7M278.88,702.7V730.7M177.97,702.7V730.7M233.95,702.7V730.7M181.9,702.7V730.7M268.1,702.7V730.7M160.41,702.7V730.7M221.85,702.7V730.7M146.22,702.7V730.7M208,702.7V730.7M232.4,702.7V730.7M260.26,702.7V730.7M235.42,702.7V730.7M206.68,702.7V730.7M188.25,702.7V730.7M217.18,702.7V730.7M219.63,702.7V730.7M214.69,702.7V730.7M228.47,702.7V730.7M232.7,702.7V730.7M266.92,702.7V730.7M215.94,702.7V730.7M252.28,702.7V730.7M232.02,702.7V730.7M185.87,702.7V730.7M240.56,702.7V730.7M184.1,702.7V730.7M244.38,702.7V730.7M252.84,702.7V730.7M256.47,702.7V730.7M259.52,702.7V730.7M225.55,702.7V730.7M200.19,702.7V730.7M174.9,702.7V730.7M218.4,702.7V730.7M255.57,702.7V730.7M183.3,702.7V730.7M165.21,702.7V730.7M234.3,702.7V730.7M259.34,702.7V730.7M164.64,702.7V730.7M155.59,702.7V730.7M151.5,702.7V730.7M206.97,702.7V730.7M244.89,702.7V730.7M169.89,702.7V730.7M238.96,702.7V730.7M137.26,702.7V730.7M165.05,702.7V730.7M206.32,702.7V730.7M234.42,702.7V730.7M199.63,702.7V730.7M224.92,702.7V730.7M183.42,702.7V730.7M185.56,702.7V730.7M203.02,702.7V730.7M163.93,702.7V730.7M182.4,702.7V730.7M220.71,702.7V730.7M163.44,702.7V730.7M169.38,702.7V730.7M219.96,702.7V730.7M189.55,702.7V730.7M237.84,702.7V730.7M228.59,702.7V730.7M242.63,702.7V730.7M207.85,702.7V730.7M215.13,702.7V730.7M148.89,702.7V730.7M191.68,702.7V730.7M187.32,702.7V730.7M170.92,702.7V730.7M184.06,702.7V730.7M254.21,702.7V730.7M166.76,702.7V730.7M151.74,702.7V730.7M180.46,702.7V730.7M159.81,702.7V730.7M260.17,702.7V730.7M206.44,702.7V730.7M204.34,702.7V730.7M160.47,702.7V730.7M198.34,702.7V730.7M269.65,702.7V730.7M288.02,702.7V730.7M187.96,702.7V730.7M237.78,702.7V730.7M199.52,702.7V730.7M145.7,702.7V730.7M188.3,702.7V730.7M241.67,702.7V730.7M237.12,702.7V730.7M229.69,702.7V730.7M297.28,702.7V730.7M185.9,702.7V730.7M226.92,702.7V730.7M242.84,702.7V730.7M263.15,702.7V730.7M251.23,702.7V730.7M251.67,702.7V730.7M181.12,702.7V730.7" stroke="#00a878" stroke-width="1.4" stroke-opacity="0.85" fill="none"/>
<path d="M100.6,702.7V730.7M101.6,702.7V730.7M102.8,702.7V730.7M103.7,702.7V730.7M408.5,702.7V730.7M411.6,702.7V730.7M416.8,702.7V730.7M441.8,702.7V730.7M445.5,702.7V730.7" stroke="#ff5a00" stroke-width="1.4" stroke-opacity="0.6" fill="none"/>
<path d="M257.29,702.7V730.7M291.18,702.7V730.7M218.93,702.7V730.7M248.42,702.7V730.7M256.41,702.7V730.7M234.36,702.7V730.7M231.16,702.7V730.7M296.93,702.7V730.7M248.63,702.7V730.7M199.15,702.7V730.7M323.4,702.7V730.7M369.23,702.7V730.7M237.03,702.7V730.7M302.58,702.7V730.7M209.23,702.7V730.7M236.57,702.7V730.7M227.67,702.7V730.7M295.05,702.7V730.7M281.63,702.7V730.7M328.25,702.7V730.7M298.14,702.7V730.7M315.25,702.7V730.7M341.07,702.7V730.7M285.44,702.7V730.7M237.26,702.7V730.7M227.37,702.7V730.7M336.26,702.7V730.7M327.97,702.7V730.7M295.74,702.7V730.7M372.66,702.7V730.7M325.61,702.7V730.7M260.43,702.7V730.7M231.27,702.7V730.7M263.44,702.7V730.7M355.43,702.7V730.7M345.31,702.7V730.7M144.22,702.7V730.7M147.57,702.7V730.7M266,702.7V730.7M352.51,702.7V730.7M342.22,702.7V730.7M331.47,702.7V730.7M204.26,702.7V730.7M234.39,702.7V730.7M318.74,702.7V730.7M265.2,702.7V730.7M249.86,702.7V730.7M378.23,702.7V730.7M167.97,702.7V730.7M271.25,702.7V730.7M343.29,702.7V730.7M305.38,702.7V730.7M345.13,702.7V730.7M243.73,702.7V730.7M281.9,702.7V730.7M392.42,702.7V730.7M221.64,702.7V730.7M263.88,702.7V730.7M227,702.7V730.7M318.68,702.7V730.7M314.08,702.7V730.7M241.79,702.7V730.7M320.01,702.7V730.7M221.54,702.7V730.7M343.4,702.7V730.7M270.3,702.7V730.7M180.5,702.7V730.7M320.72,702.7V730.7M285.67,702.7V730.7M313.21,702.7V730.7M208.06,702.7V730.7M270.33,702.7V730.7M325.4,702.7V730.7M310.34,702.7V730.7M229.18,702.7V730.7M251.19,702.7V730.7M266.98,702.7V730.7M267.63,702.7V730.7M404.89,702.7V730.7M362.63,702.7V730.7M291.07,702.7V730.7M222.67,702.7V730.7M338.32,702.7V730.7M277.03,702.7V730.7M348.16,702.7V730.7M352.18,702.7V730.7M363.07,702.7V730.7M228.43,702.7V730.7M202.3,702.7V730.7M318.57,702.7V730.7M268.43,702.7V730.7M319.39,702.7V730.7M265.44,702.7V730.7M261.94,702.7V730.7M311.37,702.7V730.7M256.1,702.7V730.7M272.6,702.7V730.7M259.79,702.7V730.7M300.82,702.7V730.7M205.06,702.7V730.7M268.05,702.7V730.7M284.95,702.7V730.7M302.59,702.7V730.7M349.67,702.7V730.7M256.46,702.7V730.7M378.81,702.7V730.7M305.75,702.7V730.7M257.99,702.7V730.7M282.09,702.7V730.7M255.31,702.7V730.7M296.95,702.7V730.7M176.22,702.7V730.7M348.07,702.7V730.7M254.96,702.7V730.7M158.12,702.7V730.7M210.12,702.7V730.7M252.41,702.7V730.7M242.5,702.7V730.7M331.75,702.7V730.7M257.07,702.7V730.7M355.06,702.7V730.7M244.52,702.7V730.7M253.14,702.7V730.7M372.3,702.7V730.7M336.78,702.7V730.7M364.1,702.7V730.7M217.7,702.7V730.7M204.16,702.7V730.7M304.31,702.7V730.7M252.14,702.7V730.7M215.33,702.7V730.7M212.03,702.7V730.7M250.33,702.7V730.7M248.74,702.7V730.7M298.89,702.7V730.7M404.55,702.7V730.7M228.49,702.7V730.7M322.57,702.7V730.7M287.17,702.7V730.7M338.85,702.7V730.7M354.92,702.7V730.7M221.52,702.7V730.7M312.2,702.7V730.7M318.72,702.7V730.7M257.62,702.7V730.7M182.78,702.7V730.7M316.16,702.7V730.7M292.68,702.7V730.7M316.12,702.7V730.7M315.36,702.7V730.7M311.57,702.7V730.7M191.35,702.7V730.7M366.6,702.7V730.7M374.91,702.7V730.7M254.1,702.7V730.7M320.98,702.7V730.7M364.96,702.7V730.7M264.08,702.7V730.7M251.97,702.7V730.7M288.4,702.7V730.7M319.95,702.7V730.7M261.66,702.7V730.7M304.99,702.7V730.7M374.12,702.7V730.7M256.79,702.7V730.7M352.55,702.7V730.7M223.21,702.7V730.7M287.04,702.7V730.7M330.76,702.7V730.7M260.7,702.7V730.7M245.21,702.7V730.7M244.46,702.7V730.7M255.56,702.7V730.7M258.85,702.7V730.7M261.83,702.7V730.7M239.9,702.7V730.7M287.31,702.7V730.7M236.78,702.7V730.7M242.46,702.7V730.7M268.43,702.7V730.7M352.67,702.7V730.7M244.14,702.7V730.7M230.58,702.7V730.7M318.89,702.7V730.7M285.53,702.7V730.7M219.05,702.7V730.7M387.26,702.7V730.7M233.56,702.7V730.7M293.56,702.7V730.7M239.12,702.7V730.7M329.44,702.7V730.7M256.29,702.7V730.7M292.9,702.7V730.7M322.9,702.7V730.7M305.9,702.7V730.7M248.77,702.7V730.7M247.57,702.7V730.7M285.36,702.7V730.7M276.7,702.7V730.7M307.78,702.7V730.7M204.13,702.7V730.7M202.39,702.7V730.7M324.79,702.7V730.7M229.39,702.7V730.7M314.7,702.7V730.7M267.31,702.7V730.7M374.2,702.7V730.7M294.26,702.7V730.7M333.65,702.7V730.7M214.16,702.7V730.7M346.82,702.7V730.7M257.76,702.7V730.7M190.71,702.7V730.7M336.67,702.7V730.7M238.45,702.7V730.7M297.02,702.7V730.7M166.97,702.7V730.7M265.05,702.7V730.7M268.42,702.7V730.7M266.38,702.7V730.7M329.29,702.7V730.7M245.8,702.7V730.7M353.05,702.7V730.7M226.94,702.7V730.7M383.29,702.7V730.7M245.55,702.7V730.7M301.4,702.7V730.7M361.32,702.7V730.7M301.78,702.7V730.7M335.41,702.7V730.7M210.49,702.7V730.7M382.63,702.7V730.7M189.72,702.7V730.7M301.02,702.7V730.7M328.76,702.7V730.7M317.35,702.7V730.7M310.15,702.7V730.7M289.12,702.7V730.7M401.52,702.7V730.7M237.09,702.7V730.7M352.63,702.7V730.7M325.03,702.7V730.7M232.17,702.7V730.7M268.17,702.7V730.7M264.59,702.7V730.7M224.91,702.7V730.7M335.27,702.7V730.7M335.99,702.7V730.7M314.43,702.7V730.7M185.07,702.7V730.7M310.6,702.7V730.7M360.04,702.7V730.7M308.49,702.7V730.7M361.78,702.7V730.7M377.86,702.7V730.7M305.81,702.7V730.7M312.84,702.7V730.7M247.71,702.7V730.7M318.38,702.7V730.7M249.09,702.7V730.7M242.87,702.7V730.7M251.18,702.7V730.7M248.55,702.7V730.7M187.9,702.7V730.7M225.1,702.7V730.7M244.32,702.7V730.7M236.01,702.7V730.7M171.02,702.7V730.7M311.67,702.7V730.7M329.04,702.7V730.7M251.56,702.7V730.7M307.6,702.7V730.7M339.45,702.7V730.7M181.15,702.7V730.7M283.82,702.7V730.7M286.43,702.7V730.7M229.02,702.7V730.7M349.37,702.7V730.7M324.77,702.7V730.7M278.23,702.7V730.7M278.29,702.7V730.7M330.64,702.7V730.7M199.03,702.7V730.7M341.53,702.7V730.7M276.52,702.7V730.7M247.9,702.7V730.7M242.07,702.7V730.7M279,702.7V730.7M214.3,702.7V730.7M329.29,702.7V730.7M261.16,702.7V730.7M347.89,702.7V730.7M373.3,702.7V730.7M322.51,702.7V730.7M354.6,702.7V730.7M357.87,702.7V730.7M367.12,702.7V730.7M374.6,702.7V730.7M367.01,702.7V730.7M360.66,702.7V730.7M371.41,702.7V730.7M363.13,702.7V730.7" stroke="#ff5a00" stroke-width="1.4" stroke-opacity="0.85" fill="none"/>
<path d="M87.8,702.7V730.7M422.7,702.7V730.7" stroke="#6670c6" stroke-width="1.4" stroke-opacity="0.6" fill="none"/>
<path d="M310.43,702.7V730.7M294.53,702.7V730.7M365.87,702.7V730.7M313.01,702.7V730.7M228.17,702.7V730.7M316.38,702.7V730.7M287.46,702.7V730.7M243.42,702.7V730.7M299.61,702.7V730.7M264.23,702.7V730.7M365.41,702.7V730.7M254.6,702.7V730.7M305.34,702.7V730.7M144.6,702.7V730.7M271.45,702.7V730.7M317.31,702.7V730.7M300.1,702.7V730.7M318.54,702.7V730.7M308.64,702.7V730.7M313.23,702.7V730.7M262.38,702.7V730.7M357.37,702.7V730.7M317.23,702.7V730.7M191.91,702.7V730.7M340.1,702.7V730.7M243.24,702.7V730.7M289.31,702.7V730.7M317,702.7V730.7M351.21,702.7V730.7M243.82,702.7V730.7M270.06,702.7V730.7M301.93,702.7V730.7M320.69,702.7V730.7M295.61,702.7V730.7M323.57,702.7V730.7M214.15,702.7V730.7M287.58,702.7V730.7M334.08,702.7V730.7M336.54,702.7V730.7M367.5,702.7V730.7M277.26,702.7V730.7M260.81,702.7V730.7M319.02,702.7V730.7M339.01,702.7V730.7M334.83,702.7V730.7M304.27,702.7V730.7M233.64,702.7V730.7M322.75,702.7V730.7M262.24,702.7V730.7M189.68,702.7V730.7M277.92,702.7V730.7M283.13,702.7V730.7M305.4,702.7V730.7M293.34,702.7V730.7M301.54,702.7V730.7M315.27,702.7V730.7M246.52,702.7V730.7M335.04,702.7V730.7M319.43,702.7V730.7M336.7,702.7V730.7M307.53,702.7V730.7M304.81,702.7V730.7M340.37,702.7V730.7M318.2,702.7V730.7M264.26,702.7V730.7M345.09,702.7V730.7M248.57,702.7V730.7M266.09,702.7V730.7M338.78,702.7V730.7M294.44,702.7V730.7M239.43,702.7V730.7M351.43,702.7V730.7M311.16,702.7V730.7M182.45,702.7V730.7M278.61,702.7V730.7M278.36,702.7V730.7M266.94,702.7V730.7M325.31,702.7V730.7M256.56,702.7V730.7M220.63,702.7V730.7M344.01,702.7V730.7M308.79,702.7V730.7M297.25,702.7V730.7M348.83,702.7V730.7M320.75,702.7V730.7M342.74,702.7V730.7M276.89,702.7V730.7M271.52,702.7V730.7M276.46,702.7V730.7M296.46,702.7V730.7M309.03,702.7V730.7M250.11,702.7V730.7M307.82,702.7V730.7M349.74,702.7V730.7M342.72,702.7V730.7M315.17,702.7V730.7M332.62,702.7V730.7M338.33,702.7V730.7M317,702.7V730.7M351.68,702.7V730.7M344.11,702.7V730.7M335.68,702.7V730.7M334.14,702.7V730.7M338.56,702.7V730.7M329.63,702.7V730.7M336.33,702.7V730.7M333.75,702.7V730.7" stroke="#6670c6" stroke-width="1.4" stroke-opacity="0.85" fill="none"/>
<path d="M67.5,699.5H462.7" stroke="#464646" stroke-width="1.5"/>
<rect x="67.5" y="406" width="395.2" height="328.3" fill="none" stroke="#464646" stroke-width="1.5"/>
<path d="M90.75,734.3v-4M137.24,734.3v-4M183.74,734.3v-4M230.23,734.3v-4M276.72,734.3v-4M323.22,734.3v-4M369.71,734.3v-4M416.21,734.3v-4M462.7,734.3v-4M113.99,734.3v-2.2M160.49,734.3v-2.2M206.98,734.3v-2.2M253.48,734.3v-2.2M299.97,734.3v-2.2M346.46,734.3v-2.2M392.96,734.3v-2.2M439.45,734.3v-2.2M67.5,699.5h4M67.5,640.8h4M67.5,582.1h4M67.5,523.4h4M67.5,464.7h4M67.5,406h4M67.5,670.15h2.2M67.5,611.45h2.2M67.5,552.75h2.2M67.5,494.05h2.2M67.5,435.35h2.2" stroke="#464646" stroke-width="1.3" fill="none"/>
<g font-family='"Liberation Serif", serif' font-size="13" fill="#222">
<text x="62.4" y="703.3" text-anchor="end">0.00</text>
<text x="62.4" y="644.6" text-anchor="end">0.05</text>
<text x="62.4" y="585.9" text-anchor="end">0.10</text>
<text x="62.4" y="527.2" text-anchor="end">0.15</text>
<text x="62.4" y="468.5" text-anchor="end">0.20</text>
<text x="62.4" y="409.8" text-anchor="end">0.25</text>
<text x="90.75" y="749.7" text-anchor="middle">2</text>
<text x="137.24" y="749.7" text-anchor="middle">4</text>
<text x="183.74" y="749.7" text-anchor="middle">6</text>
<text x="230.23" y="749.7" text-anchor="middle">8</text>
<text x="276.72" y="749.7" text-anchor="middle">10</text>
<text x="323.22" y="749.7" text-anchor="middle">12</text>
<text x="369.71" y="749.7" text-anchor="middle">14</text>
<text x="416.21" y="749.7" text-anchor="middle">16</text>
<text x="462.7" y="749.7" text-anchor="middle">18</text>
</g>
<text x="265.5" y="768.6" text-anchor="middle" font-family='"Liberation Serif", serif' font-size="15" fill="#222">Penetration rate (mm/r)</text>
<text transform="translate(33.8,552.5) rotate(-90)" text-anchor="middle" font-family='"Liberation Serif", serif' font-size="15" fill="#222">Density</text>
<text x="1.2" y="411.8" font-family='"Liberation Serif", serif' font-size="33.5" fill="#111">(c)</text>
<rect x="77.95" y="418.25" width="29.4" height="13.6" fill="rgb(219,243,243)" fill-opacity="0.5" stroke="#84e0c8" stroke-width="1.5"/>
<text x="112" y="429.5" font-family='"Liberation Serif", serif' font-size="13" fill="#111">III</text>
<rect x="77.95" y="434.95" width="29.4" height="13.8" fill="rgb(249,227,217)" fill-opacity="0.5" stroke="#ffc29c" stroke-width="1.5"/>
<text x="112" y="446.7" font-family='"Liberation Serif", serif' font-size="13" fill="#111">IV</text>
<rect x="77.95" y="452.05" width="29.4" height="12.9" fill="rgb(249,225,245)" fill-opacity="0.5" stroke="#d4d2f2" stroke-width="1.5"/>
<text x="112" y="462.8" font-family='"Liberation Serif", serif' font-size="13" fill="#111">V</text>
<rect x="371.4" y="414.5" width="82.1" height="51" fill="#fff"/>
<rect x="371.4" y="414.5" width="82.1" height="10.8" fill="#e6e6e6"/>
<path d="M371.4,414.5H453.5M371.4,425.3H453.5M371.4,435.5H453.5M371.4,446.3H453.5M371.4,456.1H453.5M371.4,465.5H453.5M371.4,414.5V465.5M453.5,414.5V465.5M390.8,425.3V465.5" stroke="#8a8a8a" stroke-width="1" fill="none"/>
<g font-family='"Liberation Serif", serif' font-size="10.5" fill="#1a1a1a" text-anchor="middle">
<text x="412.45" y="423.7">Kernel Smooth</text>
<text x="422.15" y="434.7" font-size="9.5">w</text>
<text x="381.1" y="445.8">III</text>
<text x="422.15" y="445.8">0.44612</text>
<text x="381.1" y="455.6">IV</text>
<text x="422.15" y="455.6">0.54356</text>
<text x="381.1" y="465">V</text>
<text x="422.15" y="465">0.62802</text>
</g>
<defs><clipPath id="clipd"><rect x="564.5" y="406" width="395" height="293.8"/></clipPath>
<path id="cdIII" d="M730,699.5C730.5,699.4 732,699.2 733,699C734,698.8 735,698.6 736,698.4C737,698.2 738,698 739,697.7C740,697.4 741,697.2 742,696.7C743,696.3 744,695.7 745,694.9C746,694.2 747,693.4 748,692.4C749,691.4 750,690.6 751,689C752,687.5 753,685.6 754,683C755,680.3 756,676.8 757,673.2C758,669.6 759,665.4 760,661.5C761,657.5 762,653.5 763,649.5C764,645.5 765,641.4 766,637.3C767,633.1 768,628.7 769,624.6C770,620.6 771,616.5 772,613C773,609.5 774,606.1 775,603.4C776,600.6 777,598.4 778,596.7C779,594.9 780,593.7 781,593.1C782,592.4 783,592.2 784,592.5C785,592.8 786,593.6 787,594.8C788,596 789,597.7 790,599.7C791,601.7 792,604.1 793,606.6C794,609.1 795,612 796,614.7C797,617.4 798,620.4 799,623C800,625.6 801,628.2 802,630.3C803,632.4 804,634.3 805,635.5C806,636.8 807,637.6 808,638C809,638.3 810,638.1 811,637.6C812,637 813,635.9 814,634.7C815,633.5 816,631.7 817,630.2C818,628.8 819,627.2 820,625.8C821,624.5 822,623.1 823,622.1C824,621 825,620.1 826,619.6C827,619 828,618.6 829,618.5C830,618.4 831,618.5 832,618.8C833,619 834,619.4 835,619.9C836,620.3 837,620.8 838,621.5C839,622.1 840,622.9 841,623.9C842,624.8 843,626.1 844,627.2C845,628.3 846,629.5 847,630.5C848,631.5 849,632.3 850,633.1C851,633.8 852,634.3 853,634.8C854,635.3 855,635.8 856,636.1C857,636.3 858,636.4 859,636.4C860,636.3 861,635.9 862,635.7C863,635.4 864,635.2 865,634.8C866,634.4 867,634.1 868,633.5C869,633 870,632.3 871,631.6C872,631 873,630.2 874,629.5C875,628.8 876,628.2 877,627.3C878,626.4 879,625.6 880,624.2C881,622.8 882,621 883,619.1C884,617.3 885,615.1 886,613C887,610.9 888,608.6 889,606.3C890,604 891,601.6 892,599.1C893,596.5 894,593.7 895,590.8C896,588 897,584.9 898,582C899,579 900,576.1 901,573.3C902,570.6 903,567.8 904,565.4C905,563.1 906,561 907,559.4C908,557.7 909,556.3 910,555.5C911,554.7 912,554.4 913,554.7C914,555.1 915,556.1 916,557.7C917,559.3 918,561.6 919,564.3C920,567.1 921,570.5 922,574.2C923,578 924,582.3 925,586.8C926,591.3 927,596.3 928,601.3C929,606.4 930,611.9 931,617.2C932,622.5 933,628 934,633.1C935,638.2 936,643.2 937,647.7C938,652.3 939,656.5 940,660.4C941,664.3 942,667.9 943,671.1C944,674.3 945,677.2 946,679.7C947,682.3 948,684.4 949,686.3C950,688.2 951,689.9 952,691.3C953,692.7 954,693.7 955,694.6C956,695.5 957.3,696.1 958,696.6C958.7,697.1 959.2,697.4 959.4,697.6"/>
<path id="adIII" d="M730,699.5C730.5,699.4 732,699.2 733,699C734,698.8 735,698.6 736,698.4C737,698.2 738,698 739,697.7C740,697.4 741,697.2 742,696.7C743,696.3 744,695.7 745,694.9C746,694.2 747,693.4 748,692.4C749,691.4 750,690.6 751,689C752,687.5 753,685.6 754,683C755,680.3 756,676.8 757,673.2C758,669.6 759,665.4 760,661.5C761,657.5 762,653.5 763,649.5C764,645.5 765,641.4 766,637.3C767,633.1 768,628.7 769,624.6C770,620.6 771,616.5 772,613C773,609.5 774,606.1 775,603.4C776,600.6 777,598.4 778,596.7C779,594.9 780,593.7 781,593.1C782,592.4 783,592.2 784,592.5C785,592.8 786,593.6 787,594.8C788,596 789,597.7 790,599.7C791,601.7 792,604.1 793,606.6C794,609.1 795,612 796,614.7C797,617.4 798,620.4 799,623C800,625.6 801,628.2 802,630.3C803,632.4 804,634.3 805,635.5C806,636.8 807,637.6 808,638C809,638.3 810,638.1 811,637.6C812,637 813,635.9 814,634.7C815,633.5 816,631.7 817,630.2C818,628.8 819,627.2 820,625.8C821,624.5 822,623.1 823,622.1C824,621 825,620.1 826,619.6C827,619 828,618.6 829,618.5C830,618.4 831,618.5 832,618.8C833,619 834,619.4 835,619.9C836,620.3 837,620.8 838,621.5C839,622.1 840,622.9 841,623.9C842,624.8 843,626.1 844,627.2C845,628.3 846,629.5 847,630.5C848,631.5 849,632.3 850,633.1C851,633.8 852,634.3 853,634.8C854,635.3 855,635.8 856,636.1C857,636.3 858,636.4 859,636.4C860,636.3 861,635.9 862,635.7C863,635.4 864,635.2 865,634.8C866,634.4 867,634.1 868,633.5C869,633 870,632.3 871,631.6C872,631 873,630.2 874,629.5C875,628.8 876,628.2 877,627.3C878,626.4 879,625.6 880,624.2C881,622.8 882,621 883,619.1C884,617.3 885,615.1 886,613C887,610.9 888,608.6 889,606.3C890,604 891,601.6 892,599.1C893,596.5 894,593.7 895,590.8C896,588 897,584.9 898,582C899,579 900,576.1 901,573.3C902,570.6 903,567.8 904,565.4C905,563.1 906,561 907,559.4C908,557.7 909,556.3 910,555.5C911,554.7 912,554.4 913,554.7C914,555.1 915,556.1 916,557.7C917,559.3 918,561.6 919,564.3C920,567.1 921,570.5 922,574.2C923,578 924,582.3 925,586.8C926,591.3 927,596.3 928,601.3C929,606.4 930,611.9 931,617.2C932,622.5 933,628 934,633.1C935,638.2 936,643.2 937,647.7C938,652.3 939,656.5 940,660.4C941,664.3 942,667.9 943,671.1C944,674.3 945,677.2 946,679.7C947,682.3 948,684.4 949,686.3C950,688.2 951,689.9 952,691.3C953,692.7 954,693.7 955,694.6C956,695.5 957.3,696.1 958,696.6C958.7,697.1 959.2,697.4 959.4,697.6L959.4,699.8L730,699.8Z"/>
<clipPath id="fdIII"><use href="#adIII"/></clipPath>
<path id="cdIV" d="M564.5,694C565,693.8 566.5,693.2 567.5,692.9C568.5,692.5 569.5,692.2 570.5,691.9C571.5,691.7 572.5,691.5 573.5,691.4C574.5,691.3 575.5,691.2 576.5,691.2C577.5,691.2 578.5,691.3 579.5,691.5C580.5,691.6 581.5,691.8 582.5,692C583.5,692.2 584.5,692.4 585.5,692.5C586.5,692.7 587.5,692.8 588.5,692.9C589.5,693.1 590.5,693.2 591.5,693.4C592.5,693.5 593.5,693.7 594.5,693.8C595.5,693.9 596.5,694 597.5,694.1C598.5,694.2 599.5,694.3 600.5,694.4C601.5,694.5 602.5,694.6 603.5,694.7C604.5,694.8 605.5,694.9 606.5,695C607.5,695.1 608.5,695.2 609.5,695.4C610.5,695.5 611.5,695.6 612.5,695.7C613.5,695.8 614.5,696 615.5,696.1C616.5,696.2 617.5,696.2 618.5,696.3C619.5,696.3 620.5,696.3 621.5,696.3C622.5,696.3 623.5,696.4 624.5,696.2C625.5,696.1 626.5,695.9 627.5,695.5C628.5,695.2 629.5,694.8 630.5,694.2C631.5,693.6 632.5,693 633.5,692.1C634.5,691.3 635.5,690.2 636.5,689.2C637.5,688.1 638.5,687 639.5,685.8C640.5,684.5 641.5,683 642.5,681.7C643.5,680.3 644.5,678.9 645.5,677.6C646.5,676.3 647.5,675 648.5,673.8C649.5,672.6 650.5,671.3 651.5,670.3C652.5,669.4 653.5,668.7 654.5,668C655.5,667.3 656.5,666.7 657.5,666.3C658.5,665.9 659.5,665.9 660.5,665.8C661.5,665.7 662.5,665.8 663.5,665.8C664.5,665.9 665.5,666 666.5,666C667.5,666.1 668.5,666.3 669.5,666.2C670.5,666 671.5,665.8 672.5,665.1C673.5,664.4 674.5,663.5 675.5,662C676.5,660.6 677.5,658.4 678.5,656.4C679.5,654.4 680.5,652.1 681.5,649.8C682.5,647.5 683.5,645 684.5,642.6C685.5,640.3 686.5,637.9 687.5,635.5C688.5,633.2 689.5,630.7 690.5,628.7C691.5,626.6 692.5,624.8 693.5,623.3C694.5,621.7 695.5,620.5 696.5,619.2C697.5,617.9 698.5,616.8 699.5,615.6C700.5,614.5 701.5,613.7 702.5,612.6C703.5,611.5 704.5,610.3 705.5,608.9C706.5,607.5 707.5,605.7 708.5,604C709.5,602.4 710.5,600.7 711.5,598.9C712.5,597.1 713.5,595.3 714.5,593.5C715.5,591.6 716.5,589.8 717.5,587.9C718.5,586 719.5,584.1 720.5,582C721.5,579.9 722.5,578.1 723.5,575.5C724.5,573 725.5,570.2 726.5,566.6C727.5,563 728.5,558.5 729.5,554.1C730.5,549.6 731.5,544.3 732.5,540C733.5,535.6 734.5,531.6 735.5,527.9C736.5,524.1 737.5,520.4 738.5,517.3C739.5,514.3 740.5,511.5 741.5,509.7C742.5,508 743.5,507 744.5,506.7C745.5,506.5 746.5,507.3 747.5,508C748.5,508.8 749.5,510 750.5,511.1C751.5,512.2 752.5,513.5 753.5,514.6C754.5,515.7 755.5,517.4 756.5,517.7C757.5,518 758.5,517.6 759.5,516.5C760.5,515.4 761.5,513.3 762.5,510.9C763.5,508.6 764.5,505.7 765.5,502.6C766.5,499.5 767.5,495.8 768.5,492.4C769.5,488.9 770.5,484.9 771.5,482C772.5,479.1 773.5,476.8 774.5,475C775.5,473.2 776.5,471.4 777.5,471.2C778.5,471 779.5,471.8 780.5,473.7C781.5,475.6 782.5,478.2 783.5,482.6C784.5,487 785.5,493.6 786.5,500C787.5,506.3 788.5,513.3 789.5,520.7C790.5,528.1 791.5,535.4 792.5,544.5C793.5,553.6 794.5,565.6 795.5,575.3C796.5,585.1 797.5,594.6 798.5,603C799.5,611.4 800.5,618.9 801.5,625.7C802.5,632.4 803.5,638.3 804.5,643.5C805.5,648.8 806.5,653.1 807.5,657.1C808.5,661.2 809.5,664.6 810.5,667.7C811.5,670.9 812.5,673.8 813.5,676.3C814.5,678.7 815.5,680.7 816.5,682.4C817.5,684.2 818.5,685.6 819.5,686.9C820.5,688.3 821.5,689.3 822.5,690.3C823.5,691.4 824.5,692.4 825.5,693.2C826.5,694 827.5,694.6 828.5,695.2C829.5,695.8 830.5,696.5 831.5,697C832.5,697.5 833.5,698 834.5,698.3C835.5,698.6 836.6,698.8 837.5,699C838.4,699.2 839.6,699.4 840,699.5"/>
<path id="adIV" d="M564.5,694C565,693.8 566.5,693.2 567.5,692.9C568.5,692.5 569.5,692.2 570.5,691.9C571.5,691.7 572.5,691.5 573.5,691.4C574.5,691.3 575.5,691.2 576.5,691.2C577.5,691.2 578.5,691.3 579.5,691.5C580.5,691.6 581.5,691.8 582.5,692C583.5,692.2 584.5,692.4 585.5,692.5C586.5,692.7 587.5,692.8 588.5,692.9C589.5,693.1 590.5,693.2 591.5,693.4C592.5,693.5 593.5,693.7 594.5,693.8C595.5,693.9 596.5,694 597.5,694.1C598.5,694.2 599.5,694.3 600.5,694.4C601.5,694.5 602.5,694.6 603.5,694.7C604.5,694.8 605.5,694.9 606.5,695C607.5,695.1 608.5,695.2 609.5,695.4C610.5,695.5 611.5,695.6 612.5,695.7C613.5,695.8 614.5,696 615.5,696.1C616.5,696.2 617.5,696.2 618.5,696.3C619.5,696.3 620.5,696.3 621.5,696.3C622.5,696.3 623.5,696.4 624.5,696.2C625.5,696.1 626.5,695.9 627.5,695.5C628.5,695.2 629.5,694.8 630.5,694.2C631.5,693.6 632.5,693 633.5,692.1C634.5,691.3 635.5,690.2 636.5,689.2C637.5,688.1 638.5,687 639.5,685.8C640.5,684.5 641.5,683 642.5,681.7C643.5,680.3 644.5,678.9 645.5,677.6C646.5,676.3 647.5,675 648.5,673.8C649.5,672.6 650.5,671.3 651.5,670.3C652.5,669.4 653.5,668.7 654.5,668C655.5,667.3 656.5,666.7 657.5,666.3C658.5,665.9 659.5,665.9 660.5,665.8C661.5,665.7 662.5,665.8 663.5,665.8C664.5,665.9 665.5,666 666.5,666C667.5,666.1 668.5,666.3 669.5,666.2C670.5,666 671.5,665.8 672.5,665.1C673.5,664.4 674.5,663.5 675.5,662C676.5,660.6 677.5,658.4 678.5,656.4C679.5,654.4 680.5,652.1 681.5,649.8C682.5,647.5 683.5,645 684.5,642.6C685.5,640.3 686.5,637.9 687.5,635.5C688.5,633.2 689.5,630.7 690.5,628.7C691.5,626.6 692.5,624.8 693.5,623.3C694.5,621.7 695.5,620.5 696.5,619.2C697.5,617.9 698.5,616.8 699.5,615.6C700.5,614.5 701.5,613.7 702.5,612.6C703.5,611.5 704.5,610.3 705.5,608.9C706.5,607.5 707.5,605.7 708.5,604C709.5,602.4 710.5,600.7 711.5,598.9C712.5,597.1 713.5,595.3 714.5,593.5C715.5,591.6 716.5,589.8 717.5,587.9C718.5,586 719.5,584.1 720.5,582C721.5,579.9 722.5,578.1 723.5,575.5C724.5,573 725.5,570.2 726.5,566.6C727.5,563 728.5,558.5 729.5,554.1C730.5,549.6 731.5,544.3 732.5,540C733.5,535.6 734.5,531.6 735.5,527.9C736.5,524.1 737.5,520.4 738.5,517.3C739.5,514.3 740.5,511.5 741.5,509.7C742.5,508 743.5,507 744.5,506.7C745.5,506.5 746.5,507.3 747.5,508C748.5,508.8 749.5,510 750.5,511.1C751.5,512.2 752.5,513.5 753.5,514.6C754.5,515.7 755.5,517.4 756.5,517.7C757.5,518 758.5,517.6 759.5,516.5C760.5,515.4 761.5,513.3 762.5,510.9C763.5,508.6 764.5,505.7 765.5,502.6C766.5,499.5 767.5,495.8 768.5,492.4C769.5,488.9 770.5,484.9 771.5,482C772.5,479.1 773.5,476.8 774.5,475C775.5,473.2 776.5,471.4 777.5,471.2C778.5,471 779.5,471.8 780.5,473.7C781.5,475.6 782.5,478.2 783.5,482.6C784.5,487 785.5,493.6 786.5,500C787.5,506.3 788.5,513.3 789.5,520.7C790.5,528.1 791.5,535.4 792.5,544.5C793.5,553.6 794.5,565.6 795.5,575.3C796.5,585.1 797.5,594.6 798.5,603C799.5,611.4 800.5,618.9 801.5,625.7C802.5,632.4 803.5,638.3 804.5,643.5C805.5,648.8 806.5,653.1 807.5,657.1C808.5,661.2 809.5,664.6 810.5,667.7C811.5,670.9 812.5,673.8 813.5,676.3C814.5,678.7 815.5,680.7 816.5,682.4C817.5,684.2 818.5,685.6 819.5,686.9C820.5,688.3 821.5,689.3 822.5,690.3C823.5,691.4 824.5,692.4 825.5,693.2C826.5,694 827.5,694.6 828.5,695.2C829.5,695.8 830.5,696.5 831.5,697C832.5,697.5 833.5,698 834.5,698.3C835.5,698.6 836.6,698.8 837.5,699C838.4,699.2 839.6,699.4 840,699.5L840,699.8L564.5,699.8Z"/>
<clipPath id="fdIV"><use href="#adIV"/></clipPath>
<path id="cdV" d="M686.6,699.3C687.1,699 688.6,698 689.6,697.4C690.6,696.8 691.6,696.1 692.6,695.5C693.6,695 694.6,694.4 695.6,693.9C696.6,693.3 697.6,692.9 698.6,692.4C699.6,691.9 700.6,691.3 701.6,690.9C702.6,690.6 703.6,690.2 704.6,690.1C705.6,690.1 706.6,690.5 707.6,690.7C708.6,690.9 709.6,691.1 710.6,691.3C711.6,691.4 712.6,691.7 713.6,691.7C714.6,691.8 715.6,691.8 716.6,691.8C717.6,691.8 718.6,691.9 719.6,691.8C720.6,691.7 721.6,691.7 722.6,691.4C723.6,691.1 724.6,690.6 725.6,690.2C726.6,689.8 727.6,689.5 728.6,688.9C729.6,688.4 730.6,687.7 731.6,686.9C732.6,686 733.6,684.9 734.6,683.9C735.6,682.9 736.6,682.1 737.6,680.9C738.6,679.7 739.6,678.3 740.6,676.8C741.6,675.3 742.6,673.6 743.6,671.9C744.6,670.3 745.6,669.2 746.6,666.9C747.6,664.6 748.6,661.7 749.6,658.2C750.6,654.8 751.6,651 752.6,646.2C753.6,641.3 754.6,635.1 755.6,629.1C756.6,623.1 757.6,616.9 758.6,610.1C759.6,603.3 760.6,596.4 761.6,588.3C762.6,580.2 763.6,570.5 764.6,561.7C765.6,552.8 766.6,544.6 767.6,535.2C768.6,525.9 769.6,516.5 770.6,505.5C771.6,494.5 772.6,479.3 773.6,469.2C774.6,459 775.6,450.9 776.6,444.7C777.6,438.5 778.6,434.4 779.6,431.9C780.6,429.5 781.6,428 782.6,429.9C783.6,431.7 784.6,436.1 785.6,443C786.6,449.8 787.6,458.7 788.6,471C789.6,483.3 790.6,503 791.6,516.7C792.6,530.5 793.6,541.9 794.6,553.7C795.6,565.4 796.6,576.8 797.6,587.3C798.6,597.8 799.6,607.9 800.6,616.8C801.6,625.6 802.6,634 803.6,640.4C804.6,646.8 805.6,651.2 806.6,655C807.6,658.7 808.6,660.9 809.6,662.9C810.6,665 811.6,666.3 812.6,667.3C813.6,668.3 814.6,668.6 815.6,669.1C816.6,669.7 817.6,670.1 818.6,670.5C819.6,670.9 820.6,671.1 821.6,671.5C822.6,671.9 823.6,672.3 824.6,672.7C825.6,673.2 826.6,673.8 827.6,674.2C828.6,674.6 829.6,674.8 830.6,675.1C831.6,675.4 832.6,675.6 833.6,675.9C834.6,676.2 835.6,676.5 836.6,676.9C837.6,677.2 838.6,677.6 839.6,678C840.6,678.3 841.6,678.6 842.6,679.2C843.6,679.7 844.6,680.6 845.6,681.3C846.6,682.1 847.6,682.9 848.6,683.7C849.6,684.6 850.6,685.5 851.6,686.4C852.6,687.4 853.6,688.4 854.6,689.5C855.6,690.5 856.6,691.6 857.6,692.5C858.6,693.3 859.6,694 860.6,694.7C861.6,695.3 862.6,695.8 863.6,696.4C864.6,696.9 865.6,697.6 866.6,698C867.6,698.5 868.7,698.8 869.6,699C870.5,699.3 871.6,699.4 872,699.5"/>
<path id="adV" d="M686.6,699.3C687.1,699 688.6,698 689.6,697.4C690.6,696.8 691.6,696.1 692.6,695.5C693.6,695 694.6,694.4 695.6,693.9C696.6,693.3 697.6,692.9 698.6,692.4C699.6,691.9 700.6,691.3 701.6,690.9C702.6,690.6 703.6,690.2 704.6,690.1C705.6,690.1 706.6,690.5 707.6,690.7C708.6,690.9 709.6,691.1 710.6,691.3C711.6,691.4 712.6,691.7 713.6,691.7C714.6,691.8 715.6,691.8 716.6,691.8C717.6,691.8 718.6,691.9 719.6,691.8C720.6,691.7 721.6,691.7 722.6,691.4C723.6,691.1 724.6,690.6 725.6,690.2C726.6,689.8 727.6,689.5 728.6,688.9C729.6,688.4 730.6,687.7 731.6,686.9C732.6,686 733.6,684.9 734.6,683.9C735.6,682.9 736.6,682.1 737.6,680.9C738.6,679.7 739.6,678.3 740.6,676.8C741.6,675.3 742.6,673.6 743.6,671.9C744.6,670.3 745.6,669.2 746.6,666.9C747.6,664.6 748.6,661.7 749.6,658.2C750.6,654.8 751.6,651 752.6,646.2C753.6,641.3 754.6,635.1 755.6,629.1C756.6,623.1 757.6,616.9 758.6,610.1C759.6,603.3 760.6,596.4 761.6,588.3C762.6,580.2 763.6,570.5 764.6,561.7C765.6,552.8 766.6,544.6 767.6,535.2C768.6,525.9 769.6,516.5 770.6,505.5C771.6,494.5 772.6,479.3 773.6,469.2C774.6,459 775.6,450.9 776.6,444.7C777.6,438.5 778.6,434.4 779.6,431.9C780.6,429.5 781.6,428 782.6,429.9C783.6,431.7 784.6,436.1 785.6,443C786.6,449.8 787.6,458.7 788.6,471C789.6,483.3 790.6,503 791.6,516.7C792.6,530.5 793.6,541.9 794.6,553.7C795.6,565.4 796.6,576.8 797.6,587.3C798.6,597.8 799.6,607.9 800.6,616.8C801.6,625.6 802.6,634 803.6,640.4C804.6,646.8 805.6,651.2 806.6,655C807.6,658.7 808.6,660.9 809.6,662.9C810.6,665 811.6,666.3 812.6,667.3C813.6,668.3 814.6,668.6 815.6,669.1C816.6,669.7 817.6,670.1 818.6,670.5C819.6,670.9 820.6,671.1 821.6,671.5C822.6,671.9 823.6,672.3 824.6,672.7C825.6,673.2 826.6,673.8 827.6,674.2C828.6,674.6 829.6,674.8 830.6,675.1C831.6,675.4 832.6,675.6 833.6,675.9C834.6,676.2 835.6,676.5 836.6,676.9C837.6,677.2 838.6,677.6 839.6,678C840.6,678.3 841.6,678.6 842.6,679.2C843.6,679.7 844.6,680.6 845.6,681.3C846.6,682.1 847.6,682.9 848.6,683.7C849.6,684.6 850.6,685.5 851.6,686.4C852.6,687.4 853.6,688.4 854.6,689.5C855.6,690.5 856.6,691.6 857.6,692.5C858.6,693.3 859.6,694 860.6,694.7C861.6,695.3 862.6,695.8 863.6,696.4C864.6,696.9 865.6,697.6 866.6,698C867.6,698.5 868.7,698.8 869.6,699C870.5,699.3 871.6,699.4 872,699.5L872,699.8L686.6,699.8Z"/>
<clipPath id="fdV"><use href="#adV"/></clipPath>
<clipPath id="fdU"><use href="#adIV"/><use href="#adV"/></clipPath>
</defs>
<path d="M652.5,406V699.8M740.5,406V699.8M827.5,406V699.8M915.5,406V699.8M564.5,650.5H959.5M564.5,601.5H959.5M564.5,552.5H959.5M564.5,503.5H959.5M564.5,454.5H959.5" stroke="#d4d4d4" stroke-width="1" fill="none"/>
<g clip-path="url(#clipd)">
<use href="#adV" fill="rgb(252,240,250)"/>
<use href="#adIV" fill="rgb(252,241,236)"/>
<use href="#adIII" fill="rgb(236,251,246)"/>
<use href="#adIV" fill="rgb(251,240,239)" clip-path="url(#fdV)"/>
<use href="#adIII" fill="rgb(252,242,235)" clip-path="url(#fdIV)"/>
<use href="#adIII" fill="rgb(235,251,246)" clip-path="url(#fdV)"/>
<g clip-path="url(#fdV)"><use href="#adIII" fill="rgb(244,240,239)" clip-path="url(#fdIV)"/></g>
<path d="M652.5,406V699.8M740.5,406V699.8M827.5,406V699.8M915.5,406V699.8M564.5,650.5H959.5M564.5,601.5H959.5M564.5,552.5H959.5M564.5,503.5H959.5M564.5,454.5H959.5" stroke="#d4d4d4" stroke-width="1" fill="none" stroke-opacity="0.55"/>
<use href="#cdIII" fill="none" stroke="#0ca87e" stroke-width="1.7" stroke-linejoin="round"/>
<use href="#cdIII" fill="none" stroke="#4cc4a2" stroke-width="1.7" stroke-linejoin="round" clip-path="url(#fdU)"/>
<use href="#cdIV" fill="none" stroke="#ff6010" stroke-width="1.7" stroke-linejoin="round"/>
<use href="#cdIV" fill="none" stroke="#ff864c" stroke-width="1.7" stroke-linejoin="round" clip-path="url(#fdV)"/>
<use href="#cdV" fill="none" stroke="#7b6cc8" stroke-width="1.7" stroke-linejoin="round"/>
</g>
<path d="M925.5,703V730.7M927.5,703V730.7M930,703V730.7M932.3,703V730.7M936.3,703V730.7M940.9,703V730.7M950.2,703V730.7" stroke="#00a878" stroke-width="1.4" stroke-opacity="0.6" fill="none"/>
<path d="M839.15,703V730.7M871.14,703V730.7M918.56,703V730.7M789.77,703V730.7M798.45,703V730.7M764.28,703V730.7M780.66,703V730.7M786.67,703V730.7M864.25,703V730.7M898.96,703V730.7M833.03,703V730.7M838.42,703V730.7M898.67,703V730.7M822.56,703V730.7M773.83,703V730.7M916.2,703V730.7M887.12,703V730.7M779.96,703V730.7M773.22,703V730.7M777.28,703V730.7M779.31,703V730.7M888.56,703V730.7M765.91,703V730.7M834.52,703V730.7M855.02,703V730.7M791.72,703V730.7M806.23,703V730.7M803.6,703V730.7M769.22,703V730.7M896.22,703V730.7M913.43,703V730.7M845.15,703V730.7M766.63,703V730.7M901.56,703V730.7M904.43,703V730.7M893.2,703V730.7M823.09,703V730.7M914.96,703V730.7M889.46,703V730.7M881.86,703V730.7M870.8,703V730.7M800.18,703V730.7M849.66,703V730.7M910.93,703V730.7M897.64,703V730.7M826.58,703V730.7M913.75,703V730.7M915.96,703V730.7M768,703V730.7M786.76,703V730.7M798.04,703V730.7M906.35,703V730.7M892.14,703V730.7M871.43,703V730.7M828.72,703V730.7M793.51,703V730.7M779.89,703V730.7M825.42,703V730.7M915.81,703V730.7M885.17,703V730.7M771.24,703V730.7M844.45,703V730.7M768.96,703V730.7M888.17,703V730.7M781.54,703V730.7M790.22,703V730.7M891.44,703V730.7M915.53,703V730.7M887.55,703V730.7M815.34,703V730.7M891.91,703V730.7M809.83,703V730.7M810.32,703V730.7M898.25,703V730.7M888.76,703V730.7M792.4,703V730.7M916.1,703V730.7M914.98,703V730.7M811.75,703V730.7M807.32,703V730.7M772.29,703V730.7M863.88,703V730.7M918.9,703V730.7M883.81,703V730.7M872.17,703V730.7M857.66,703V730.7M812.97,703V730.7M816.81,703V730.7M838.02,703V730.7M872.35,703V730.7M773.69,703V730.7M804.64,703V730.7M893.79,703V730.7M773.97,703V730.7M846.35,703V730.7M892.81,703V730.7M775.62,703V730.7M908.32,703V730.7M811.54,703V730.7M869.1,703V730.7M914.4,703V730.7M802.43,703V730.7M899.99,703V730.7M875.33,703V730.7M773.73,703V730.7M809.75,703V730.7M839.96,703V730.7M784.09,703V730.7M804.12,703V730.7M799.85,703V730.7M883.31,703V730.7M867.68,703V730.7M821.08,703V730.7M822.42,703V730.7M859.93,703V730.7M774.75,703V730.7M897.57,703V730.7M911.88,703V730.7M833.76,703V730.7M905.06,703V730.7M898.04,703V730.7M848.08,703V730.7M797.54,703V730.7M898.69,703V730.7M904.28,703V730.7M819.38,703V730.7M869.65,703V730.7M795.83,703V730.7M782.57,703V730.7M791.62,703V730.7M781.26,703V730.7M835.63,703V730.7M861.17,703V730.7M890.76,703V730.7M818.69,703V730.7M782.39,703V730.7M889.69,703V730.7M896.95,703V730.7M898.36,703V730.7M821.66,703V730.7M882.62,703V730.7M821.01,703V730.7M893.11,703V730.7M913.55,703V730.7M911.1,703V730.7M780.74,703V730.7M774.12,703V730.7M875.86,703V730.7M918.06,703V730.7M786.82,703V730.7M843.51,703V730.7M921.65,703V730.7M914.49,703V730.7M803.68,703V730.7M810.52,703V730.7M785.51,703V730.7M807.53,703V730.7M838.33,703V730.7M911.24,703V730.7M894.2,703V730.7M789.03,703V730.7M790.1,703V730.7M848.45,703V730.7M922.03,703V730.7M853.78,703V730.7M910.36,703V730.7M898.32,703V730.7M920.47,703V730.7M859.87,703V730.7M832.93,703V730.7M850.15,703V730.7M911.81,703V730.7M811.55,703V730.7M792.51,703V730.7M915.67,703V730.7M855.79,703V730.7M891.28,703V730.7M789.37,703V730.7M767.49,703V730.7M798.43,703V730.7M843.59,703V730.7M765.38,703V730.7M810.08,703V730.7M845.32,703V730.7M911.86,703V730.7M817.24,703V730.7M789.16,703V730.7M890.7,703V730.7M894.89,703V730.7M822.17,703V730.7M901.17,703V730.7M920.17,703V730.7M825.33,703V730.7M860.07,703V730.7M882.15,703V730.7M815.01,703V730.7M893.03,703V730.7M906.88,703V730.7M825.5,703V730.7M895.29,703V730.7M788.57,703V730.7M911.31,703V730.7M855.01,703V730.7M773.73,703V730.7M833.95,703V730.7M787.5,703V730.7M806.4,703V730.7M921.99,703V730.7M868.47,703V730.7M828.95,703V730.7M769.91,703V730.7M760.71,703V730.7M908,703V730.7M874.82,703V730.7M915.22,703V730.7M859.85,703V730.7M823.76,703V730.7M799.24,703V730.7M921.18,703V730.7M869.07,703V730.7M764.56,703V730.7M903.53,703V730.7M890.82,703V730.7M780.12,703V730.7M911.2,703V730.7M908.92,703V730.7M889.54,703V730.7M879.3,703V730.7M844.64,703V730.7M898.82,703V730.7M835.1,703V730.7M882.02,703V730.7M896.11,703V730.7M868.97,703V730.7M780.06,703V730.7M867.07,703V730.7M795.06,703V730.7M805.47,703V730.7M810.64,703V730.7M799.98,703V730.7M912.93,703V730.7M869.65,703V730.7M775.81,703V730.7M863.64,703V730.7M899.3,703V730.7M763.52,703V730.7M793.02,703V730.7M899.31,703V730.7M837.41,703V730.7M803.36,703V730.7M792.38,703V730.7M877.28,703V730.7M843.02,703V730.7M841.75,703V730.7M823.26,703V730.7M766.95,703V730.7M822.62,703V730.7M890.04,703V730.7M870.09,703V730.7M881.43,703V730.7" stroke="#00a878" stroke-width="1.4" stroke-opacity="0.85" fill="none"/>
<path d="M569.5,703V730.7M571.5,703V730.7M573.5,703V730.7M575.8,703V730.7M577.5,703V730.7M580.5,703V730.7M586.9,703V730.7M594.1,703V730.7M599.8,703V730.7M606.6,703V730.7M608.7,703V730.7M621.8,703V730.7M638,703V730.7M641.5,703V730.7M644.5,703V730.7M647.6,703V730.7" stroke="#ff5a00" stroke-width="1.4" stroke-opacity="0.6" fill="none"/>
<path d="M701.52,703V730.7M655.34,703V730.7M777.44,703V730.7M773.05,703V730.7M767.82,703V730.7M801.12,703V730.7M728.89,703V730.7M774.71,703V730.7M726.21,703V730.7M761.68,703V730.7M791.55,703V730.7M746.05,703V730.7M763.38,703V730.7M811.41,703V730.7M749.7,703V730.7M717.99,703V730.7M799.16,703V730.7M769.39,703V730.7M731.51,703V730.7M724.08,703V730.7M680.44,703V730.7M806.82,703V730.7M757.23,703V730.7M778.83,703V730.7M718.23,703V730.7M784.49,703V730.7M772.39,703V730.7M787.92,703V730.7M749.19,703V730.7M792.96,703V730.7M758.32,703V730.7M697.93,703V730.7M791.79,703V730.7M728.15,703V730.7M793.72,703V730.7M756.19,703V730.7M740.21,703V730.7M752.91,703V730.7M737.16,703V730.7M676.59,703V730.7M657.64,703V730.7M679.67,703V730.7M791.09,703V730.7M734.35,703V730.7M740.28,703V730.7M765.46,703V730.7M765.4,703V730.7M792.46,703V730.7M734.6,703V730.7M799.07,703V730.7M701.33,703V730.7M749.76,703V730.7M766.63,703V730.7M742.08,703V730.7M779.39,703V730.7M755.81,703V730.7M739.14,703V730.7M766.12,703V730.7M721.29,703V730.7M707.56,703V730.7M766.35,703V730.7M746.53,703V730.7M811.83,703V730.7M798.58,703V730.7M729.04,703V730.7M705.82,703V730.7M743.67,703V730.7M742.74,703V730.7M743.62,703V730.7M680.29,703V730.7M727.87,703V730.7M741.29,703V730.7M776.71,703V730.7M690.49,703V730.7M765.36,703V730.7M737.95,703V730.7M778.52,703V730.7M769.98,703V730.7M708.75,703V730.7M772.34,703V730.7M736.82,703V730.7M783.75,703V730.7M729.83,703V730.7M752.66,703V730.7M727.04,703V730.7M739.07,703V730.7M759.23,703V730.7M717.88,703V730.7M786.31,703V730.7M725.68,703V730.7M770.93,703V730.7M800.5,703V730.7M685.46,703V730.7M788.1,703V730.7M705.31,703V730.7M745.83,703V730.7M691.17,703V730.7M794.35,703V730.7M729.44,703V730.7M752.34,703V730.7M803.77,703V730.7M698.52,703V730.7M676.7,703V730.7M771.31,703V730.7M657.5,703V730.7M693.39,703V730.7M720.73,703V730.7M733.7,703V730.7M664.11,703V730.7M794.91,703V730.7M751.89,703V730.7M776.22,703V730.7M717.83,703V730.7M788.58,703V730.7M651.14,703V730.7M692.07,703V730.7M737.03,703V730.7M782.93,703V730.7M795.14,703V730.7M801.78,703V730.7M711.78,703V730.7M737.14,703V730.7M785.7,703V730.7M781.86,703V730.7M796.38,703V730.7M678.21,703V730.7M652.83,703V730.7M740.42,703V730.7M784.74,703V730.7M770.72,703V730.7M741.83,703V730.7M770.18,703V730.7M744.87,703V730.7M783.88,703V730.7M726.1,703V730.7M776.5,703V730.7M699.86,703V730.7M760.62,703V730.7M729.8,703V730.7M733.01,703V730.7M722.76,703V730.7M683.68,703V730.7M769.09,703V730.7M768.57,703V730.7M767.82,703V730.7M743.63,703V730.7M760.65,703V730.7M780.26,703V730.7M809.63,703V730.7M739.24,703V730.7M776.12,703V730.7M781.79,703V730.7M784.86,703V730.7M768.96,703V730.7M716.17,703V730.7M781.84,703V730.7M757.4,703V730.7M775.55,703V730.7M775.88,703V730.7M711.98,703V730.7M673.02,703V730.7M779.04,703V730.7M768.67,703V730.7M658.05,703V730.7M742.61,703V730.7M767.26,703V730.7M692.52,703V730.7M771.35,703V730.7M733.82,703V730.7M766.82,703V730.7M723.71,703V730.7M717.05,703V730.7M698.81,703V730.7M770.53,703V730.7M764.21,703V730.7M671.84,703V730.7M689.86,703V730.7M784.04,703V730.7M721.74,703V730.7M794.44,703V730.7M805.84,703V730.7M781.71,703V730.7M696.47,703V730.7M686.77,703V730.7M783.34,703V730.7M741.96,703V730.7M686.96,703V730.7M725.62,703V730.7M719.59,703V730.7M651.81,703V730.7M773.39,703V730.7M664.89,703V730.7M726.17,703V730.7M771.65,703V730.7M776.3,703V730.7M779.89,703V730.7M717.6,703V730.7M704.06,703V730.7M763.95,703V730.7M781.26,703V730.7M775.32,703V730.7M775.51,703V730.7M741.74,703V730.7M773.38,703V730.7M791.82,703V730.7M763.5,703V730.7M698.17,703V730.7M783.09,703V730.7M650.83,703V730.7M727.69,703V730.7M737.25,703V730.7M803.32,703V730.7M775.08,703V730.7M743.92,703V730.7M758.9,703V730.7M741.89,703V730.7M790.68,703V730.7M763.69,703V730.7M736.09,703V730.7M795.56,703V730.7M782.15,703V730.7M741.22,703V730.7M800.8,703V730.7M664.46,703V730.7M788.01,703V730.7M745.65,703V730.7M749.41,703V730.7M788.43,703V730.7M742.58,703V730.7M743.95,703V730.7M717.73,703V730.7M770.24,703V730.7M773.38,703V730.7M769.16,703V730.7M701.5,703V730.7M787.75,703V730.7M749.85,703V730.7M689.92,703V730.7M711.98,703V730.7M693.09,703V730.7M697.67,703V730.7M752.38,703V730.7M776.5,703V730.7M771.62,703V730.7M803.64,703V730.7M811.75,703V730.7M764.2,703V730.7M786.05,703V730.7M670.16,703V730.7M661.73,703V730.7M668.66,703V730.7M662.84,703V730.7M666.87,703V730.7M667.95,703V730.7M670.06,703V730.7M661.67,703V730.7M652.68,703V730.7M652.29,703V730.7M665.85,703V730.7M663.76,703V730.7M668.75,703V730.7M654.68,703V730.7M668.17,703V730.7M671.83,703V730.7M661.09,703V730.7M652.91,703V730.7M665.46,703V730.7M652.66,703V730.7M667.69,703V730.7M668.04,703V730.7M658.98,703V730.7M669.99,703V730.7M658.92,703V730.7" stroke="#ff5a00" stroke-width="1.4" stroke-opacity="0.85" fill="none"/>
<path d="" stroke="#6670c6" stroke-width="1.4" stroke-opacity="0.6" fill="none"/>
<path d="M797.56,703V730.7M771.64,703V730.7M790.36,703V730.7M773.84,703V730.7M776.39,703V730.7M797.7,703V730.7M779.09,703V730.7M799.81,703V730.7M779.09,703V730.7M794.3,703V730.7M784.59,703V730.7M772.62,703V730.7M777.17,703V730.7M786.37,703V730.7M791.69,703V730.7M790.79,703V730.7M780.7,703V730.7M785.87,703V730.7M772.7,703V730.7M784.83,703V730.7M788.34,703V730.7M773.5,703V730.7M788.6,703V730.7M769.13,703V730.7M777.11,703V730.7M792.8,703V730.7M782.28,703V730.7M786.54,703V730.7M773.65,703V730.7M781.41,703V730.7M768.38,703V730.7M770.5,703V730.7M792.36,703V730.7M770.28,703V730.7M787.76,703V730.7M782.74,703V730.7M773.85,703V730.7M786.5,703V730.7M783.32,703V730.7M779.77,703V730.7M783.1,703V730.7M796.11,703V730.7M786.1,703V730.7M785.03,703V730.7M774.2,703V730.7M787.26,703V730.7M773.37,703V730.7M771.79,703V730.7M790.2,703V730.7M782.09,703V730.7M781.54,703V730.7M773.63,703V730.7M782.11,703V730.7M794,703V730.7M785.31,703V730.7M780.09,703V730.7M781.42,703V730.7M775.11,703V730.7M778.89,703V730.7M788.89,703V730.7M768.99,703V730.7M771.45,703V730.7M793.12,703V730.7M780.31,703V730.7M776.46,703V730.7M770.81,703V730.7M780.45,703V730.7M779.01,703V730.7M776.61,703V730.7M786.87,703V730.7M784.4,703V730.7M773.3,703V730.7M788.71,703V730.7M787.47,703V730.7M776.66,703V730.7M761.02,703V730.7M762.91,703V730.7M753.61,703V730.7M743.64,703V730.7M757.87,703V730.7M800.22,703V730.7M802.07,703V730.7M806.1,703V730.7M823.82,703V730.7M811.19,703V730.7M821.23,703V730.7M815.06,703V730.7" stroke="#6670c6" stroke-width="1.4" stroke-opacity="0.85" fill="none"/>
<path d="M564.5,699.8H959.5" stroke="#464646" stroke-width="1.5"/>
<rect x="564.5" y="406" width="395" height="328.3" fill="none" stroke="#464646" stroke-width="1.5"/>
<path d="M564.5,734.3v-4M652.28,734.3v-4M740.06,734.3v-4M827.83,734.3v-4M915.61,734.3v-4M608.39,734.3v-2.2M696.17,734.3v-2.2M783.94,734.3v-2.2M871.72,734.3v-2.2M959.5,734.3v-2.2M564.5,699.8h4M564.5,650.83h4M564.5,601.87h4M564.5,552.9h4M564.5,503.93h4M564.5,454.97h4M564.5,406h4M564.5,675.32h2.2M564.5,626.35h2.2M564.5,577.38h2.2M564.5,528.42h2.2M564.5,479.45h2.2M564.5,430.48h2.2" stroke="#464646" stroke-width="1.3" fill="none"/>
<g font-family='"Liberation Serif", serif' font-size="13" fill="#222">
<text x="559.2" y="703.6" text-anchor="end">0.0</text>
<text x="559.2" y="654.63" text-anchor="end">0.2</text>
<text x="559.2" y="605.67" text-anchor="end">0.4</text>
<text x="559.2" y="556.7" text-anchor="end">0.6</text>
<text x="559.2" y="507.73" text-anchor="end">0.8</text>
<text x="559.2" y="458.77" text-anchor="end">1.0</text>
<text x="559.2" y="409.8" text-anchor="end">1.2</text>
<text x="564.5" y="749.7" text-anchor="middle">1</text>
<text x="652.28" y="749.7" text-anchor="middle">2</text>
<text x="740.06" y="749.7" text-anchor="middle">3</text>
<text x="827.83" y="749.7" text-anchor="middle">4</text>
<text x="915.61" y="749.7" text-anchor="middle">5</text>
</g>
<text x="762.2" y="767.7" text-anchor="middle" font-family='"Liberation Serif", serif' font-size="15" fill="#222">Rotation speed (r/min)</text>
<text transform="translate(537.2,552.3) rotate(-90)" text-anchor="middle" font-family='"Liberation Serif", serif' font-size="15" fill="#222">Density</text>
<text x="495.3" y="411.8" font-family='"Liberation Serif", serif' font-size="33.5" fill="#111">(d)</text>
<rect x="581.05" y="421.65" width="28.9" height="13.3" fill="rgb(217,247,237)" fill-opacity="0.5" stroke="#84e0c8" stroke-width="1.5"/>
<text x="614.8" y="432.6" font-family='"Liberation Serif", serif' font-size="13" fill="#111">III</text>
<rect x="581.05" y="438.75" width="28.9" height="13.1" fill="rgb(249,227,217)" fill-opacity="0.5" stroke="#ffc29c" stroke-width="1.5"/>
<text x="614.8" y="449.8" font-family='"Liberation Serif", serif' font-size="13" fill="#111">IV</text>
<rect x="581.05" y="455.45" width="28.9" height="13.6" fill="rgb(249,225,245)" fill-opacity="0.5" stroke="#d4d2f2" stroke-width="1.5"/>
<text x="614.8" y="465.9" font-family='"Liberation Serif", serif' font-size="13" fill="#111">V</text>
<rect x="871.5" y="414.5" width="83.3" height="52.1" fill="#fff"/>
<rect x="871.5" y="414.5" width="83.3" height="11.9" fill="#e6e6e6"/>
<path d="M871.5,414.5H954.8M871.5,426.4H954.8M871.5,436.7H954.8M871.5,446.7H954.8M871.5,456.6H954.8M871.5,466.6H954.8M871.5,414.5V466.6M954.8,414.5V466.6M890.7,426.4V466.6" stroke="#8a8a8a" stroke-width="1" fill="none"/>
<g font-family='"Liberation Serif", serif' font-size="10.5" fill="#1a1a1a" text-anchor="middle">
<text x="913.15" y="424.8">Kernel Smooth</text>
<text x="922.75" y="435.9" font-size="9.5">w</text>
<text x="881.1" y="446.2">III</text>
<text x="922.75" y="446.2">0.15494</text>
<text x="881.1" y="456.1">IV</text>
<text x="922.75" y="456.1">0.11815</text>
<text x="881.1" y="466.1">V</text>
<text x="922.75" y="466.1">0.08499</text>
</g>
</svg></body></html>
